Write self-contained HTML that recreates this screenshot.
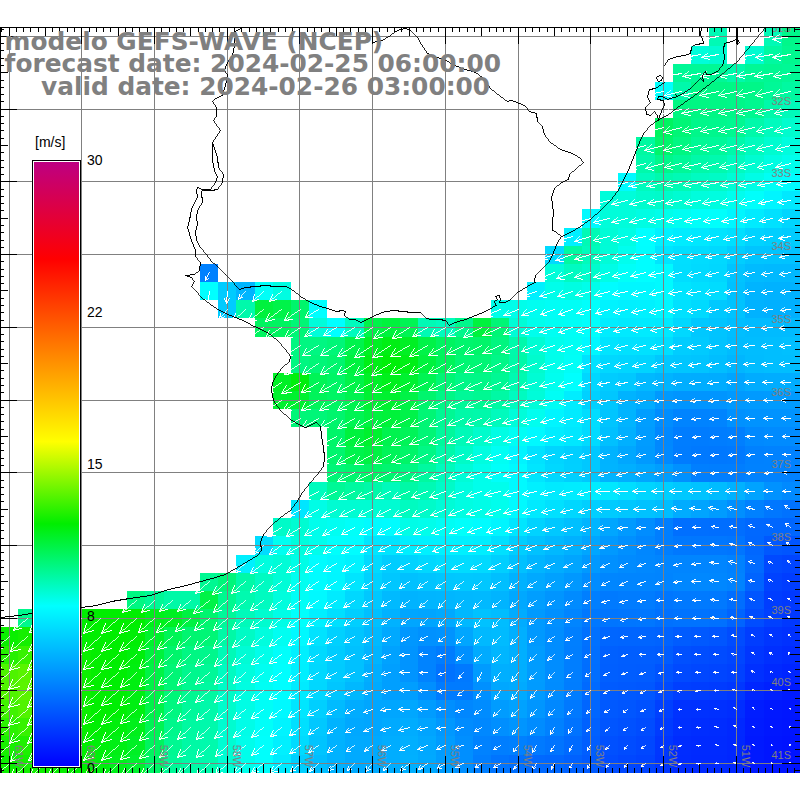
<!DOCTYPE html>
<html><head><meta charset="utf-8"><title>GEFS-WAVE wind</title>
<style>html,body{margin:0;padding:0;background:#fff;}svg{display:block;font-family:"Liberation Sans",sans-serif;}</style></head><body>
<svg width="800" height="800" viewBox="0 0 800 800">
<defs><clipPath id="cp"><rect x="0" y="27" width="800" height="746"/></clipPath>
<linearGradient id="cb" x1="0" y1="1" x2="0" y2="0"><stop offset="0" stop-color="#0000ff"/><stop offset="0.265" stop-color="#00ffff"/><stop offset="0.401" stop-color="#00ee00"/><stop offset="0.537" stop-color="#ffff00"/><stop offset="0.839" stop-color="#ff0000"/><stop offset="1" stop-color="#be0082"/></linearGradient></defs>
<rect width="800" height="800" fill="#fff"/>
<g shape-rendering="crispEdges">
<rect x="709" y="28" width="18" height="18" fill="#00fab5"/><rect x="764" y="28" width="18" height="18" fill="#00fab5"/><rect x="782" y="28" width="18" height="18" fill="#00f78a"/>
<rect x="691" y="46" width="18" height="18" fill="#00fdda"/><rect x="709" y="46" width="18" height="18" fill="#00fcd1"/><rect x="745" y="46" width="19" height="18" fill="#00fcd1"/><rect x="764" y="46" width="18" height="18" fill="#00f9a1"/><rect x="782" y="46" width="18" height="18" fill="#00f88f"/>
<rect x="673" y="64" width="18" height="18" fill="#00f896"/><rect x="691" y="64" width="18" height="18" fill="#00f896"/><rect x="709" y="64" width="18" height="18" fill="#00f896"/><rect x="727" y="64" width="18" height="18" fill="#00f9ab"/><rect x="745" y="64" width="19" height="18" fill="#00f896"/><rect x="764" y="64" width="18" height="18" fill="#00f892"/><rect x="782" y="64" width="18" height="18" fill="#00f896"/>
<rect x="655" y="82" width="18" height="18" fill="#00fffd"/><rect x="673" y="82" width="18" height="18" fill="#00f9ab"/><rect x="691" y="82" width="18" height="18" fill="#00f786"/><rect x="709" y="82" width="18" height="18" fill="#00f785"/><rect x="727" y="82" width="18" height="18" fill="#00f786"/><rect x="745" y="82" width="19" height="18" fill="#00f788"/><rect x="764" y="82" width="18" height="18" fill="#00f897"/><rect x="782" y="82" width="18" height="18" fill="#00f9a1"/>
<rect x="673" y="100" width="18" height="18" fill="#00f781"/><rect x="691" y="100" width="18" height="18" fill="#00f783"/><rect x="709" y="100" width="18" height="18" fill="#00f785"/><rect x="727" y="100" width="18" height="18" fill="#00f789"/><rect x="745" y="100" width="19" height="18" fill="#00f890"/><rect x="764" y="100" width="18" height="18" fill="#00f9aa"/><rect x="782" y="100" width="18" height="18" fill="#00faba"/>
<rect x="655" y="118" width="18" height="19" fill="#00f460"/><rect x="673" y="118" width="18" height="19" fill="#00f676"/><rect x="691" y="118" width="18" height="19" fill="#00f78a"/><rect x="709" y="118" width="18" height="19" fill="#00f78d"/><rect x="727" y="118" width="18" height="19" fill="#00f891"/><rect x="745" y="118" width="19" height="19" fill="#00f9aa"/><rect x="764" y="118" width="18" height="19" fill="#00fbbe"/><rect x="782" y="118" width="18" height="19" fill="#00fcce"/>
<rect x="636" y="137" width="19" height="18" fill="#00f9a1"/><rect x="655" y="137" width="18" height="18" fill="#00f56b"/><rect x="673" y="137" width="18" height="18" fill="#00f782"/><rect x="691" y="137" width="18" height="18" fill="#00f895"/><rect x="709" y="137" width="18" height="18" fill="#00f89a"/><rect x="727" y="137" width="18" height="18" fill="#00f9aa"/><rect x="745" y="137" width="19" height="18" fill="#00fbbe"/><rect x="764" y="137" width="18" height="18" fill="#00fcd0"/><rect x="782" y="137" width="18" height="18" fill="#00fdde"/>
<rect x="636" y="155" width="19" height="18" fill="#00f9ab"/><rect x="655" y="155" width="18" height="18" fill="#00f78b"/><rect x="673" y="155" width="18" height="18" fill="#00f898"/><rect x="691" y="155" width="18" height="18" fill="#00f9a9"/><rect x="709" y="155" width="18" height="18" fill="#00faae"/><rect x="727" y="155" width="18" height="18" fill="#00fbbf"/><rect x="745" y="155" width="19" height="18" fill="#00fcd1"/><rect x="764" y="155" width="18" height="18" fill="#00fde2"/><rect x="782" y="155" width="18" height="18" fill="#00feec"/>
<rect x="618" y="173" width="18" height="18" fill="#00faff"/><rect x="636" y="173" width="19" height="18" fill="#00fbbe"/><rect x="655" y="173" width="18" height="18" fill="#00faad"/><rect x="673" y="173" width="18" height="18" fill="#00fab5"/><rect x="691" y="173" width="18" height="18" fill="#00fbc1"/><rect x="709" y="173" width="18" height="18" fill="#00fbc6"/><rect x="727" y="173" width="18" height="18" fill="#00fcd5"/><rect x="745" y="173" width="19" height="18" fill="#00fde6"/><rect x="764" y="173" width="18" height="18" fill="#00fef5"/><rect x="782" y="173" width="18" height="18" fill="#00fdff"/>
<rect x="600" y="191" width="18" height="18" fill="#00fdda"/><rect x="618" y="191" width="18" height="18" fill="#00fdda"/><rect x="636" y="191" width="19" height="18" fill="#00fccd"/><rect x="655" y="191" width="18" height="18" fill="#00fbca"/><rect x="673" y="191" width="18" height="18" fill="#00fcd2"/><rect x="691" y="191" width="18" height="18" fill="#00fddc"/><rect x="709" y="191" width="18" height="18" fill="#00fde0"/><rect x="727" y="191" width="18" height="18" fill="#00feee"/><rect x="745" y="191" width="19" height="18" fill="#00fffb"/><rect x="764" y="191" width="18" height="18" fill="#00f5ff"/><rect x="782" y="191" width="18" height="18" fill="#00e9ff"/>
<rect x="582" y="209" width="18" height="19" fill="#00faff"/><rect x="600" y="209" width="18" height="19" fill="#00fdda"/><rect x="618" y="209" width="18" height="19" fill="#00fddb"/><rect x="636" y="209" width="19" height="19" fill="#00fde3"/><rect x="655" y="209" width="18" height="19" fill="#00feea"/><rect x="673" y="209" width="18" height="19" fill="#00fef2"/><rect x="691" y="209" width="18" height="19" fill="#00fffa"/><rect x="709" y="209" width="18" height="19" fill="#00fffc"/><rect x="727" y="209" width="18" height="19" fill="#00f6ff"/><rect x="745" y="209" width="19" height="19" fill="#00ebff"/><rect x="764" y="209" width="18" height="19" fill="#00e1ff"/><rect x="782" y="209" width="18" height="19" fill="#00d6ff"/>
<rect x="564" y="228" width="18" height="18" fill="#00f0ff"/><rect x="582" y="228" width="18" height="18" fill="#00fab5"/><rect x="600" y="228" width="18" height="18" fill="#00fcd6"/><rect x="618" y="228" width="18" height="18" fill="#00fde4"/><rect x="636" y="228" width="19" height="18" fill="#00ffff"/><rect x="655" y="228" width="18" height="18" fill="#00f1ff"/><rect x="673" y="228" width="18" height="18" fill="#00ecff"/><rect x="691" y="228" width="18" height="18" fill="#00e8ff"/><rect x="709" y="228" width="18" height="18" fill="#00e4ff"/><rect x="727" y="228" width="18" height="18" fill="#00dfff"/><rect x="745" y="228" width="19" height="18" fill="#00d3ff"/><rect x="764" y="228" width="18" height="18" fill="#00cfff"/><rect x="782" y="228" width="18" height="18" fill="#00ccff"/>
<rect x="545" y="246" width="19" height="18" fill="#00daff"/><rect x="564" y="246" width="18" height="18" fill="#00f9a1"/><rect x="582" y="246" width="18" height="18" fill="#00fbbc"/><rect x="600" y="246" width="18" height="18" fill="#00fcd8"/><rect x="618" y="246" width="18" height="18" fill="#00feee"/><rect x="636" y="246" width="19" height="18" fill="#00feff"/><rect x="655" y="246" width="18" height="18" fill="#00e5ff"/><rect x="673" y="246" width="18" height="18" fill="#00dfff"/><rect x="691" y="246" width="18" height="18" fill="#00dcff"/><rect x="709" y="246" width="18" height="18" fill="#00d9ff"/><rect x="727" y="246" width="18" height="18" fill="#00ceff"/><rect x="745" y="246" width="19" height="18" fill="#00c5ff"/><rect x="764" y="246" width="18" height="18" fill="#00c4ff"/><rect x="782" y="246" width="18" height="18" fill="#00c3ff"/>
<rect x="200" y="264" width="18" height="18" fill="#0081ff"/><rect x="545" y="264" width="19" height="18" fill="#00fdda"/><rect x="564" y="264" width="18" height="18" fill="#00fbc1"/><rect x="582" y="264" width="18" height="18" fill="#00fccc"/><rect x="600" y="264" width="18" height="18" fill="#00fde6"/><rect x="618" y="264" width="18" height="18" fill="#00fff8"/><rect x="636" y="264" width="19" height="18" fill="#00feff"/><rect x="655" y="264" width="18" height="18" fill="#00faff"/><rect x="673" y="264" width="18" height="18" fill="#00deff"/><rect x="691" y="264" width="18" height="18" fill="#00daff"/><rect x="709" y="264" width="18" height="18" fill="#00d7ff"/><rect x="727" y="264" width="18" height="18" fill="#00c4ff"/><rect x="745" y="264" width="19" height="18" fill="#00bbff"/><rect x="764" y="264" width="18" height="18" fill="#00b9ff"/><rect x="782" y="264" width="18" height="18" fill="#00b9ff"/>
<rect x="200" y="282" width="18" height="18" fill="#00ffff"/><rect x="218" y="282" width="18" height="18" fill="#00cbff"/><rect x="236" y="282" width="19" height="18" fill="#00b5ff"/><rect x="255" y="282" width="18" height="18" fill="#00fff8"/><rect x="273" y="282" width="18" height="18" fill="#00fde2"/><rect x="527" y="282" width="18" height="18" fill="#00f0ff"/><rect x="545" y="282" width="19" height="18" fill="#00feea"/><rect x="564" y="282" width="18" height="18" fill="#00fde2"/><rect x="582" y="282" width="18" height="18" fill="#00feea"/><rect x="600" y="282" width="18" height="18" fill="#00fcff"/><rect x="618" y="282" width="18" height="18" fill="#00f7ff"/><rect x="636" y="282" width="19" height="18" fill="#00f7ff"/><rect x="655" y="282" width="18" height="18" fill="#00faff"/><rect x="673" y="282" width="18" height="18" fill="#00e5ff"/><rect x="691" y="282" width="18" height="18" fill="#00e0ff"/><rect x="709" y="282" width="18" height="18" fill="#00dcff"/><rect x="727" y="282" width="18" height="18" fill="#00c1ff"/><rect x="745" y="282" width="19" height="18" fill="#00b4ff"/><rect x="764" y="282" width="18" height="18" fill="#00b2ff"/><rect x="782" y="282" width="18" height="18" fill="#00b2ff"/>
<rect x="218" y="300" width="18" height="18" fill="#00cbff"/><rect x="236" y="300" width="19" height="18" fill="#00f9ab"/><rect x="255" y="300" width="18" height="18" fill="#00f23d"/><rect x="273" y="300" width="18" height="18" fill="#00f349"/><rect x="291" y="300" width="18" height="18" fill="#00f56b"/><rect x="309" y="300" width="18" height="18" fill="#00ffff"/><rect x="491" y="300" width="18" height="18" fill="#00feea"/><rect x="509" y="300" width="18" height="18" fill="#00feea"/><rect x="527" y="300" width="18" height="18" fill="#00fef1"/><rect x="545" y="300" width="19" height="18" fill="#00fef6"/><rect x="564" y="300" width="18" height="18" fill="#00fef6"/><rect x="582" y="300" width="18" height="18" fill="#00fffc"/><rect x="600" y="300" width="18" height="18" fill="#00f3ff"/><rect x="618" y="300" width="18" height="18" fill="#00f0ff"/><rect x="636" y="300" width="19" height="18" fill="#00f1ff"/><rect x="655" y="300" width="18" height="18" fill="#00f6ff"/><rect x="673" y="300" width="18" height="18" fill="#00e1ff"/><rect x="691" y="300" width="18" height="18" fill="#00daff"/><rect x="709" y="300" width="18" height="18" fill="#00c9ff"/><rect x="727" y="300" width="18" height="18" fill="#00c3ff"/><rect x="745" y="300" width="19" height="18" fill="#00b2ff"/><rect x="764" y="300" width="18" height="18" fill="#00b0ff"/><rect x="782" y="300" width="18" height="18" fill="#00b0ff"/>
<rect x="255" y="318" width="18" height="19" fill="#00f460"/><rect x="273" y="318" width="18" height="19" fill="#00f460"/><rect x="291" y="318" width="18" height="19" fill="#00f676"/><rect x="309" y="318" width="18" height="19" fill="#00fdda"/><rect x="327" y="318" width="18" height="19" fill="#00ffff"/><rect x="345" y="318" width="19" height="19" fill="#00fbbe"/><rect x="364" y="318" width="18" height="19" fill="#00f349"/><rect x="382" y="318" width="18" height="19" fill="#00f23d"/><rect x="400" y="318" width="18" height="19" fill="#00f454"/><rect x="418" y="318" width="18" height="19" fill="#00fab5"/><rect x="436" y="318" width="19" height="19" fill="#00fbbe"/><rect x="455" y="318" width="18" height="19" fill="#00f78c"/><rect x="473" y="318" width="18" height="19" fill="#00f23d"/><rect x="491" y="318" width="18" height="19" fill="#00f676"/><rect x="509" y="318" width="18" height="19" fill="#00fcd6"/><rect x="527" y="318" width="18" height="19" fill="#00feec"/><rect x="545" y="318" width="19" height="19" fill="#00fef3"/><rect x="564" y="318" width="18" height="19" fill="#00fef6"/><rect x="582" y="318" width="18" height="19" fill="#00fffc"/><rect x="600" y="318" width="18" height="19" fill="#00edff"/><rect x="618" y="318" width="18" height="19" fill="#00eaff"/><rect x="636" y="318" width="19" height="19" fill="#00ebff"/><rect x="655" y="318" width="18" height="19" fill="#00e9ff"/><rect x="673" y="318" width="18" height="19" fill="#00d8ff"/><rect x="691" y="318" width="18" height="19" fill="#00c8ff"/><rect x="709" y="318" width="18" height="19" fill="#00c4ff"/><rect x="727" y="318" width="18" height="19" fill="#00beff"/><rect x="745" y="318" width="19" height="19" fill="#00bbff"/><rect x="764" y="318" width="18" height="19" fill="#00bbff"/><rect x="782" y="318" width="18" height="19" fill="#00bbff"/>
<rect x="291" y="337" width="18" height="18" fill="#00f781"/><rect x="309" y="337" width="18" height="18" fill="#00f782"/><rect x="327" y="337" width="18" height="18" fill="#00f678"/><rect x="345" y="337" width="19" height="18" fill="#00f34c"/><rect x="364" y="337" width="18" height="18" fill="#00f023"/><rect x="382" y="337" width="18" height="18" fill="#00ef14"/><rect x="400" y="337" width="18" height="18" fill="#00f024"/><rect x="418" y="337" width="18" height="18" fill="#00f348"/><rect x="436" y="337" width="19" height="18" fill="#00f460"/><rect x="455" y="337" width="18" height="18" fill="#00f56d"/><rect x="473" y="337" width="18" height="18" fill="#00f569"/><rect x="491" y="337" width="18" height="18" fill="#00f67f"/><rect x="509" y="337" width="18" height="18" fill="#00f9ab"/><rect x="527" y="337" width="18" height="18" fill="#00fcd3"/><rect x="545" y="337" width="19" height="18" fill="#00feec"/><rect x="564" y="337" width="18" height="18" fill="#00fef4"/><rect x="582" y="337" width="18" height="18" fill="#00f8ff"/><rect x="600" y="337" width="18" height="18" fill="#00e4ff"/><rect x="618" y="337" width="18" height="18" fill="#00e1ff"/><rect x="636" y="337" width="19" height="18" fill="#00e1ff"/><rect x="655" y="337" width="18" height="18" fill="#00deff"/><rect x="673" y="337" width="18" height="18" fill="#00cdff"/><rect x="691" y="337" width="18" height="18" fill="#00caff"/><rect x="709" y="337" width="18" height="18" fill="#00c3ff"/><rect x="727" y="337" width="18" height="18" fill="#00bcff"/><rect x="745" y="337" width="19" height="18" fill="#00bdff"/><rect x="764" y="337" width="18" height="18" fill="#00beff"/><rect x="782" y="337" width="18" height="18" fill="#00c0ff"/>
<rect x="291" y="355" width="18" height="18" fill="#00f781"/><rect x="309" y="355" width="18" height="18" fill="#00f678"/><rect x="327" y="355" width="18" height="18" fill="#00f56e"/><rect x="345" y="355" width="19" height="18" fill="#00f23f"/><rect x="364" y="355" width="18" height="18" fill="#00ef15"/><rect x="382" y="355" width="18" height="18" fill="#00ef08"/><rect x="400" y="355" width="18" height="18" fill="#00ef16"/><rect x="418" y="355" width="18" height="18" fill="#00f23e"/><rect x="436" y="355" width="19" height="18" fill="#00f459"/><rect x="455" y="355" width="18" height="18" fill="#00f673"/><rect x="473" y="355" width="18" height="18" fill="#00f675"/><rect x="491" y="355" width="18" height="18" fill="#00f788"/><rect x="509" y="355" width="18" height="18" fill="#00f9a8"/><rect x="527" y="355" width="18" height="18" fill="#00fccd"/><rect x="545" y="355" width="19" height="18" fill="#00feeb"/><rect x="564" y="355" width="18" height="18" fill="#00fef7"/><rect x="582" y="355" width="18" height="18" fill="#00e2ff"/><rect x="600" y="355" width="18" height="18" fill="#00d8ff"/><rect x="618" y="355" width="18" height="18" fill="#00d6ff"/><rect x="636" y="355" width="19" height="18" fill="#00d4ff"/><rect x="655" y="355" width="18" height="18" fill="#00c8ff"/><rect x="673" y="355" width="18" height="18" fill="#00c6ff"/><rect x="691" y="355" width="18" height="18" fill="#00c4ff"/><rect x="709" y="355" width="18" height="18" fill="#00beff"/><rect x="727" y="355" width="18" height="18" fill="#00b6ff"/><rect x="745" y="355" width="19" height="18" fill="#00bcff"/><rect x="764" y="355" width="18" height="18" fill="#00beff"/><rect x="782" y="355" width="18" height="18" fill="#00beff"/>
<rect x="273" y="373" width="18" height="18" fill="#00f025"/><rect x="291" y="373" width="18" height="18" fill="#00ef0c"/><rect x="309" y="373" width="18" height="18" fill="#00f456"/><rect x="327" y="373" width="18" height="18" fill="#00f566"/><rect x="345" y="373" width="19" height="18" fill="#00f348"/><rect x="364" y="373" width="18" height="18" fill="#00f127"/><rect x="382" y="373" width="18" height="18" fill="#00f01c"/><rect x="400" y="373" width="18" height="18" fill="#00f131"/><rect x="418" y="373" width="18" height="18" fill="#00f453"/><rect x="436" y="373" width="19" height="18" fill="#00f674"/><rect x="455" y="373" width="18" height="18" fill="#00f787"/><rect x="473" y="373" width="18" height="18" fill="#00f787"/><rect x="491" y="373" width="18" height="18" fill="#00f894"/><rect x="509" y="373" width="18" height="18" fill="#00fab1"/><rect x="527" y="373" width="18" height="18" fill="#00fcd4"/><rect x="545" y="373" width="19" height="18" fill="#00feef"/><rect x="564" y="373" width="18" height="18" fill="#00fffe"/><rect x="582" y="373" width="18" height="18" fill="#00d7ff"/><rect x="600" y="373" width="18" height="18" fill="#00ccff"/><rect x="618" y="373" width="18" height="18" fill="#00c8ff"/><rect x="636" y="373" width="19" height="18" fill="#00b9ff"/><rect x="655" y="373" width="18" height="18" fill="#00b4ff"/><rect x="673" y="373" width="18" height="18" fill="#00aeff"/><rect x="691" y="373" width="18" height="18" fill="#00adff"/><rect x="709" y="373" width="18" height="18" fill="#00acff"/><rect x="727" y="373" width="18" height="18" fill="#00a5ff"/><rect x="745" y="373" width="19" height="18" fill="#00acff"/><rect x="764" y="373" width="18" height="18" fill="#00adff"/><rect x="782" y="373" width="18" height="18" fill="#00adff"/>
<rect x="273" y="391" width="18" height="18" fill="#00f12f"/><rect x="291" y="391" width="18" height="18" fill="#00f12f"/><rect x="309" y="391" width="18" height="18" fill="#00f45a"/><rect x="327" y="391" width="18" height="18" fill="#00f564"/><rect x="345" y="391" width="19" height="18" fill="#00f350"/><rect x="364" y="391" width="18" height="18" fill="#00f133"/><rect x="382" y="391" width="18" height="18" fill="#00f130"/><rect x="400" y="391" width="18" height="18" fill="#00f346"/><rect x="418" y="391" width="18" height="18" fill="#00f56d"/><rect x="436" y="391" width="19" height="18" fill="#00f786"/><rect x="455" y="391" width="18" height="18" fill="#00f898"/><rect x="473" y="391" width="18" height="18" fill="#00f892"/><rect x="491" y="391" width="18" height="18" fill="#00f9a4"/><rect x="509" y="391" width="18" height="18" fill="#00fbc0"/><rect x="527" y="391" width="18" height="18" fill="#00fcd9"/><rect x="545" y="391" width="19" height="18" fill="#00fef5"/><rect x="564" y="391" width="18" height="18" fill="#00edff"/><rect x="582" y="391" width="18" height="18" fill="#00d1ff"/><rect x="600" y="391" width="18" height="18" fill="#00c7ff"/><rect x="618" y="391" width="18" height="18" fill="#00b3ff"/><rect x="636" y="391" width="19" height="18" fill="#00acff"/><rect x="655" y="391" width="18" height="18" fill="#0099ff"/><rect x="673" y="391" width="18" height="18" fill="#0095ff"/><rect x="691" y="391" width="18" height="18" fill="#0095ff"/><rect x="709" y="391" width="18" height="18" fill="#0095ff"/><rect x="727" y="391" width="18" height="18" fill="#0099ff"/><rect x="745" y="391" width="19" height="18" fill="#009aff"/><rect x="764" y="391" width="18" height="18" fill="#009bff"/><rect x="782" y="391" width="18" height="18" fill="#009bff"/>
<rect x="291" y="409" width="18" height="18" fill="#00f678"/><rect x="309" y="409" width="18" height="18" fill="#00f678"/><rect x="327" y="409" width="18" height="18" fill="#00f56d"/><rect x="345" y="409" width="19" height="18" fill="#00f453"/><rect x="364" y="409" width="18" height="18" fill="#00f240"/><rect x="382" y="409" width="18" height="18" fill="#00f23a"/><rect x="400" y="409" width="18" height="18" fill="#00f349"/><rect x="418" y="409" width="18" height="18" fill="#00f675"/><rect x="436" y="409" width="19" height="18" fill="#00f894"/><rect x="455" y="409" width="18" height="18" fill="#00f9a8"/><rect x="473" y="409" width="18" height="18" fill="#00f9ab"/><rect x="491" y="409" width="18" height="18" fill="#00fbbd"/><rect x="509" y="409" width="18" height="18" fill="#00fdda"/><rect x="527" y="409" width="18" height="18" fill="#00feef"/><rect x="545" y="409" width="19" height="18" fill="#00f5ff"/><rect x="564" y="409" width="18" height="18" fill="#00ebff"/><rect x="582" y="409" width="18" height="18" fill="#00ddff"/><rect x="600" y="409" width="18" height="18" fill="#00c5ff"/><rect x="618" y="409" width="18" height="18" fill="#00b4ff"/><rect x="636" y="409" width="19" height="18" fill="#009eff"/><rect x="655" y="409" width="18" height="18" fill="#008dff"/><rect x="673" y="409" width="18" height="18" fill="#0084ff"/><rect x="691" y="409" width="18" height="18" fill="#0083ff"/><rect x="709" y="409" width="18" height="18" fill="#0084ff"/><rect x="727" y="409" width="18" height="18" fill="#0091ff"/><rect x="745" y="409" width="19" height="18" fill="#0093ff"/><rect x="764" y="409" width="18" height="18" fill="#0093ff"/><rect x="782" y="409" width="18" height="18" fill="#0093ff"/>
<rect x="327" y="427" width="18" height="19" fill="#00f569"/><rect x="345" y="427" width="19" height="19" fill="#00f23e"/><rect x="364" y="427" width="18" height="19" fill="#00f12e"/><rect x="382" y="427" width="18" height="19" fill="#00f34e"/><rect x="400" y="427" width="18" height="19" fill="#00f458"/><rect x="418" y="427" width="18" height="19" fill="#00f676"/><rect x="436" y="427" width="19" height="19" fill="#00f89c"/><rect x="455" y="427" width="18" height="19" fill="#00fab8"/><rect x="473" y="427" width="18" height="19" fill="#00fccc"/><rect x="491" y="427" width="18" height="19" fill="#00fde4"/><rect x="509" y="427" width="18" height="19" fill="#00fef5"/><rect x="527" y="427" width="18" height="19" fill="#00f9ff"/><rect x="545" y="427" width="19" height="19" fill="#00edff"/><rect x="564" y="427" width="18" height="19" fill="#00e7ff"/><rect x="582" y="427" width="18" height="19" fill="#00dbff"/><rect x="600" y="427" width="18" height="19" fill="#00c0ff"/><rect x="618" y="427" width="18" height="19" fill="#00b0ff"/><rect x="636" y="427" width="19" height="19" fill="#009cff"/><rect x="655" y="427" width="18" height="19" fill="#0088ff"/><rect x="673" y="427" width="18" height="19" fill="#007dff"/><rect x="691" y="427" width="18" height="19" fill="#007cff"/><rect x="709" y="427" width="18" height="19" fill="#007dff"/><rect x="727" y="427" width="18" height="19" fill="#007fff"/><rect x="745" y="427" width="19" height="19" fill="#0089ff"/><rect x="764" y="427" width="18" height="19" fill="#008bff"/><rect x="782" y="427" width="18" height="19" fill="#008bff"/>
<rect x="327" y="446" width="18" height="18" fill="#00f56e"/><rect x="345" y="446" width="19" height="18" fill="#00f34c"/><rect x="364" y="446" width="18" height="18" fill="#00f243"/><rect x="382" y="446" width="18" height="18" fill="#00f459"/><rect x="400" y="446" width="18" height="18" fill="#00f568"/><rect x="418" y="446" width="18" height="18" fill="#00f785"/><rect x="436" y="446" width="19" height="18" fill="#00f9aa"/><rect x="455" y="446" width="18" height="18" fill="#00fbc7"/><rect x="473" y="446" width="18" height="18" fill="#00fde0"/><rect x="491" y="446" width="18" height="18" fill="#00fef4"/><rect x="509" y="446" width="18" height="18" fill="#00f4ff"/><rect x="527" y="446" width="18" height="18" fill="#00e2ff"/><rect x="545" y="446" width="19" height="18" fill="#00d5ff"/><rect x="564" y="446" width="18" height="18" fill="#00cfff"/><rect x="582" y="446" width="18" height="18" fill="#00c8ff"/><rect x="600" y="446" width="18" height="18" fill="#00b3ff"/><rect x="618" y="446" width="18" height="18" fill="#00a7ff"/><rect x="636" y="446" width="19" height="18" fill="#009aff"/><rect x="655" y="446" width="18" height="18" fill="#0089ff"/><rect x="673" y="446" width="18" height="18" fill="#007cff"/><rect x="691" y="446" width="18" height="18" fill="#0079ff"/><rect x="709" y="446" width="18" height="18" fill="#0078ff"/><rect x="727" y="446" width="18" height="18" fill="#0079ff"/><rect x="745" y="446" width="19" height="18" fill="#0081ff"/><rect x="764" y="446" width="18" height="18" fill="#0082ff"/><rect x="782" y="446" width="18" height="18" fill="#0082ff"/>
<rect x="327" y="464" width="18" height="18" fill="#00f678"/><rect x="345" y="464" width="19" height="18" fill="#00f56f"/><rect x="364" y="464" width="18" height="18" fill="#00f566"/><rect x="382" y="464" width="18" height="18" fill="#00f570"/><rect x="400" y="464" width="18" height="18" fill="#00f783"/><rect x="418" y="464" width="18" height="18" fill="#00f9a0"/><rect x="436" y="464" width="19" height="18" fill="#00fbbd"/><rect x="455" y="464" width="18" height="18" fill="#00fcd7"/><rect x="473" y="464" width="18" height="18" fill="#00feea"/><rect x="491" y="464" width="18" height="18" fill="#00fff9"/><rect x="509" y="464" width="18" height="18" fill="#00faff"/><rect x="527" y="464" width="18" height="18" fill="#00e6ff"/><rect x="545" y="464" width="19" height="18" fill="#00d8ff"/><rect x="564" y="464" width="18" height="18" fill="#00d0ff"/><rect x="582" y="464" width="18" height="18" fill="#00c8ff"/><rect x="600" y="464" width="18" height="18" fill="#00b4ff"/><rect x="618" y="464" width="18" height="18" fill="#00afff"/><rect x="636" y="464" width="19" height="18" fill="#00a7ff"/><rect x="655" y="464" width="18" height="18" fill="#009eff"/><rect x="673" y="464" width="18" height="18" fill="#0091ff"/><rect x="691" y="464" width="18" height="18" fill="#007fff"/><rect x="709" y="464" width="18" height="18" fill="#007eff"/><rect x="727" y="464" width="18" height="18" fill="#007eff"/><rect x="745" y="464" width="19" height="18" fill="#0082ff"/><rect x="764" y="464" width="18" height="18" fill="#0082ff"/><rect x="782" y="464" width="18" height="18" fill="#0081ff"/>
<rect x="309" y="482" width="18" height="18" fill="#00fbbe"/><rect x="327" y="482" width="18" height="18" fill="#00f896"/><rect x="345" y="482" width="19" height="18" fill="#00f9a0"/><rect x="364" y="482" width="18" height="18" fill="#00f9a9"/><rect x="382" y="482" width="18" height="18" fill="#00fabb"/><rect x="400" y="482" width="18" height="18" fill="#00f9a6"/><rect x="418" y="482" width="18" height="18" fill="#00fab4"/><rect x="436" y="482" width="19" height="18" fill="#00fbc8"/><rect x="455" y="482" width="18" height="18" fill="#00fde0"/><rect x="473" y="482" width="18" height="18" fill="#00feeb"/><rect x="491" y="482" width="18" height="18" fill="#00feec"/><rect x="509" y="482" width="18" height="18" fill="#00faff"/><rect x="527" y="482" width="18" height="18" fill="#00f0ff"/><rect x="545" y="482" width="19" height="18" fill="#00eaff"/><rect x="564" y="482" width="18" height="18" fill="#00ecff"/><rect x="582" y="482" width="18" height="18" fill="#00edff"/><rect x="600" y="482" width="18" height="18" fill="#00e8ff"/><rect x="618" y="482" width="18" height="18" fill="#00deff"/><rect x="636" y="482" width="19" height="18" fill="#00d5ff"/><rect x="655" y="482" width="18" height="18" fill="#00cfff"/><rect x="673" y="482" width="18" height="18" fill="#00c8ff"/><rect x="691" y="482" width="18" height="18" fill="#00c3ff"/><rect x="709" y="482" width="18" height="18" fill="#00bcff"/><rect x="727" y="482" width="18" height="18" fill="#00b2ff"/><rect x="745" y="482" width="19" height="18" fill="#00a3ff"/><rect x="764" y="482" width="18" height="18" fill="#0092ff"/><rect x="782" y="482" width="18" height="18" fill="#008aff"/>
<rect x="291" y="500" width="18" height="18" fill="#00e6ff"/><rect x="309" y="500" width="18" height="18" fill="#00fde6"/><rect x="327" y="500" width="18" height="18" fill="#00fcd2"/><rect x="345" y="500" width="19" height="18" fill="#00fcd2"/><rect x="364" y="500" width="18" height="18" fill="#00fcd2"/><rect x="382" y="500" width="18" height="18" fill="#00fcd2"/><rect x="400" y="500" width="18" height="18" fill="#00fbc0"/><rect x="418" y="500" width="18" height="18" fill="#00fbc9"/><rect x="436" y="500" width="19" height="18" fill="#00fcd7"/><rect x="455" y="500" width="18" height="18" fill="#00fde2"/><rect x="473" y="500" width="18" height="18" fill="#00fde7"/><rect x="491" y="500" width="18" height="18" fill="#00feed"/><rect x="509" y="500" width="18" height="18" fill="#00faff"/><rect x="527" y="500" width="18" height="18" fill="#00eaff"/><rect x="545" y="500" width="19" height="18" fill="#00e1ff"/><rect x="564" y="500" width="18" height="18" fill="#00d7ff"/><rect x="582" y="500" width="18" height="18" fill="#00cfff"/><rect x="600" y="500" width="18" height="18" fill="#00cbff"/><rect x="618" y="500" width="18" height="18" fill="#00c7ff"/><rect x="636" y="500" width="19" height="18" fill="#00c2ff"/><rect x="655" y="500" width="18" height="18" fill="#00beff"/><rect x="673" y="500" width="18" height="18" fill="#00acff"/><rect x="691" y="500" width="18" height="18" fill="#00a4ff"/><rect x="709" y="500" width="18" height="18" fill="#009cff"/><rect x="727" y="500" width="18" height="18" fill="#008fff"/><rect x="745" y="500" width="19" height="18" fill="#0081ff"/><rect x="764" y="500" width="18" height="18" fill="#0077ff"/><rect x="782" y="500" width="18" height="18" fill="#0072ff"/>
<rect x="273" y="518" width="18" height="18" fill="#00fbc8"/><rect x="291" y="518" width="18" height="18" fill="#00fcd2"/><rect x="309" y="518" width="18" height="18" fill="#00feec"/><rect x="327" y="518" width="18" height="18" fill="#00fef2"/><rect x="345" y="518" width="19" height="18" fill="#00fff9"/><rect x="364" y="518" width="18" height="18" fill="#00fbff"/><rect x="382" y="518" width="18" height="18" fill="#00fcff"/><rect x="400" y="518" width="18" height="18" fill="#00fde7"/><rect x="418" y="518" width="18" height="18" fill="#00feeb"/><rect x="436" y="518" width="19" height="18" fill="#00fef5"/><rect x="455" y="518" width="18" height="18" fill="#00fffb"/><rect x="473" y="518" width="18" height="18" fill="#00fcff"/><rect x="491" y="518" width="18" height="18" fill="#00f5ff"/><rect x="509" y="518" width="18" height="18" fill="#00e6ff"/><rect x="527" y="518" width="18" height="18" fill="#00d3ff"/><rect x="545" y="518" width="19" height="18" fill="#00c8ff"/><rect x="564" y="518" width="18" height="18" fill="#00c0ff"/><rect x="582" y="518" width="18" height="18" fill="#00b5ff"/><rect x="600" y="518" width="18" height="18" fill="#00a6ff"/><rect x="618" y="518" width="18" height="18" fill="#009aff"/><rect x="636" y="518" width="19" height="18" fill="#008dff"/><rect x="655" y="518" width="18" height="18" fill="#007eff"/><rect x="673" y="518" width="18" height="18" fill="#006fff"/><rect x="691" y="518" width="18" height="18" fill="#006fff"/><rect x="709" y="518" width="18" height="18" fill="#006eff"/><rect x="727" y="518" width="18" height="18" fill="#006eff"/><rect x="745" y="518" width="19" height="18" fill="#0068ff"/><rect x="764" y="518" width="18" height="18" fill="#0067ff"/><rect x="782" y="518" width="18" height="18" fill="#0066ff"/>
<rect x="255" y="536" width="18" height="19" fill="#00dcff"/><rect x="273" y="536" width="18" height="19" fill="#00fef1"/><rect x="291" y="536" width="18" height="19" fill="#00fddd"/><rect x="309" y="536" width="18" height="19" fill="#00feec"/><rect x="327" y="536" width="18" height="19" fill="#00fffc"/><rect x="345" y="536" width="19" height="19" fill="#00fdff"/><rect x="364" y="536" width="18" height="19" fill="#00e6ff"/><rect x="382" y="536" width="18" height="19" fill="#00e4ff"/><rect x="400" y="536" width="18" height="19" fill="#00efff"/><rect x="418" y="536" width="18" height="19" fill="#00f1ff"/><rect x="436" y="536" width="19" height="19" fill="#00f1ff"/><rect x="455" y="536" width="18" height="19" fill="#00f0ff"/><rect x="473" y="536" width="18" height="19" fill="#00eeff"/><rect x="491" y="536" width="18" height="19" fill="#00e0ff"/><rect x="509" y="536" width="18" height="19" fill="#00ceff"/><rect x="527" y="536" width="18" height="19" fill="#00c2ff"/><rect x="545" y="536" width="19" height="19" fill="#00b9ff"/><rect x="564" y="536" width="18" height="19" fill="#00b1ff"/><rect x="582" y="536" width="18" height="19" fill="#00a6ff"/><rect x="600" y="536" width="18" height="19" fill="#0099ff"/><rect x="618" y="536" width="18" height="19" fill="#0090ff"/><rect x="636" y="536" width="19" height="19" fill="#0087ff"/><rect x="655" y="536" width="18" height="19" fill="#007eff"/><rect x="673" y="536" width="18" height="19" fill="#0078ff"/><rect x="691" y="536" width="18" height="19" fill="#0077ff"/><rect x="709" y="536" width="18" height="19" fill="#0077ff"/><rect x="727" y="536" width="18" height="19" fill="#0075ff"/><rect x="745" y="536" width="19" height="19" fill="#0067ff"/><rect x="764" y="536" width="18" height="19" fill="#0058ff"/><rect x="782" y="536" width="18" height="19" fill="#0055ff"/>
<rect x="236" y="555" width="19" height="18" fill="#00f0ff"/><rect x="255" y="555" width="18" height="18" fill="#00fdde"/><rect x="273" y="555" width="18" height="18" fill="#00fcd7"/><rect x="291" y="555" width="18" height="18" fill="#00fde7"/><rect x="309" y="555" width="18" height="18" fill="#00fcff"/><rect x="327" y="555" width="18" height="18" fill="#00f7ff"/><rect x="345" y="555" width="19" height="18" fill="#00f2ff"/><rect x="364" y="555" width="18" height="18" fill="#00daff"/><rect x="382" y="555" width="18" height="18" fill="#00cdff"/><rect x="400" y="555" width="18" height="18" fill="#00d3ff"/><rect x="418" y="555" width="18" height="18" fill="#00d8ff"/><rect x="436" y="555" width="19" height="18" fill="#00dcff"/><rect x="455" y="555" width="18" height="18" fill="#00dcff"/><rect x="473" y="555" width="18" height="18" fill="#00daff"/><rect x="491" y="555" width="18" height="18" fill="#00cfff"/><rect x="509" y="555" width="18" height="18" fill="#00c1ff"/><rect x="527" y="555" width="18" height="18" fill="#00b5ff"/><rect x="545" y="555" width="19" height="18" fill="#00adff"/><rect x="564" y="555" width="18" height="18" fill="#00a5ff"/><rect x="582" y="555" width="18" height="18" fill="#0099ff"/><rect x="600" y="555" width="18" height="18" fill="#0090ff"/><rect x="618" y="555" width="18" height="18" fill="#008bff"/><rect x="636" y="555" width="19" height="18" fill="#0088ff"/><rect x="655" y="555" width="18" height="18" fill="#0085ff"/><rect x="673" y="555" width="18" height="18" fill="#0085ff"/><rect x="691" y="555" width="18" height="18" fill="#0085ff"/><rect x="709" y="555" width="18" height="18" fill="#0085ff"/><rect x="727" y="555" width="18" height="18" fill="#0081ff"/><rect x="745" y="555" width="19" height="18" fill="#006aff"/><rect x="764" y="555" width="18" height="18" fill="#0049ff"/><rect x="782" y="555" width="18" height="18" fill="#0045ff"/>
<rect x="200" y="573" width="18" height="18" fill="#00f892"/><rect x="218" y="573" width="18" height="18" fill="#00f67a"/><rect x="236" y="573" width="19" height="18" fill="#00f9a7"/><rect x="255" y="573" width="18" height="18" fill="#00fbc2"/><rect x="273" y="573" width="18" height="18" fill="#00fcd7"/><rect x="291" y="573" width="18" height="18" fill="#00fef0"/><rect x="309" y="573" width="18" height="18" fill="#00fcff"/><rect x="327" y="573" width="18" height="18" fill="#00f6ff"/><rect x="345" y="573" width="19" height="18" fill="#00e5ff"/><rect x="364" y="573" width="18" height="18" fill="#00d2ff"/><rect x="382" y="573" width="18" height="18" fill="#00c7ff"/><rect x="400" y="573" width="18" height="18" fill="#00c1ff"/><rect x="418" y="573" width="18" height="18" fill="#00c4ff"/><rect x="436" y="573" width="19" height="18" fill="#00c7ff"/><rect x="455" y="573" width="18" height="18" fill="#00c8ff"/><rect x="473" y="573" width="18" height="18" fill="#00c7ff"/><rect x="491" y="573" width="18" height="18" fill="#00bfff"/><rect x="509" y="573" width="18" height="18" fill="#00b2ff"/><rect x="527" y="573" width="18" height="18" fill="#00a9ff"/><rect x="545" y="573" width="19" height="18" fill="#00a1ff"/><rect x="564" y="573" width="18" height="18" fill="#0098ff"/><rect x="582" y="573" width="18" height="18" fill="#008cff"/><rect x="600" y="573" width="18" height="18" fill="#0086ff"/><rect x="618" y="573" width="18" height="18" fill="#0085ff"/><rect x="636" y="573" width="19" height="18" fill="#0085ff"/><rect x="655" y="573" width="18" height="18" fill="#0084ff"/><rect x="673" y="573" width="18" height="18" fill="#0087ff"/><rect x="691" y="573" width="18" height="18" fill="#0088ff"/><rect x="709" y="573" width="18" height="18" fill="#0087ff"/><rect x="727" y="573" width="18" height="18" fill="#0083ff"/><rect x="745" y="573" width="19" height="18" fill="#0064ff"/><rect x="764" y="573" width="18" height="18" fill="#0042ff"/><rect x="782" y="573" width="18" height="18" fill="#003dff"/>
<rect x="127" y="591" width="18" height="18" fill="#00f782"/><rect x="145" y="591" width="19" height="18" fill="#00f896"/><rect x="164" y="591" width="18" height="18" fill="#00f9a7"/><rect x="182" y="591" width="18" height="18" fill="#00f9a7"/><rect x="200" y="591" width="18" height="18" fill="#00f347"/><rect x="218" y="591" width="18" height="18" fill="#00f88f"/><rect x="236" y="591" width="19" height="18" fill="#00faaf"/><rect x="255" y="591" width="18" height="18" fill="#00fbc0"/><rect x="273" y="591" width="18" height="18" fill="#00fddd"/><rect x="291" y="591" width="18" height="18" fill="#00fef6"/><rect x="309" y="591" width="18" height="18" fill="#00f9ff"/><rect x="327" y="591" width="18" height="18" fill="#00ebff"/><rect x="345" y="591" width="19" height="18" fill="#00d8ff"/><rect x="364" y="591" width="18" height="18" fill="#00c8ff"/><rect x="382" y="591" width="18" height="18" fill="#00baff"/><rect x="400" y="591" width="18" height="18" fill="#00b3ff"/><rect x="418" y="591" width="18" height="18" fill="#00b5ff"/><rect x="436" y="591" width="19" height="18" fill="#00b6ff"/><rect x="455" y="591" width="18" height="18" fill="#00b8ff"/><rect x="473" y="591" width="18" height="18" fill="#00b9ff"/><rect x="491" y="591" width="18" height="18" fill="#00b4ff"/><rect x="509" y="591" width="18" height="18" fill="#00a8ff"/><rect x="527" y="591" width="18" height="18" fill="#009eff"/><rect x="545" y="591" width="19" height="18" fill="#0095ff"/><rect x="564" y="591" width="18" height="18" fill="#008bff"/><rect x="582" y="591" width="18" height="18" fill="#007fff"/><rect x="600" y="591" width="18" height="18" fill="#007aff"/><rect x="618" y="591" width="18" height="18" fill="#007cff"/><rect x="636" y="591" width="19" height="18" fill="#007cff"/><rect x="655" y="591" width="18" height="18" fill="#0076ff"/><rect x="673" y="591" width="18" height="18" fill="#0079ff"/><rect x="691" y="591" width="18" height="18" fill="#007aff"/><rect x="709" y="591" width="18" height="18" fill="#0079ff"/><rect x="727" y="591" width="18" height="18" fill="#006eff"/><rect x="745" y="591" width="19" height="18" fill="#0055ff"/><rect x="764" y="591" width="18" height="18" fill="#003dff"/><rect x="782" y="591" width="18" height="18" fill="#0039ff"/>
<rect x="18" y="609" width="18" height="18" fill="#00f78c"/><rect x="36" y="609" width="19" height="18" fill="#00f01e"/><rect x="55" y="609" width="18" height="18" fill="#00ef0a"/><rect x="73" y="609" width="18" height="18" fill="#00ee00"/><rect x="91" y="609" width="18" height="18" fill="#00ee00"/><rect x="109" y="609" width="18" height="18" fill="#00ee00"/><rect x="127" y="609" width="18" height="18" fill="#00ee00"/><rect x="145" y="609" width="19" height="18" fill="#00f019"/><rect x="164" y="609" width="18" height="18" fill="#00f023"/><rect x="182" y="609" width="18" height="18" fill="#00f242"/><rect x="200" y="609" width="18" height="18" fill="#00f56f"/><rect x="218" y="609" width="18" height="18" fill="#00f89a"/><rect x="236" y="609" width="19" height="18" fill="#00faba"/><rect x="255" y="609" width="18" height="18" fill="#00fccf"/><rect x="273" y="609" width="18" height="18" fill="#00fde6"/><rect x="291" y="609" width="18" height="18" fill="#00fffc"/><rect x="309" y="609" width="18" height="18" fill="#00f0ff"/><rect x="327" y="609" width="18" height="18" fill="#00e0ff"/><rect x="345" y="609" width="19" height="18" fill="#00cfff"/><rect x="364" y="609" width="18" height="18" fill="#00c0ff"/><rect x="382" y="609" width="18" height="18" fill="#00b2ff"/><rect x="400" y="609" width="18" height="18" fill="#00a6ff"/><rect x="418" y="609" width="18" height="18" fill="#00a5ff"/><rect x="436" y="609" width="19" height="18" fill="#00a9ff"/><rect x="455" y="609" width="18" height="18" fill="#00b8ff"/><rect x="473" y="609" width="18" height="18" fill="#00c2ff"/><rect x="491" y="609" width="18" height="18" fill="#00bdff"/><rect x="509" y="609" width="18" height="18" fill="#00acff"/><rect x="527" y="609" width="18" height="18" fill="#009aff"/><rect x="545" y="609" width="19" height="18" fill="#0090ff"/><rect x="564" y="609" width="18" height="18" fill="#0085ff"/><rect x="582" y="609" width="18" height="18" fill="#0078ff"/><rect x="600" y="609" width="18" height="18" fill="#0075ff"/><rect x="618" y="609" width="18" height="18" fill="#0076ff"/><rect x="636" y="609" width="19" height="18" fill="#0077ff"/><rect x="655" y="609" width="18" height="18" fill="#0071ff"/><rect x="673" y="609" width="18" height="18" fill="#0073ff"/><rect x="691" y="609" width="18" height="18" fill="#0073ff"/><rect x="709" y="609" width="18" height="18" fill="#0071ff"/><rect x="727" y="609" width="18" height="18" fill="#0064ff"/><rect x="745" y="609" width="19" height="18" fill="#004dff"/><rect x="764" y="609" width="18" height="18" fill="#0040ff"/><rect x="782" y="609" width="18" height="18" fill="#0038ff"/>
<rect x="0" y="627" width="18" height="19" fill="#0aef00"/><rect x="18" y="627" width="18" height="19" fill="#14ef00"/><rect x="36" y="627" width="19" height="19" fill="#09ef00"/><rect x="55" y="627" width="18" height="19" fill="#07ee00"/><rect x="73" y="627" width="18" height="19" fill="#02ee00"/><rect x="91" y="627" width="18" height="19" fill="#01ee00"/><rect x="109" y="627" width="18" height="19" fill="#00ee00"/><rect x="127" y="627" width="18" height="19" fill="#00ee05"/><rect x="145" y="627" width="19" height="19" fill="#00f12c"/><rect x="164" y="627" width="18" height="19" fill="#00f456"/><rect x="182" y="627" width="18" height="19" fill="#00f570"/><rect x="200" y="627" width="18" height="19" fill="#00f676"/><rect x="218" y="627" width="18" height="19" fill="#00f9a6"/><rect x="236" y="627" width="19" height="19" fill="#00fbc5"/><rect x="255" y="627" width="18" height="19" fill="#00fdde"/><rect x="273" y="627" width="18" height="19" fill="#00fef2"/><rect x="291" y="627" width="18" height="19" fill="#00f9ff"/><rect x="309" y="627" width="18" height="19" fill="#00e3ff"/><rect x="327" y="627" width="18" height="19" fill="#00d1ff"/><rect x="345" y="627" width="19" height="19" fill="#00c5ff"/><rect x="364" y="627" width="18" height="19" fill="#00b9ff"/><rect x="382" y="627" width="18" height="19" fill="#00a9ff"/><rect x="400" y="627" width="18" height="19" fill="#0097ff"/><rect x="418" y="627" width="18" height="19" fill="#0091ff"/><rect x="436" y="627" width="19" height="19" fill="#0093ff"/><rect x="455" y="627" width="18" height="19" fill="#00a6ff"/><rect x="473" y="627" width="18" height="19" fill="#00b9ff"/><rect x="491" y="627" width="18" height="19" fill="#00bbff"/><rect x="509" y="627" width="18" height="19" fill="#00afff"/><rect x="527" y="627" width="18" height="19" fill="#0099ff"/><rect x="545" y="627" width="19" height="19" fill="#008dff"/><rect x="564" y="627" width="18" height="19" fill="#007fff"/><rect x="582" y="627" width="18" height="19" fill="#0071ff"/><rect x="600" y="627" width="18" height="19" fill="#0066ff"/><rect x="618" y="627" width="18" height="19" fill="#0065ff"/><rect x="636" y="627" width="19" height="19" fill="#0065ff"/><rect x="655" y="627" width="18" height="19" fill="#0063ff"/><rect x="673" y="627" width="18" height="19" fill="#005cff"/><rect x="691" y="627" width="18" height="19" fill="#0059ff"/><rect x="709" y="627" width="18" height="19" fill="#0056ff"/><rect x="727" y="627" width="18" height="19" fill="#004cff"/><rect x="745" y="627" width="19" height="19" fill="#003dff"/><rect x="764" y="627" width="18" height="19" fill="#0035ff"/><rect x="782" y="627" width="18" height="19" fill="#0031ff"/>
<rect x="0" y="646" width="18" height="18" fill="#26f000"/><rect x="18" y="646" width="18" height="18" fill="#37f200"/><rect x="36" y="646" width="19" height="18" fill="#2bf100"/><rect x="55" y="646" width="18" height="18" fill="#1af000"/><rect x="73" y="646" width="18" height="18" fill="#0aef00"/><rect x="91" y="646" width="18" height="18" fill="#04ee00"/><rect x="109" y="646" width="18" height="18" fill="#00ee00"/><rect x="127" y="646" width="18" height="18" fill="#00ef0b"/><rect x="145" y="646" width="19" height="18" fill="#00f23c"/><rect x="164" y="646" width="18" height="18" fill="#00f56b"/><rect x="182" y="646" width="18" height="18" fill="#00f783"/><rect x="200" y="646" width="18" height="18" fill="#00f78c"/><rect x="218" y="646" width="18" height="18" fill="#00fab7"/><rect x="236" y="646" width="19" height="18" fill="#00fcd5"/><rect x="255" y="646" width="18" height="18" fill="#00feea"/><rect x="273" y="646" width="18" height="18" fill="#00fffb"/><rect x="291" y="646" width="18" height="18" fill="#00f0ff"/><rect x="309" y="646" width="18" height="18" fill="#00daff"/><rect x="327" y="646" width="18" height="18" fill="#00ccff"/><rect x="345" y="646" width="19" height="18" fill="#00c1ff"/><rect x="364" y="646" width="18" height="18" fill="#00b4ff"/><rect x="382" y="646" width="18" height="18" fill="#00a2ff"/><rect x="400" y="646" width="18" height="18" fill="#0094ff"/><rect x="418" y="646" width="18" height="18" fill="#0083ff"/><rect x="436" y="646" width="19" height="18" fill="#007cff"/><rect x="455" y="646" width="18" height="18" fill="#0090ff"/><rect x="473" y="646" width="18" height="18" fill="#00abff"/><rect x="491" y="646" width="18" height="18" fill="#00b6ff"/><rect x="509" y="646" width="18" height="18" fill="#00afff"/><rect x="527" y="646" width="18" height="18" fill="#009cff"/><rect x="545" y="646" width="19" height="18" fill="#008dff"/><rect x="564" y="646" width="18" height="18" fill="#007eff"/><rect x="582" y="646" width="18" height="18" fill="#006fff"/><rect x="600" y="646" width="18" height="18" fill="#0060ff"/><rect x="618" y="646" width="18" height="18" fill="#005eff"/><rect x="636" y="646" width="19" height="18" fill="#005eff"/><rect x="655" y="646" width="18" height="18" fill="#005cff"/><rect x="673" y="646" width="18" height="18" fill="#0050ff"/><rect x="691" y="646" width="18" height="18" fill="#004dff"/><rect x="709" y="646" width="18" height="18" fill="#004bff"/><rect x="727" y="646" width="18" height="18" fill="#0046ff"/><rect x="745" y="646" width="19" height="18" fill="#0036ff"/><rect x="764" y="646" width="18" height="18" fill="#002fff"/><rect x="782" y="646" width="18" height="18" fill="#002bff"/>
<rect x="0" y="664" width="18" height="18" fill="#4ef300"/><rect x="18" y="664" width="18" height="18" fill="#59f400"/><rect x="36" y="664" width="19" height="18" fill="#43f200"/><rect x="55" y="664" width="18" height="18" fill="#26f100"/><rect x="73" y="664" width="18" height="18" fill="#0def00"/><rect x="91" y="664" width="18" height="18" fill="#04ee00"/><rect x="109" y="664" width="18" height="18" fill="#00ee03"/><rect x="127" y="664" width="18" height="18" fill="#00ef10"/><rect x="145" y="664" width="19" height="18" fill="#00f346"/><rect x="164" y="664" width="18" height="18" fill="#00f676"/><rect x="182" y="664" width="18" height="18" fill="#00f78e"/><rect x="200" y="664" width="18" height="18" fill="#00f898"/><rect x="218" y="664" width="18" height="18" fill="#00fbc1"/><rect x="236" y="664" width="19" height="18" fill="#00fddd"/><rect x="255" y="664" width="18" height="18" fill="#00fef1"/><rect x="273" y="664" width="18" height="18" fill="#00fffe"/><rect x="291" y="664" width="18" height="18" fill="#00efff"/><rect x="309" y="664" width="18" height="18" fill="#00d8ff"/><rect x="327" y="664" width="18" height="18" fill="#00cbff"/><rect x="345" y="664" width="19" height="18" fill="#00c1ff"/><rect x="364" y="664" width="18" height="18" fill="#00aeff"/><rect x="382" y="664" width="18" height="18" fill="#009fff"/><rect x="400" y="664" width="18" height="18" fill="#0094ff"/><rect x="418" y="664" width="18" height="18" fill="#0083ff"/><rect x="436" y="664" width="19" height="18" fill="#0072ff"/><rect x="455" y="664" width="18" height="18" fill="#0079ff"/><rect x="473" y="664" width="18" height="18" fill="#009bff"/><rect x="491" y="664" width="18" height="18" fill="#00afff"/><rect x="509" y="664" width="18" height="18" fill="#00aeff"/><rect x="527" y="664" width="18" height="18" fill="#009cff"/><rect x="545" y="664" width="19" height="18" fill="#008dff"/><rect x="564" y="664" width="18" height="18" fill="#007eff"/><rect x="582" y="664" width="18" height="18" fill="#006eff"/><rect x="600" y="664" width="18" height="18" fill="#005fff"/><rect x="618" y="664" width="18" height="18" fill="#005dff"/><rect x="636" y="664" width="19" height="18" fill="#005cff"/><rect x="655" y="664" width="18" height="18" fill="#0053ff"/><rect x="673" y="664" width="18" height="18" fill="#004aff"/><rect x="691" y="664" width="18" height="18" fill="#0047ff"/><rect x="709" y="664" width="18" height="18" fill="#0045ff"/><rect x="727" y="664" width="18" height="18" fill="#0041ff"/><rect x="745" y="664" width="19" height="18" fill="#0030ff"/><rect x="764" y="664" width="18" height="18" fill="#0029ff"/><rect x="782" y="664" width="18" height="18" fill="#0025ff"/>
<rect x="0" y="682" width="18" height="18" fill="#51f300"/><rect x="18" y="682" width="18" height="18" fill="#5cf400"/><rect x="36" y="682" width="19" height="18" fill="#45f300"/><rect x="55" y="682" width="18" height="18" fill="#28f100"/><rect x="73" y="682" width="18" height="18" fill="#0def00"/><rect x="91" y="682" width="18" height="18" fill="#03ee00"/><rect x="109" y="682" width="18" height="18" fill="#00ee03"/><rect x="127" y="682" width="18" height="18" fill="#00ef11"/><rect x="145" y="682" width="19" height="18" fill="#00f347"/><rect x="164" y="682" width="18" height="18" fill="#00f678"/><rect x="182" y="682" width="18" height="18" fill="#00f891"/><rect x="200" y="682" width="18" height="18" fill="#00f9a1"/><rect x="218" y="682" width="18" height="18" fill="#00fbc7"/><rect x="236" y="682" width="19" height="18" fill="#00fde1"/><rect x="255" y="682" width="18" height="18" fill="#00fef4"/><rect x="273" y="682" width="18" height="18" fill="#00feff"/><rect x="291" y="682" width="18" height="18" fill="#00ebff"/><rect x="309" y="682" width="18" height="18" fill="#00d7ff"/><rect x="327" y="682" width="18" height="18" fill="#00c6ff"/><rect x="345" y="682" width="19" height="18" fill="#00b8ff"/><rect x="364" y="682" width="18" height="18" fill="#00aaff"/><rect x="382" y="682" width="18" height="18" fill="#009fff"/><rect x="400" y="682" width="18" height="18" fill="#009eff"/><rect x="418" y="682" width="18" height="18" fill="#008fff"/><rect x="436" y="682" width="19" height="18" fill="#007bff"/><rect x="455" y="682" width="18" height="18" fill="#007bff"/><rect x="473" y="682" width="18" height="18" fill="#0090ff"/><rect x="491" y="682" width="18" height="18" fill="#00a7ff"/><rect x="509" y="682" width="18" height="18" fill="#00aaff"/><rect x="527" y="682" width="18" height="18" fill="#009bff"/><rect x="545" y="682" width="19" height="18" fill="#008cff"/><rect x="564" y="682" width="18" height="18" fill="#007dff"/><rect x="582" y="682" width="18" height="18" fill="#006aff"/><rect x="600" y="682" width="18" height="18" fill="#005bff"/><rect x="618" y="682" width="18" height="18" fill="#0059ff"/><rect x="636" y="682" width="19" height="18" fill="#0057ff"/><rect x="655" y="682" width="18" height="18" fill="#004aff"/><rect x="673" y="682" width="18" height="18" fill="#003fff"/><rect x="691" y="682" width="18" height="18" fill="#003dff"/><rect x="709" y="682" width="18" height="18" fill="#003bff"/><rect x="727" y="682" width="18" height="18" fill="#0037ff"/><rect x="745" y="682" width="19" height="18" fill="#0026ff"/><rect x="764" y="682" width="18" height="18" fill="#0020ff"/><rect x="782" y="682" width="18" height="18" fill="#001bff"/>
<rect x="0" y="700" width="18" height="18" fill="#40f200"/><rect x="18" y="700" width="18" height="18" fill="#51f300"/><rect x="36" y="700" width="19" height="18" fill="#3df200"/><rect x="55" y="700" width="18" height="18" fill="#23f000"/><rect x="73" y="700" width="18" height="18" fill="#0cef00"/><rect x="91" y="700" width="18" height="18" fill="#02ee00"/><rect x="109" y="700" width="18" height="18" fill="#00ee04"/><rect x="127" y="700" width="18" height="18" fill="#00ef12"/><rect x="145" y="700" width="19" height="18" fill="#00f34a"/><rect x="164" y="700" width="18" height="18" fill="#00f781"/><rect x="182" y="700" width="18" height="18" fill="#00f89b"/><rect x="200" y="700" width="18" height="18" fill="#00f9aa"/><rect x="218" y="700" width="18" height="18" fill="#00fccc"/><rect x="236" y="700" width="19" height="18" fill="#00fde5"/><rect x="255" y="700" width="18" height="18" fill="#00fef7"/><rect x="273" y="700" width="18" height="18" fill="#00f9ff"/><rect x="291" y="700" width="18" height="18" fill="#00e6ff"/><rect x="309" y="700" width="18" height="18" fill="#00cfff"/><rect x="327" y="700" width="18" height="18" fill="#00bbff"/><rect x="345" y="700" width="19" height="18" fill="#00acff"/><rect x="364" y="700" width="18" height="18" fill="#00a6ff"/><rect x="382" y="700" width="18" height="18" fill="#00a6ff"/><rect x="400" y="700" width="18" height="18" fill="#00a7ff"/><rect x="418" y="700" width="18" height="18" fill="#009cff"/><rect x="436" y="700" width="19" height="18" fill="#008fff"/><rect x="455" y="700" width="18" height="18" fill="#0087ff"/><rect x="473" y="700" width="18" height="18" fill="#008cff"/><rect x="491" y="700" width="18" height="18" fill="#009cff"/><rect x="509" y="700" width="18" height="18" fill="#00a2ff"/><rect x="527" y="700" width="18" height="18" fill="#0096ff"/><rect x="545" y="700" width="19" height="18" fill="#0088ff"/><rect x="564" y="700" width="18" height="18" fill="#0079ff"/><rect x="582" y="700" width="18" height="18" fill="#0066ff"/><rect x="600" y="700" width="18" height="18" fill="#0059ff"/><rect x="618" y="700" width="18" height="18" fill="#0056ff"/><rect x="636" y="700" width="19" height="18" fill="#0051ff"/><rect x="655" y="700" width="18" height="18" fill="#0040ff"/><rect x="673" y="700" width="18" height="18" fill="#0032ff"/><rect x="691" y="700" width="18" height="18" fill="#0031ff"/><rect x="709" y="700" width="18" height="18" fill="#0030ff"/><rect x="727" y="700" width="18" height="18" fill="#002dff"/><rect x="745" y="700" width="19" height="18" fill="#001dff"/><rect x="764" y="700" width="18" height="18" fill="#0018ff"/><rect x="782" y="700" width="18" height="18" fill="#0016ff"/>
<rect x="0" y="718" width="18" height="18" fill="#2bf100"/><rect x="18" y="718" width="18" height="18" fill="#37f200"/><rect x="36" y="718" width="19" height="18" fill="#2af100"/><rect x="55" y="718" width="18" height="18" fill="#17f000"/><rect x="73" y="718" width="18" height="18" fill="#06ee00"/><rect x="91" y="718" width="18" height="18" fill="#00ee03"/><rect x="109" y="718" width="18" height="18" fill="#00ef0c"/><rect x="127" y="718" width="18" height="18" fill="#00f01b"/><rect x="145" y="718" width="19" height="18" fill="#00f454"/><rect x="164" y="718" width="18" height="18" fill="#00f78c"/><rect x="182" y="718" width="18" height="18" fill="#00f9a1"/><rect x="200" y="718" width="18" height="18" fill="#00f9ac"/><rect x="218" y="718" width="18" height="18" fill="#00fcd0"/><rect x="236" y="718" width="19" height="18" fill="#00fde8"/><rect x="255" y="718" width="18" height="18" fill="#00fff9"/><rect x="273" y="718" width="18" height="18" fill="#00f4ff"/><rect x="291" y="718" width="18" height="18" fill="#00e0ff"/><rect x="309" y="718" width="18" height="18" fill="#00c8ff"/><rect x="327" y="718" width="18" height="18" fill="#00b3ff"/><rect x="345" y="718" width="19" height="18" fill="#00a8ff"/><rect x="364" y="718" width="18" height="18" fill="#00a6ff"/><rect x="382" y="718" width="18" height="18" fill="#00aaff"/><rect x="400" y="718" width="18" height="18" fill="#00acff"/><rect x="418" y="718" width="18" height="18" fill="#00a4ff"/><rect x="436" y="718" width="19" height="18" fill="#0098ff"/><rect x="455" y="718" width="18" height="18" fill="#008cff"/><rect x="473" y="718" width="18" height="18" fill="#0088ff"/><rect x="491" y="718" width="18" height="18" fill="#008fff"/><rect x="509" y="718" width="18" height="18" fill="#0095ff"/><rect x="527" y="718" width="18" height="18" fill="#008cff"/><rect x="545" y="718" width="19" height="18" fill="#0081ff"/><rect x="564" y="718" width="18" height="18" fill="#0073ff"/><rect x="582" y="718" width="18" height="18" fill="#0061ff"/><rect x="600" y="718" width="18" height="18" fill="#0055ff"/><rect x="618" y="718" width="18" height="18" fill="#0051ff"/><rect x="636" y="718" width="19" height="18" fill="#004cff"/><rect x="655" y="718" width="18" height="18" fill="#003bff"/><rect x="673" y="718" width="18" height="18" fill="#0030ff"/><rect x="691" y="718" width="18" height="18" fill="#002dff"/><rect x="709" y="718" width="18" height="18" fill="#002cff"/><rect x="727" y="718" width="18" height="18" fill="#0028ff"/><rect x="745" y="718" width="19" height="18" fill="#001bff"/><rect x="764" y="718" width="18" height="18" fill="#0017ff"/><rect x="782" y="718" width="18" height="18" fill="#0015ff"/>
<rect x="0" y="736" width="18" height="19" fill="#17f000"/><rect x="18" y="736" width="18" height="19" fill="#1ef000"/><rect x="36" y="736" width="19" height="19" fill="#16ef00"/><rect x="55" y="736" width="18" height="19" fill="#0bef00"/><rect x="73" y="736" width="18" height="19" fill="#01ee00"/><rect x="91" y="736" width="18" height="19" fill="#00ef0a"/><rect x="109" y="736" width="18" height="19" fill="#00ef14"/><rect x="127" y="736" width="18" height="19" fill="#00f025"/><rect x="145" y="736" width="19" height="19" fill="#00f45e"/><rect x="164" y="736" width="18" height="19" fill="#00f892"/><rect x="182" y="736" width="18" height="19" fill="#00f9a5"/><rect x="200" y="736" width="18" height="19" fill="#00faad"/><rect x="218" y="736" width="18" height="19" fill="#00fcd3"/><rect x="236" y="736" width="19" height="19" fill="#00feeb"/><rect x="255" y="736" width="18" height="19" fill="#00fffc"/><rect x="273" y="736" width="18" height="19" fill="#00f0ff"/><rect x="291" y="736" width="18" height="19" fill="#00dbff"/><rect x="309" y="736" width="18" height="19" fill="#00c4ff"/><rect x="327" y="736" width="18" height="19" fill="#00b2ff"/><rect x="345" y="736" width="19" height="19" fill="#00aaff"/><rect x="364" y="736" width="18" height="19" fill="#00a9ff"/><rect x="382" y="736" width="18" height="19" fill="#00adff"/><rect x="400" y="736" width="18" height="19" fill="#00afff"/><rect x="418" y="736" width="18" height="19" fill="#00a8ff"/><rect x="436" y="736" width="19" height="19" fill="#009cff"/><rect x="455" y="736" width="18" height="19" fill="#008fff"/><rect x="473" y="736" width="18" height="19" fill="#0082ff"/><rect x="491" y="736" width="18" height="19" fill="#007eff"/><rect x="509" y="736" width="18" height="19" fill="#0080ff"/><rect x="527" y="736" width="18" height="19" fill="#007aff"/><rect x="545" y="736" width="19" height="19" fill="#0074ff"/><rect x="564" y="736" width="18" height="19" fill="#006aff"/><rect x="582" y="736" width="18" height="19" fill="#005eff"/><rect x="600" y="736" width="18" height="19" fill="#0050ff"/><rect x="618" y="736" width="18" height="19" fill="#004cff"/><rect x="636" y="736" width="19" height="19" fill="#0047ff"/><rect x="655" y="736" width="18" height="19" fill="#0036ff"/><rect x="673" y="736" width="18" height="19" fill="#002cff"/><rect x="691" y="736" width="18" height="19" fill="#002aff"/><rect x="709" y="736" width="18" height="19" fill="#002aff"/><rect x="727" y="736" width="18" height="19" fill="#0027ff"/><rect x="745" y="736" width="19" height="19" fill="#0019ff"/><rect x="764" y="736" width="18" height="19" fill="#0015ff"/><rect x="782" y="736" width="18" height="19" fill="#0013ff"/>
<rect x="0" y="755" width="18" height="18" fill="#0def00"/><rect x="18" y="755" width="18" height="18" fill="#13ef00"/><rect x="36" y="755" width="19" height="18" fill="#0eef00"/><rect x="55" y="755" width="18" height="18" fill="#07ee00"/><rect x="73" y="755" width="18" height="18" fill="#00ee01"/><rect x="91" y="755" width="18" height="18" fill="#00ef0d"/><rect x="109" y="755" width="18" height="18" fill="#00f01a"/><rect x="127" y="755" width="18" height="18" fill="#00f12d"/><rect x="145" y="755" width="19" height="18" fill="#00f567"/><rect x="164" y="755" width="18" height="18" fill="#00f897"/><rect x="182" y="755" width="18" height="18" fill="#00f9a6"/><rect x="200" y="755" width="18" height="18" fill="#00faad"/><rect x="218" y="755" width="18" height="18" fill="#00fcd3"/><rect x="236" y="755" width="19" height="18" fill="#00feeb"/><rect x="255" y="755" width="18" height="18" fill="#00fffc"/><rect x="273" y="755" width="18" height="18" fill="#00ebff"/><rect x="291" y="755" width="18" height="18" fill="#00cfff"/><rect x="309" y="755" width="18" height="18" fill="#00beff"/><rect x="327" y="755" width="18" height="18" fill="#00b2ff"/><rect x="345" y="755" width="19" height="18" fill="#00aaff"/><rect x="364" y="755" width="18" height="18" fill="#00aaff"/><rect x="382" y="755" width="18" height="18" fill="#00adff"/><rect x="400" y="755" width="18" height="18" fill="#00b0ff"/><rect x="418" y="755" width="18" height="18" fill="#00a9ff"/><rect x="436" y="755" width="19" height="18" fill="#009dff"/><rect x="455" y="755" width="18" height="18" fill="#008fff"/><rect x="473" y="755" width="18" height="18" fill="#007eff"/><rect x="491" y="755" width="18" height="18" fill="#0074ff"/><rect x="509" y="755" width="18" height="18" fill="#006fff"/><rect x="527" y="755" width="18" height="18" fill="#0069ff"/><rect x="545" y="755" width="19" height="18" fill="#0067ff"/><rect x="564" y="755" width="18" height="18" fill="#0061ff"/><rect x="582" y="755" width="18" height="18" fill="#005aff"/><rect x="600" y="755" width="18" height="18" fill="#004cff"/><rect x="618" y="755" width="18" height="18" fill="#0047ff"/><rect x="636" y="755" width="19" height="18" fill="#0043ff"/><rect x="655" y="755" width="18" height="18" fill="#0035ff"/><rect x="673" y="755" width="18" height="18" fill="#002bff"/><rect x="691" y="755" width="18" height="18" fill="#0029ff"/><rect x="709" y="755" width="18" height="18" fill="#0029ff"/><rect x="727" y="755" width="18" height="18" fill="#0026ff"/><rect x="745" y="755" width="19" height="18" fill="#0019ff"/><rect x="764" y="755" width="18" height="18" fill="#0015ff"/><rect x="782" y="755" width="18" height="18" fill="#0013ff"/>
</g>
<g fill="#808080" shape-rendering="crispEdges"><rect x="9" y="27" width="1" height="746"/><rect x="81" y="27" width="1" height="746"/><rect x="154" y="27" width="1" height="746"/><rect x="227" y="27" width="1" height="746"/><rect x="299" y="27" width="1" height="746"/><rect x="372" y="27" width="1" height="746"/><rect x="445" y="27" width="1" height="746"/><rect x="518" y="27" width="1" height="746"/><rect x="590" y="27" width="1" height="746"/><rect x="663" y="27" width="1" height="746"/><rect x="736" y="27" width="1" height="746"/><rect x="0" y="36" width="800" height="1"/><rect x="0" y="109" width="800" height="1"/><rect x="0" y="181" width="800" height="1"/><rect x="0" y="254" width="800" height="1"/><rect x="0" y="327" width="800" height="1"/><rect x="0" y="400" width="800" height="1"/><rect x="0" y="472" width="800" height="1"/><rect x="0" y="545" width="800" height="1"/><rect x="0" y="618" width="800" height="1"/><rect x="0" y="690" width="800" height="1"/><rect x="0" y="763" width="800" height="1"/></g>
<g fill="none" stroke="#fff" clip-path="url(#cp)" shape-rendering="crispEdges">
<path stroke-width="0.727" d="M718.18 95.82L724.82 89.18M736.18 95.82L742.82 89.18M755.18 95.82L761.82 89.18M773.18 95.82L779.82 89.18M663.18 132.82L669.82 126.18M756.18 131.82L761.82 126.18M628.18 150.82L634.82 144.18M775.18 149.82L780.82 144.18M628.18 168.82L634.82 162.18M645.18 168.82L651.82 162.18M757.18 167.82L762.82 162.18M646.18 186.82L652.82 180.18M593.18 204.82L598.82 199.18M629.18 204.82L634.82 199.18M739.18 203.82L744.82 198.18M576.18 222.82L581.82 217.18M593.18 222.82L598.82 217.18M574.18 241.82L579.82 236.18M593.18 240.82L598.82 235.18M723.18 239.82L727.82 235.18M742.18 239.82L746.82 235.18M542.18 258.82L546.82 254.18M555.18 260.82L561.82 254.18M612.18 258.82L617.82 253.18M630.18 258.82L635.82 253.18M687.18 257.82L691.82 253.18M724.18 257.82L728.82 253.18M761.18 257.82L765.82 253.18M779.18 257.82L783.82 253.18M630.18 276.82L635.82 271.18M687.18 275.82L691.82 271.18M724.18 275.82L728.82 271.18M522.18 296.82L527.82 291.18M539.18 296.82L544.82 291.18M575.18 295.82L580.82 290.18M594.18 295.82L599.82 290.18M649.18 294.82L654.82 289.18M705.18 293.82L709.82 289.18M485.18 315.82L490.82 310.18M503.18 315.82L508.82 310.18M576.18 313.82L581.82 308.18M706.18 311.82L710.82 307.18M521.18 333.82L526.82 328.18M539.18 332.82L544.82 327.18M613.18 331.82L618.82 326.18M650.18 330.82L654.82 326.18M501.18 352.82L507.82 346.18M539.18 350.82L544.82 345.18M557.18 350.82L562.82 345.18M614.18 348.82L618.82 344.18M632.18 348.82L636.82 344.18M501.18 370.82L507.82 364.18M520.18 369.82L525.82 364.18M539.18 368.82L544.82 363.18M557.18 368.82L562.82 363.18M464.18 389.82L470.82 383.18M501.18 388.82L507.82 382.18M520.18 387.82L525.82 382.18M539.18 386.82L544.82 381.18M558.18 386.82L563.82 381.18M578.18 385.82L582.82 381.18M502.18 405.82L507.82 400.18M539.18 404.82L544.82 399.18M559.18 403.82L563.82 399.18M578.18 403.82L582.82 399.18M635.18 402.82L638.82 399.18M483.18 424.82L489.82 418.18M502.18 423.82L507.82 418.18M540.18 422.82L545.82 417.18M559.18 421.82L563.82 417.18M727.18 419.82L730.82 416.18M484.18 441.82L489.82 436.18M503.18 441.82L508.82 436.18M522.18 440.82L526.82 436.18M540.18 440.82L545.82 435.18M578.18 439.82L582.82 435.18M655.18 438.82L658.82 435.18M674.18 437.82L676.82 435.18M466.18 459.82L471.82 454.18M485.18 459.82L490.82 454.18M504.18 458.82L508.82 454.18M523.18 458.82L527.82 454.18M560.18 457.82L564.82 453.18M579.18 457.82L583.82 453.18M617.18 456.82L620.82 453.18M636.18 456.82L639.82 453.18M655.18 456.82L658.82 453.18M674.18 455.82L676.82 453.18M429.18 478.82L434.82 473.18M466.18 477.82L471.82 472.18M485.18 477.82L490.82 472.18M579.18 475.82L583.82 471.18M448.18 496.82L453.82 491.18M466.18 496.82L471.82 491.18M503.18 495.82L508.82 490.18M559.18 494.82L563.82 490.18M577.18 494.82L581.82 490.18M430.18 515.82L435.82 510.18M466.18 514.82L471.82 509.18M485.18 514.82L490.82 509.18M503.18 513.82L508.82 508.18M522.18 513.82L527.82 508.18M560.18 512.82L564.82 508.18M727.18 507.18L730.82 510.82M467.18 532.82L472.82 527.18M505.18 531.82L509.82 527.18M524.18 531.82L528.82 527.18M711.18 526.18L713.82 528.82M729.18 526.18L731.82 528.82M748.18 525.18L750.82 527.82M766.18 524.18L768.82 526.82M506.18 549.82L510.82 545.18M543.18 549.82L547.82 545.18M562.18 548.82L565.82 545.18M581.18 548.82L584.82 545.18M655.18 547.82L658.82 544.18M729.18 543.18L731.82 545.82M767.18 542.18L769.82 544.82M397.18 569.82L401.82 565.18M415.18 569.82L419.82 565.18M451.18 569.82L455.82 565.18M488.18 569.82L492.82 565.18M544.18 567.82L547.82 564.18M563.18 567.82L566.82 564.18M600.18 567.82L603.82 564.18M637.18 566.82L640.82 563.18M728.18 561.18L731.82 564.82M748.18 561.18L750.82 563.82M790.82 563.82L787.18 560.18M619.18 585.82L622.82 582.18M655.18 584.82L658.82 581.18M728.18 579.18L731.82 582.82M748.18 580.18L750.82 582.82M787.18 580.18L788.82 581.82M463.82 600.18L455.18 608.82M481.82 600.18L473.18 608.82M749.18 598.18L751.82 600.82M787.18 598.18L788.82 599.82M63.83 618.19L47.17 633.81M81.83 618.19L65.17 633.81M427.82 618.18L420.18 625.82M584.18 621.82L586.82 619.18M602.18 620.82L604.82 618.18M620.18 620.82L622.82 618.18M638.18 619.82L640.82 617.18M730.18 617.18L732.82 619.82M749.18 616.18L751.82 618.82M768.18 616.18L769.82 617.82M787.18 616.18L788.82 617.82M81.83 636.19L65.17 651.81M463.82 636.18L456.18 643.82M500.82 636.18L492.18 644.82M518.82 636.18L510.18 644.82M584.18 639.82L586.82 637.18M602.18 638.82L604.82 636.18M769.18 634.18L770.82 635.82M790.82 636.82L788.18 634.18M63.83 654.19L46.17 670.81M154.83 654.19L139.17 668.81M381.18 657.82L384.82 654.18M481.82 654.18L474.18 661.82M500.82 654.18L492.18 662.82M536.82 654.18L529.18 661.82M603.18 656.82L605.82 654.18M621.18 656.82L623.82 654.18M639.18 654.18L641.82 656.82M731.18 653.18L733.82 655.82M751.18 652.18L752.82 653.82M790.82 654.82L788.18 652.18M45.83 672.19L27.17 689.81M63.83 672.19L46.17 688.81M81.83 672.19L64.17 688.81M136.83 672.19L120.17 687.81M154.83 672.19L139.17 686.81M190.82 672.18L177.18 685.82M343.18 677.82L347.82 673.18M381.18 674.82L384.82 671.18M438.18 674.82L440.82 672.18M477.18 681.82L480.82 678.18M536.82 672.18L529.18 679.82M554.82 672.18L548.18 678.82M603.18 675.82L605.82 673.18M621.18 674.82L623.82 672.18M639.18 674.82L641.82 672.18M788.18 671.18L789.82 672.82M45.83 690.19L27.17 707.81M63.83 690.19L46.17 706.81M81.83 690.19L64.17 706.81M100.83 690.19L83.17 706.81M136.83 690.19L120.17 705.81M154.83 690.19L139.17 704.81M190.82 690.18L177.18 703.82M344.18 694.82L347.82 691.18M381.18 692.82L384.82 689.18M572.82 690.18L566.18 696.82M603.18 693.82L605.82 691.18M658.18 692.82L660.82 690.18M714.18 690.82L715.82 689.18M714.18 690.18L715.82 691.82M732.18 689.18L733.82 690.82M770.18 689.18L771.82 690.82M788.18 689.18L789.82 690.82M363.18 712.82L366.82 709.18M500.82 709.18L493.18 716.82M518.82 709.18L511.18 716.82M554.82 709.18L548.18 715.82M572.82 709.18L567.18 714.82M590.82 709.18L586.18 713.82M640.18 711.82L642.82 709.18M678.18 709.82L679.82 708.18M678.18 709.18L679.82 710.82M696.18 709.82L697.82 708.18M696.18 709.18L697.82 710.82M714.18 708.18L715.82 709.82M733.18 707.18L734.82 708.82M754.82 709.82L752.18 707.18M752.18 707.18L753.82 708.82M790.82 709.82L789.18 708.18M81.83 727.19L65.17 742.81M363.18 731.82L366.82 728.18M398.18 730.82L402.82 726.18M417.18 729.82L420.82 726.18M455.18 729.82L458.82 726.18M590.82 727.18L586.18 731.82M609.82 727.18L605.18 731.82M678.18 727.82L679.82 726.18M678.18 727.18L679.82 728.82M696.18 727.82L697.82 726.18M733.18 725.18L734.82 726.82M752.18 726.18L753.82 727.82M770.18 726.18L771.82 727.82M790.82 727.82L789.18 726.18M27.83 745.19L10.17 761.81M81.83 745.19L65.17 760.81M417.18 749.82L420.82 746.18M569.18 751.82L571.82 749.18M609.82 745.18L605.18 749.82M660.18 747.82L661.82 746.18M678.18 746.82L679.82 745.18M715.18 744.18L716.82 745.82M733.18 744.18L734.82 745.82M752.18 744.18L753.82 745.82M772.82 745.82L771.18 744.18M790.82 745.82L789.18 744.18M27.83 763.19L10.17 779.81M81.83 763.19L65.17 778.81M118.83 763.19L102.17 778.81M354.82 763.18L347.18 770.82M390.82 763.18L383.18 770.82M455.18 767.82L458.82 764.18M551.18 769.82L553.82 767.18M660.18 765.82L661.82 764.18M678.18 764.82L679.82 763.18M715.18 763.82L716.82 762.18M733.18 762.18L734.82 763.82M752.18 762.18L753.82 763.82M772.82 763.82L771.18 762.18M790.82 763.82L789.18 762.18"/>
<path stroke-width="0.776" d="M701.15 39.79L707.85 34.21M755.15 39.79L761.85 34.21M664.15 76.79L670.85 71.21M682.15 76.79L688.85 71.21M700.15 76.79L706.85 71.21M719.15 76.79L725.85 71.21M773.15 76.79L779.85 71.21M664.15 95.79L670.85 90.21M681.16 95.79L688.84 89.21M699.16 95.79L706.84 89.21M663.15 113.79L669.85 108.21M700.15 113.79L706.85 108.21M718.15 113.79L724.85 108.21M736.15 113.79L742.85 108.21M755.15 113.79L761.85 108.21M774.15 113.79L780.85 108.21M644.16 132.79L651.84 126.21M682.15 131.79L688.85 126.21M700.15 131.79L706.85 126.21M718.15 131.79L724.85 126.21M737.15 131.79L743.85 126.21M774.15 131.79L780.85 126.21M644.16 150.79L651.84 144.21M663.16 150.79L670.84 144.21M682.15 149.79L688.85 144.21M700.15 149.79L706.85 144.21M719.15 149.79L725.85 144.21M737.15 149.79L743.85 144.21M756.15 149.79L762.85 144.21M664.15 167.79L670.85 162.21M682.15 167.79L688.85 162.21M701.15 167.79L707.85 162.21M719.15 167.79L725.85 162.21M738.15 167.79L744.85 162.21M775.15 167.79L781.85 162.21M628.15 186.79L634.85 181.21M664.15 185.79L670.85 180.21M683.15 185.79L689.85 180.21M701.15 185.79L707.85 180.21M720.15 185.79L726.85 180.21M738.15 185.79L744.85 180.21M757.15 185.79L763.85 180.21M611.15 204.79L617.85 199.21M702.15 203.79L708.85 198.21M720.15 203.79L726.85 198.21M611.15 222.79L617.85 217.21M629.15 222.79L635.85 217.21M611.15 240.79L617.85 235.21M574.15 259.79L580.85 254.21M539.21 278.85L544.79 272.15M556.21 278.85L561.79 272.15M574.15 277.79L580.85 272.21M593.15 277.79L599.85 272.21M245.80 291.16L238.20 299.84M263.83 291.20L252.17 301.80M281.85 291.21L269.15 301.79M557.21 296.85L562.79 290.15M245.83 309.19L232.17 321.81M263.85 309.22L247.15 322.78M521.21 315.85L526.79 309.15M482.21 335.84L488.79 328.16M482.21 353.84L488.79 346.16M447.21 407.85L452.79 401.15M465.21 407.85L470.79 401.15M483.21 406.85L488.79 400.15M520.15 405.79L526.85 400.21M447.21 425.85L452.79 419.15M465.21 424.85L470.79 418.15M372.21 445.84L378.79 438.16M409.21 444.84L415.79 437.16M429.21 443.85L434.79 437.15M447.21 443.85L452.79 437.15M466.21 442.85L471.79 436.15M429.21 461.85L434.79 455.15M447.15 460.79L453.85 455.21M373.21 480.85L378.79 474.15M391.21 480.84L397.79 473.16M410.21 479.85L415.79 473.15M448.21 478.85L453.79 472.15M356.21 498.85L361.79 492.15M375.21 498.85L380.79 492.15M392.21 498.85L397.79 492.15M411.21 497.85L416.79 491.15M429.21 497.85L434.79 491.15M484.15 495.79L490.85 490.21M321.21 517.85L326.79 511.15M339.21 516.85L344.79 510.15M393.21 516.85L398.79 510.15M448.21 515.85L453.79 509.15M394.21 534.85L399.79 528.15M245.85 563.22L234.15 572.78M209.84 581.21L195.16 593.79M227.84 581.21L212.16 594.79M245.84 581.21L231.16 593.79M263.84 581.21L250.16 592.79M481.84 581.20L472.16 589.80M572.84 581.21L565.16 587.79M136.84 600.21L122.16 612.79M154.83 600.19L141.17 612.81M172.84 600.21L159.16 611.79M190.84 600.21L177.16 611.79M209.85 600.22L193.15 613.78M227.84 600.21L213.16 612.79M245.84 600.21L232.16 611.79M281.85 600.21L269.15 610.79M427.84 600.20L419.16 607.80M445.80 600.16L438.20 608.84M500.84 600.20L492.16 607.80M518.84 600.20L510.16 607.80M27.84 618.21L13.16 630.79M45.84 618.20L29.16 632.80M100.84 618.20L83.16 633.80M118.84 618.20L101.16 633.80M136.84 618.20L119.16 633.80M154.84 618.20L138.16 632.80M172.84 618.20L156.16 632.80M190.84 618.21L175.16 631.79M227.84 618.21L213.16 630.79M245.84 618.21L232.16 629.79M281.85 618.21L269.15 628.79M445.80 618.16L438.20 626.84M463.80 618.16L456.20 626.84M500.80 618.16L492.20 627.84M518.84 618.20L510.16 625.80M536.84 618.21L529.16 624.79M9.84 636.20L-7.84 651.80M27.84 636.20L10.16 651.80M45.84 636.20L28.16 651.80M63.84 636.20L46.16 651.80M100.84 636.20L83.16 651.80M118.84 636.20L101.16 651.80M136.84 636.20L119.16 651.80M154.84 636.20L138.16 650.80M172.84 636.21L157.16 649.79M190.83 636.19L176.17 649.81M209.84 636.21L194.16 649.79M227.84 636.21L213.16 648.79M245.84 636.21L232.16 647.79M263.85 636.21L251.15 646.79M281.85 636.21L269.15 646.79M481.80 636.16L474.20 644.84M536.84 636.21L529.16 642.79M9.84 654.20L-8.84 670.80M27.84 654.20L9.16 670.80M45.84 654.20L27.16 670.80M81.84 654.20L64.16 669.80M100.84 654.20L83.16 669.80M118.84 654.20L101.16 669.80M136.84 654.20L119.16 669.80M172.83 654.19L158.17 667.81M190.83 654.19L176.17 667.81M209.84 654.21L195.16 666.79M227.83 654.19L214.17 666.81M245.84 654.21L232.16 665.79M263.85 654.21L251.15 664.79M463.84 654.21L456.16 660.79M518.80 654.16L511.20 662.84M554.84 654.21L547.16 660.79M9.84 672.20L-9.84 689.80M27.84 672.20L8.16 689.80M100.84 672.20L83.16 687.80M118.84 672.20L101.16 687.80M172.83 672.19L158.17 685.81M209.84 672.21L195.16 684.79M227.83 672.19L214.17 684.81M245.83 672.20L233.17 683.80M263.85 672.21L251.15 682.79M463.79 672.15L458.21 678.85M572.85 672.21L566.15 677.79M9.84 690.20L-9.84 707.80M27.84 690.20L8.16 707.80M118.84 690.20L101.16 705.80M172.83 690.19L158.17 703.81M209.84 690.21L195.16 702.79M227.83 690.19L214.17 702.81M245.83 690.20L233.17 701.80M263.85 690.21L251.15 700.79M463.85 690.21L457.15 695.79M554.79 690.16L548.21 697.84M9.84 709.20L-8.84 725.80M27.84 709.21L8.16 725.79M45.84 709.20L27.16 725.80M63.84 709.20L46.16 724.80M81.84 709.20L64.16 724.80M100.84 709.20L83.16 724.80M118.84 709.20L101.16 724.80M136.84 709.20L120.16 723.80M154.84 709.21L139.16 722.79M172.84 709.21L158.16 721.79M190.83 709.19L177.17 721.81M209.84 709.21L196.16 720.79M227.84 709.21L214.16 720.79M245.85 709.21L233.15 719.79M536.79 709.16L530.21 716.84M9.84 727.20L-8.84 743.80M27.84 727.20L9.16 743.80M45.84 727.20L27.16 743.80M63.84 727.20L46.16 742.80M100.84 727.20L83.16 742.80M118.84 727.20L101.16 742.80M136.84 727.20L120.16 741.80M154.84 727.21L139.16 740.79M172.83 727.19L159.17 739.81M190.83 727.19L177.17 739.81M209.83 727.19L196.17 739.81M227.84 727.21L214.16 738.79M245.85 727.21L233.15 737.79M263.85 727.21L251.15 737.79M281.85 727.22L270.15 736.78M500.84 727.21L493.16 733.79M518.79 727.16L512.21 734.84M536.79 727.16L530.21 734.84M9.85 745.21L-8.85 760.79M45.84 745.20L28.16 760.80M63.84 745.20L46.16 760.80M100.84 745.20L83.16 760.80M118.84 745.20L101.16 760.80M136.84 745.20L120.16 759.80M154.84 745.21L139.16 758.79M172.83 745.19L159.17 757.81M190.83 745.19L177.17 757.81M209.83 745.19L196.17 757.81M227.83 745.20L215.17 756.80M245.85 745.21L233.15 755.79M263.85 745.21L251.15 755.79M281.85 745.22L270.15 754.78M518.79 745.15L513.21 751.85M9.84 763.20L-7.84 778.80M45.84 763.20L28.16 778.80M63.84 763.20L46.16 778.80M100.84 763.20L83.16 778.80M136.84 763.20L120.16 777.80M154.83 763.19L140.17 776.81M172.83 763.19L159.17 775.81M190.83 763.19L177.17 775.81M209.83 763.19L196.17 775.81M227.83 763.20L215.17 774.80M245.83 763.20L233.17 774.80M263.85 763.21L251.15 773.79M281.85 763.22L270.15 772.78M318.84 763.20L309.16 771.80M336.84 763.20L328.16 770.80M372.80 763.16L365.20 771.84M518.79 763.15L513.21 769.85"/>
<path stroke-width="0.825" d="M772.13 39.76L779.87 34.24M684.15 57.78L689.85 53.22M736.13 76.76L743.87 71.24M754.13 76.76L761.87 71.24M681.13 113.76L688.87 108.24M612.15 185.78L617.85 181.22M776.15 184.78L781.85 180.22M684.15 203.78L689.85 199.22M758.15 203.78L763.85 199.22M648.15 221.78L653.85 217.22M703.15 221.78L708.85 217.22M740.15 221.78L745.85 217.22M759.15 221.78L764.85 217.22M778.14 220.77L782.86 217.23M558.15 240.78L563.85 236.22M630.15 239.78L635.85 235.22M649.15 239.78L654.85 235.22M667.15 239.78L672.85 235.22M686.15 239.78L691.85 235.22M704.15 239.78L709.85 235.22M760.14 238.77L764.86 235.23M593.15 258.78L598.85 254.22M650.15 257.78L655.85 253.22M668.15 257.78L673.85 253.22M705.15 257.78L710.85 253.22M742.15 257.78L747.85 253.22M612.15 276.78L617.85 272.22M668.15 275.78L673.85 271.22M705.15 275.78L710.85 271.22M743.14 274.77L747.86 271.23M761.14 274.77L765.86 271.23M779.14 274.77L783.86 271.23M612.15 294.78L617.85 290.22M631.15 294.78L636.85 290.22M668.15 293.78L673.85 289.22M686.15 293.78L691.85 289.22M743.14 292.77L747.86 289.23M761.14 292.77L765.86 289.23M780.14 292.77L784.86 289.23M227.78 309.15L219.22 319.85M281.86 309.23L265.14 321.77M300.87 309.25L284.13 320.75M540.22 314.85L544.78 309.15M558.22 314.85L562.78 309.15M595.22 313.85L599.78 308.15M613.15 312.78L618.85 308.22M631.15 312.78L636.85 308.22M649.15 312.78L654.85 308.22M687.14 311.77L691.86 308.23M743.14 310.77L747.86 307.23M762.14 310.77L766.86 307.23M780.14 310.77L784.86 307.23M263.86 327.23L247.14 339.77M281.87 327.25L265.13 338.75M300.87 327.25L284.13 338.75M447.24 336.87L452.76 329.13M558.22 332.85L562.78 327.15M576.15 331.78L581.85 327.22M595.15 331.78L600.85 327.22M631.15 330.78L636.85 326.22M669.14 329.77L673.86 326.23M688.14 329.77L692.86 326.23M706.14 329.77L710.86 326.23M743.14 328.77L747.86 325.23M761.14 328.77L765.86 325.23M779.14 328.77L783.86 325.23M300.87 345.25L284.13 356.75M428.24 355.87L433.76 348.13M446.24 354.87L451.76 347.13M464.24 354.87L469.76 347.13M521.22 351.85L525.78 346.15M576.15 349.78L581.85 345.22M595.15 349.78L600.85 345.22M650.15 348.78L655.85 344.22M706.14 347.77L710.86 344.23M743.14 346.77L747.86 343.23M761.14 346.77L765.86 343.23M779.14 346.77L783.86 343.23M300.87 363.25L284.13 374.75M318.87 363.25L302.13 374.75M336.87 363.25L320.13 374.75M428.24 373.87L433.76 366.13M446.24 372.87L451.76 365.13M464.24 372.87L469.76 365.13M483.24 371.87L488.76 364.13M577.15 367.78L582.85 363.22M596.14 366.77L600.86 363.23M614.15 366.78L619.85 362.22M632.15 366.78L637.85 362.22M651.15 366.78L656.85 362.22M670.14 365.77L674.86 362.23M688.14 365.77L692.86 362.23M779.14 364.77L783.86 361.23M390.23 392.86L396.77 384.14M409.24 391.87L414.76 384.13M428.24 390.87L433.76 383.13M446.24 390.87L451.76 383.13M483.24 389.87L488.76 382.13M597.14 384.77L601.86 381.23M615.14 384.77L619.86 381.23M634.14 384.77L638.86 381.23M652.14 383.77L656.86 380.23M671.14 383.77L675.86 380.23M689.14 383.77L693.86 380.23M707.14 383.77L711.86 380.23M391.24 409.87L396.76 402.13M410.24 409.87L415.76 402.13M428.24 408.87L433.76 401.13M597.14 402.77L601.86 399.23M616.14 402.77L620.86 399.23M690.14 401.77L694.86 398.23M708.14 401.77L712.86 398.23M726.14 401.77L730.86 398.23M391.24 427.87L396.76 420.13M410.24 426.87L415.76 419.13M429.24 426.87L434.76 419.13M521.15 422.78L526.85 418.22M577.15 421.78L582.85 417.22M597.14 420.77L601.86 417.23M616.14 420.77L620.86 417.23M635.14 420.77L639.86 417.23M319.24 445.87L324.76 438.13M391.24 445.87L396.76 438.13M559.15 439.78L564.85 435.22M597.14 438.77L601.86 435.23M616.14 438.77L620.86 435.23M635.14 438.77L639.86 435.23M319.24 463.87L324.76 456.13M373.24 463.87L378.76 456.13M391.24 462.87L396.76 455.13M410.24 462.87L415.76 455.13M542.14 457.77L546.86 454.23M598.14 456.77L602.86 453.23M319.24 481.87L324.76 474.13M337.24 481.87L342.76 474.13M355.24 481.87L360.76 474.13M503.15 476.78L508.85 472.22M522.15 476.78L527.85 472.22M560.14 475.77L564.86 472.23M598.14 475.77L602.86 472.23M616.14 475.77L620.86 472.23M672.14 474.77L676.86 471.23M320.24 499.87L325.76 492.13M338.24 499.87L343.76 492.13M522.15 494.78L527.85 490.22M540.15 494.78L545.85 490.22M688.14 491.77L692.86 488.23M725.14 491.77L729.86 488.23M541.15 512.78L546.85 508.22M578.15 512.78L583.85 508.22M652.14 509.77L656.86 506.23M671.14 508.23L675.86 511.77M708.14 507.23L712.86 510.77M431.22 533.85L435.78 528.15M449.22 533.85L453.78 528.15M486.22 532.85L490.78 527.15M542.14 530.77L546.86 527.23M561.14 530.77L565.86 527.23M580.23 530.86L583.77 526.14M598.14 528.77L602.86 525.23M790.85 527.78L785.15 523.22M263.85 545.22L253.15 553.78M281.86 545.23L269.14 554.77M378.22 551.85L382.78 546.15M432.22 551.85L436.78 546.15M450.22 551.85L454.78 546.15M468.22 551.85L472.78 546.15M487.22 550.85L491.78 545.15M525.23 549.86L528.77 545.14M599.14 548.77L603.86 545.23M790.86 545.77L786.14 542.23M263.86 563.23L250.14 573.77M281.86 563.23L268.14 573.77M318.87 563.24L305.13 572.76M380.23 569.86L383.77 565.14M433.22 570.85L437.78 565.15M470.23 569.86L473.77 565.14M507.23 568.86L510.77 564.14M526.23 568.86L529.77 564.14M281.86 581.23L268.14 591.77M300.86 581.23L287.14 591.77M318.87 581.24L305.13 590.76M390.87 581.24L380.13 588.76M409.87 581.24L399.13 588.76M427.87 581.24L417.13 588.76M445.87 581.24L435.13 588.76M435.23 588.86L438.77 584.14M463.85 581.22L453.15 589.78M500.87 581.24L490.13 588.76M518.86 581.22L509.14 588.78M527.23 587.86L530.77 583.14M554.86 581.23L546.14 587.77M590.87 581.24L583.13 586.76M263.86 600.23L250.14 610.77M300.87 600.24L287.13 609.76M409.86 600.22L400.14 607.78M536.86 600.23L528.14 606.77M554.87 600.24L547.13 605.76M572.87 600.24L565.13 605.76M209.85 618.22L194.15 630.78M263.86 618.23L250.14 628.77M300.87 618.24L287.13 627.76M336.86 618.24L325.14 626.76M354.87 618.24L344.13 625.76M362.23 624.86L365.77 620.14M381.23 624.86L384.77 620.14M409.86 618.23L401.14 624.77M481.78 618.14L474.22 627.86M554.87 618.24L547.13 623.76M300.86 636.23L288.14 645.77M318.86 636.24L307.14 644.76M344.23 642.86L347.77 638.14M445.87 636.24L438.13 641.76M554.87 636.24L547.13 641.76M281.86 654.23L269.14 663.77M300.86 654.23L288.14 663.77M325.23 660.86L328.77 656.14M344.23 659.86L347.77 655.14M362.23 658.86L365.77 654.14M281.86 672.23L269.14 681.77M300.86 672.23L288.14 681.77M362.14 675.77L366.86 672.23M500.78 672.14L493.22 681.86M518.78 672.14L511.22 681.86M590.85 672.22L585.15 676.78M281.86 690.23L269.14 699.77M306.22 697.85L310.78 692.15M325.23 695.86L328.77 691.14M362.14 693.77L366.86 690.23M518.78 690.14L511.22 699.86M536.77 690.14L530.23 698.86M590.85 690.22L585.15 694.78M263.86 709.23L251.14 718.77M281.86 709.23L269.14 718.77M326.23 714.86L329.77 710.14M380.14 710.77L384.86 707.23M481.87 709.24L474.13 714.76M627.86 709.23L623.14 712.77M300.86 727.24L289.14 735.76M318.87 727.24L308.13 734.76M345.23 732.86L348.77 728.14M380.14 730.77L384.86 727.23M627.86 727.23L623.14 730.77M645.86 727.23L641.14 730.77M300.86 745.24L289.14 753.76M318.87 745.24L308.13 752.76M336.86 745.22L327.14 752.78M354.86 745.23L346.14 751.77M372.86 745.23L364.14 751.77M381.23 750.86L384.77 746.14M399.23 750.86L402.77 746.14M436.23 749.86L439.77 745.14M627.77 745.14L624.23 749.86M645.86 745.23L641.14 748.77M300.85 763.22L290.15 771.78M409.86 763.22L400.14 770.78M609.77 763.14L606.23 767.86M627.77 763.14L624.23 767.86M645.86 763.23L641.14 766.77"/>
<path stroke-width="0.873" d="M701.13 57.75L707.87 53.25M738.13 57.75L744.87 53.25M755.13 57.75L761.87 53.25M772.11 57.72L779.89 53.28M648.13 94.75L654.87 90.25M647.13 203.75L653.87 199.25M665.13 203.75L671.87 199.25M777.11 202.73L782.89 199.27M666.13 221.75L672.87 217.25M684.13 221.75L690.87 217.25M721.13 221.75L727.87 217.25M778.11 238.73L783.89 235.27M205.13 280.75L208.87 278.25M648.13 275.75L654.87 271.25M207.25 306.87L211.75 300.13M226.27 303.89L229.73 298.11M724.11 292.73L729.89 289.27M219.11 319.73L224.89 316.27M318.88 309.26L305.12 317.74M668.11 311.73L673.89 308.27M724.11 310.73L729.89 307.27M318.88 327.26L304.12 336.74M304.25 336.87L308.75 330.13M336.88 327.26L323.12 335.74M323.25 335.87L327.75 329.13M354.88 327.26L340.12 336.74M340.25 336.87L344.75 330.13M372.88 327.26L355.12 338.74M355.26 338.88L360.74 330.12M390.88 327.26L373.12 338.74M373.26 338.88L378.74 330.12M409.88 327.26L392.12 338.74M427.89 327.27L412.11 336.73M412.28 336.89L416.72 329.11M445.89 327.27L430.11 336.73M430.28 336.89L434.72 329.11M463.89 327.28L447.11 336.72M481.89 327.28L463.11 337.72M463.26 337.88L468.74 329.12M503.25 334.87L507.75 328.13M724.11 328.73L729.89 325.27M318.88 345.26L302.12 355.74M302.28 355.89L306.72 348.11M336.88 345.26L320.12 355.74M320.28 355.89L324.72 348.11M354.88 345.26L337.12 356.74M337.26 356.88L342.74 348.12M372.87 345.25L354.13 357.75M354.28 357.89L359.72 348.11M390.87 345.25L372.13 357.75M372.28 357.89L377.72 348.11M409.89 345.27L390.11 356.73M390.26 356.88L395.74 348.12M427.88 345.27L409.12 356.73M409.26 356.88L414.74 348.12M445.89 345.27L428.11 355.73M669.11 347.73L674.89 344.27M687.11 347.73L692.89 344.27M354.88 363.26L337.12 374.74M372.87 363.25L354.13 375.75M354.28 375.89L359.72 366.11M390.88 363.26L371.12 375.74M371.25 375.87L377.75 366.13M409.89 363.27L390.11 374.73M390.26 374.88L395.74 366.12M427.88 363.27L409.12 374.73M409.26 374.88L414.74 366.12M445.89 363.27L428.11 373.73M706.11 365.73L711.89 362.27M281.88 382.26L264.12 393.74M300.89 382.27L281.11 393.73M281.26 393.88L286.74 385.12M318.89 382.27L301.11 392.73M336.89 382.27L319.11 392.73M319.26 392.88L324.74 384.12M354.89 382.27L337.11 392.73M372.89 382.28L354.11 392.72M354.26 392.88L359.74 384.12M390.89 382.28L372.11 392.72M372.26 392.88L377.74 384.12M281.88 400.26L264.12 411.74M300.88 400.27L282.12 411.73M282.26 411.88L287.74 403.12M318.89 400.27L301.11 410.73M336.89 400.27L319.11 410.73M319.26 410.88L324.74 402.12M354.89 400.27L337.11 410.73M337.26 410.88L342.74 402.12M372.89 400.28L354.11 410.72M354.26 410.88L359.74 402.12M390.89 400.28L372.11 410.72M372.26 410.88L377.74 402.12M654.13 401.75L657.87 399.25M745.13 400.75L748.87 398.25M763.13 400.75L766.87 398.25M300.89 418.27L283.11 428.73M283.26 428.88L288.74 420.12M318.89 418.27L301.11 428.73M301.26 428.88L306.74 420.12M336.89 418.27L319.11 428.73M319.26 428.88L324.74 420.12M354.89 418.27L337.11 428.73M337.26 428.88L342.74 420.12M372.89 418.28L354.11 428.72M354.26 428.88L359.74 420.12M390.89 418.28L372.11 428.72M372.26 428.88L377.74 420.12M673.13 419.75L676.87 417.25M691.13 419.75L694.87 417.25M745.13 418.75L748.87 416.25M354.89 436.28L336.11 446.72M336.26 446.88L341.74 438.12M372.89 436.28L354.11 446.72M354.26 446.88L359.74 438.12M692.13 437.75L695.87 435.25M710.13 437.75L713.87 435.25M728.13 437.75L731.87 435.25M764.13 436.75L767.87 434.25M764.13 436.25L767.87 438.75M782.13 436.75L785.87 434.25M782.13 436.25L785.87 438.75M354.89 454.28L336.11 464.72M336.26 464.88L341.74 456.12M372.89 454.28L354.11 464.72M354.26 464.88L359.74 456.12M692.13 455.75L695.87 453.25M710.13 455.75L713.87 453.25M728.13 455.75L731.87 453.25M746.13 455.75L749.87 453.25M764.13 454.25L767.87 456.75M541.11 475.73L546.89 472.27M654.13 474.75L657.87 472.25M692.13 473.75L695.87 471.25M692.13 473.25L695.87 475.75M710.13 473.75L713.87 471.25M728.13 473.75L731.87 471.25M746.13 473.75L749.87 471.25M764.13 473.75L767.87 471.25M303.28 499.89L307.72 492.11M595.11 491.73L600.89 488.27M595.11 491.27L600.89 494.73M632.11 491.73L637.89 488.27M651.11 491.73L656.89 488.27M669.11 491.73L674.89 488.27M706.11 491.73L711.89 488.27M782.13 491.75L785.87 489.25M300.89 509.27L288.11 516.73M288.27 516.89L291.73 511.11M318.89 509.28L304.11 517.72M304.25 517.87L308.75 511.13M358.25 516.87L362.75 510.13M376.25 516.87L380.75 510.13M412.25 516.87L416.75 510.13M596.11 509.27L601.89 512.73M633.11 509.73L638.89 506.27M746.13 507.25L749.87 509.75M765.25 506.13L767.75 509.87M790.87 509.75L784.13 505.25M784.25 505.13L786.75 508.87M281.88 527.26L267.12 536.74M267.25 536.87L271.75 530.13M300.88 527.26L286.12 536.74M318.89 527.28L304.11 535.72M304.25 535.87L308.75 529.13M336.89 527.28L322.11 535.72M322.25 535.87L326.75 529.13M341.27 534.89L344.73 529.11M359.25 534.87L363.75 528.13M377.25 534.87L381.75 528.13M413.25 534.87L417.75 528.13M655.13 528.75L658.87 526.25M674.13 528.75L677.87 526.25M692.13 527.75L695.87 525.25M300.88 545.26L286.12 554.74M286.25 554.87L290.75 548.13M318.88 545.26L304.12 554.74M304.28 554.89L308.72 547.11M336.88 545.26L323.12 553.74M354.88 545.26L341.12 553.74M341.25 553.87L345.75 547.13M372.89 545.27L360.11 552.73M360.25 552.87L364.75 546.13M396.25 552.87L400.75 546.13M414.25 552.87L418.75 546.13M618.13 547.75L621.87 545.25M637.13 547.75L640.87 545.25M674.13 546.75L677.87 544.25M692.13 545.25L695.87 547.75M710.13 544.25L713.87 546.75M748.25 542.13L750.75 545.87M772.89 545.73L767.11 542.27M300.88 563.26L286.12 572.74M286.25 572.87L290.75 566.13M336.88 563.26L323.12 571.74M323.25 571.87L327.75 565.13M354.87 563.25L342.13 571.75M372.88 563.26L361.12 570.74M361.27 570.89L364.73 565.11M390.89 563.27L380.11 569.73M445.89 563.27L433.11 570.73M481.90 563.28L470.10 569.72M582.25 567.87L584.75 564.13M619.25 567.87L621.75 564.13M655.13 565.75L658.87 563.25M673.13 565.75L676.87 563.25M691.13 564.75L694.87 562.25M268.25 591.87L272.75 585.13M305.25 590.87L309.75 584.13M336.87 581.25L324.13 589.75M324.27 589.89L327.73 584.11M354.87 581.25L342.13 589.75M342.25 589.87L346.75 583.13M372.88 581.26L361.12 588.74M361.27 588.89L364.73 583.11M380.27 588.89L383.73 583.11M417.27 588.89L420.73 583.11M453.27 589.89L456.73 584.11M536.87 581.25L527.13 587.75M583.25 586.87L585.75 583.13M601.25 585.87L603.75 582.13M637.13 584.75L640.87 582.25M673.13 582.75L676.87 580.25M691.13 581.25L694.87 583.75M709.13 580.25L712.87 582.75M318.87 600.25L306.13 608.75M336.87 600.25L324.13 608.75M354.88 600.26L343.12 607.74M343.27 607.89L346.73 602.11M372.89 600.27L362.11 606.73M362.27 606.89L365.73 601.11M390.87 600.25L381.13 606.75M583.25 603.87L585.75 600.13M601.13 602.75L604.87 600.25M619.13 602.75L622.87 600.25M637.13 601.75L640.87 599.25M656.13 600.75L659.87 598.25M674.13 600.75L677.87 598.25M692.13 600.75L695.87 598.25M710.13 599.25L713.87 601.75M790.87 600.75L787.13 598.25M318.87 618.25L306.13 626.75M306.27 626.89L309.73 621.11M372.89 618.27L362.11 624.73M390.87 618.25L381.13 624.75M547.25 623.87L549.75 620.13M572.89 618.28L565.11 622.72M565.25 622.87L567.75 619.13M656.13 618.75L659.87 616.25M674.13 618.75L677.87 616.25M692.13 618.75L695.87 616.25M710.13 617.25L713.87 619.75M790.87 618.75L787.13 616.25M336.88 636.26L325.12 643.74M325.27 643.89L328.73 638.11M354.89 636.27L344.11 642.73M372.89 636.27L362.11 642.73M362.27 642.89L365.73 637.11M390.88 636.26L382.12 641.74M409.88 636.26L401.12 641.74M419.25 640.87L421.75 637.13M547.25 641.87L549.75 638.13M572.89 636.28L565.11 640.72M565.25 640.87L567.75 637.13M620.13 637.75L623.87 635.25M638.13 637.75L641.87 635.25M754.87 636.75L751.13 634.25M772.87 636.75L769.13 634.25M318.88 654.26L307.12 661.74M307.27 661.89L310.73 656.11M336.90 654.28L325.10 660.72M419.13 654.75L422.87 652.25M419.13 654.25L422.87 656.75M437.13 656.75L440.87 654.25M572.89 654.28L565.11 658.72M565.25 658.87L567.75 655.13M584.25 657.87L586.75 654.13M657.13 654.25L660.87 656.75M754.87 654.75L751.13 652.25M772.87 654.75L769.13 652.25M318.88 672.26L307.12 679.74M307.27 679.89L310.73 674.11M336.90 672.28L325.10 678.72M325.27 678.89L328.73 673.11M419.13 672.25L422.87 674.75M566.25 677.87L568.75 674.13M754.87 672.75L751.13 670.25M300.87 690.25L288.13 698.75M288.27 698.89L291.73 693.11M318.89 690.27L306.11 697.73M418.13 690.25L421.87 692.75M437.13 691.75L440.87 689.25M457.25 695.87L459.75 692.13M481.74 690.12L476.26 698.88M500.75 690.13L494.25 699.87M627.89 690.27L622.11 693.73M645.89 690.27L640.11 693.73M300.87 709.25L288.13 717.75M318.90 709.28L307.10 715.72M307.27 715.89L310.73 710.11M455.13 711.75L458.87 709.25M609.89 709.27L604.11 712.73M736.87 709.75L733.13 707.25M336.87 727.25L327.13 733.75M354.89 727.28L345.11 732.72M436.13 728.75L439.87 726.25M481.89 727.28L474.11 731.72M474.25 731.87L476.75 728.13M512.13 734.75L515.87 732.25M554.72 727.11L550.28 734.89M550.13 734.75L553.87 732.25M572.75 727.13L568.25 733.87M568.13 733.75L571.87 731.25M663.87 727.25L660.13 729.75M736.87 727.75L733.13 725.25M289.27 753.89L292.73 748.11M308.27 752.89L311.73 747.11M390.89 745.28L381.11 750.72M455.13 747.75L458.87 745.25M474.25 748.87L476.75 745.13M500.89 745.28L493.11 749.72M493.25 749.87L495.75 746.13M536.72 745.11L532.28 752.89M532.13 752.75L535.87 750.25M554.75 745.13L550.25 751.87M590.73 745.11L587.27 750.89M663.87 745.25L660.13 747.75M427.87 763.25L418.13 769.75M445.88 763.26L437.12 768.74M481.87 763.25L475.13 767.75M500.89 763.28L493.11 767.72M493.25 767.87L495.75 764.13M513.13 769.75L516.87 767.25M536.75 763.13L532.25 769.87M532.13 769.75L535.87 767.25M572.73 763.11L569.27 768.89M590.73 763.11L587.27 768.89M663.87 763.25L660.13 765.75"/>
<path stroke-width="0.922" d="M755.09 57.32L762.91 60.68M209.70 272.10L205.30 280.90M238.10 299.70L242.90 297.30M269.32 301.91L272.68 294.09M780.10 292.30L784.90 294.70M247.32 322.91L251.68 313.09M265.30 321.90L269.70 313.10M284.30 320.90L288.70 312.10M305.30 317.90L308.70 311.10M762.10 310.30L766.90 312.70M780.10 310.30L784.90 312.70M247.30 339.90L251.70 331.10M265.30 338.90L269.70 330.10M284.30 338.90L288.70 330.10M392.30 338.90L396.70 330.10M500.91 327.32L482.09 335.68M518.91 327.31L503.09 334.69M284.30 356.90L288.70 348.10M463.90 345.29L446.10 354.71M481.90 345.29L464.10 354.71M500.91 345.32L482.09 353.68M518.92 345.33L501.08 352.67M725.10 346.70L729.90 344.30M725.10 346.30L729.90 348.70M743.10 346.30L747.90 348.70M284.30 374.90L288.70 366.10M302.30 374.90L306.70 366.10M320.30 374.90L324.70 366.10M337.30 374.90L341.70 366.10M463.90 363.29L446.10 372.71M481.90 363.29L464.10 372.71M500.91 363.31L483.09 371.69M518.92 363.33L501.08 370.67M725.10 364.70L729.90 362.30M743.10 364.70L747.90 362.30M743.10 364.30L747.90 366.70M761.10 364.70L765.90 362.30M264.30 393.90L268.70 385.10M301.30 392.90L305.70 384.10M337.30 392.90L341.70 384.10M409.90 382.29L390.10 392.71M427.90 382.30L409.10 391.70M445.91 382.31L428.09 390.69M463.91 382.31L446.09 390.69M481.92 382.33L464.08 389.67M500.92 382.33L483.08 389.67M671.10 383.30L675.90 385.70M726.10 382.70L730.90 380.30M726.10 382.30L730.90 384.70M744.10 382.70L748.90 380.30M744.10 382.30L748.90 384.70M762.10 382.70L766.90 380.30M762.10 382.30L766.90 384.70M780.10 382.70L784.90 380.30M780.10 382.30L784.90 384.70M264.30 411.90L268.70 403.10M301.30 410.90L305.70 402.10M409.90 400.30L391.10 409.70M427.90 400.29L410.10 409.71M445.91 400.31L428.09 408.69M463.91 400.32L447.09 407.68M481.91 400.32L465.09 407.68M672.10 401.70L676.90 399.30M745.10 400.30L749.90 402.70M763.10 400.30L767.90 402.70M781.10 400.70L785.90 398.30M781.10 400.30L785.90 402.70M409.90 418.30L391.10 427.70M427.91 418.31L410.09 426.69M445.90 418.30L429.10 426.70M463.91 418.32L447.09 425.68M654.10 419.70L658.90 417.30M709.10 419.70L713.90 417.30M745.10 418.30L749.90 420.70M763.10 418.70L767.90 416.30M763.10 418.30L767.90 420.70M781.10 418.70L785.90 416.30M781.10 418.30L785.90 420.70M336.90 436.29L319.10 445.71M390.90 436.30L372.10 445.70M409.90 436.30L391.10 445.70M427.91 436.32L409.09 444.68M445.91 436.32L429.09 443.68M463.91 436.32L447.09 443.68M745.10 436.30L749.90 438.70M336.90 454.29L319.10 463.71M390.90 454.29L373.10 463.71M409.91 454.32L391.09 462.68M427.91 454.31L410.09 462.69M445.91 454.32L429.09 461.68M782.10 454.30L786.90 456.70M336.90 472.29L319.10 481.71M354.90 472.29L337.10 481.71M372.90 472.29L355.10 481.71M390.91 472.31L373.09 480.69M409.91 472.32L391.09 480.68M427.92 472.33L410.08 479.67M635.10 474.70L639.90 472.30M635.10 474.30L639.90 476.70M782.10 472.30L786.90 474.70M318.90 491.29L303.10 499.71M336.90 491.30L320.10 499.70M354.90 491.30L338.10 499.70M372.91 491.32L356.09 498.68M390.91 491.31L375.09 498.69M409.92 491.33L392.08 498.67M613.10 491.70L619.90 488.30M613.10 491.30L619.90 494.70M688.10 491.30L692.90 493.70M725.10 491.30L729.90 493.70M744.10 491.70L748.90 489.30M744.10 491.30L748.90 493.70M763.10 491.70L767.90 489.30M336.90 509.29L321.10 517.71M354.91 509.31L339.09 516.69M372.90 509.30L358.10 516.70M390.90 509.30L376.10 516.70M409.91 509.32L393.09 516.68M427.91 509.31L412.09 516.69M615.10 509.70L619.90 507.30M652.10 509.30L656.90 511.70M671.10 508.70L675.90 506.30M689.10 508.30L693.90 510.70M772.91 509.68L765.09 506.32M286.32 536.91L289.68 529.09M354.90 527.29L341.10 534.71M372.90 527.29L359.10 534.71M390.90 527.29L377.10 534.71M409.91 527.31L394.09 534.69M427.90 527.30L413.10 534.70M445.91 527.32L431.09 533.68M463.91 527.32L449.09 533.68M617.10 528.70L621.90 526.30M617.10 528.30L621.90 530.70M636.10 528.70L640.90 526.30M772.90 527.70L766.10 524.30M269.30 554.90L272.70 548.10M323.30 553.90L326.70 547.10M390.90 545.30L378.10 551.70M409.90 545.29L396.10 552.71M427.90 545.29L414.10 552.71M445.91 545.31L432.09 551.69M463.91 545.31L450.09 551.69M481.91 545.31L468.09 551.69M754.90 545.70L748.10 542.30M786.30 542.10L787.70 544.90M250.30 573.90L253.70 567.10M268.32 573.91L271.68 566.09M305.30 572.90L308.70 566.10M342.30 571.90L345.70 565.10M409.90 563.30L397.10 569.70M427.90 563.30L415.10 569.70M463.90 563.30L451.10 569.70M500.90 563.30L488.10 569.70M518.91 563.31L507.09 568.69M536.90 563.30L526.10 568.70M572.91 563.32L563.09 567.68M590.90 563.30L582.10 567.70M609.91 563.32L600.09 567.68M627.90 563.30L619.10 567.70M709.10 562.30L713.90 564.70M772.90 563.70L768.10 561.30M768.30 561.10L769.70 563.90M787.10 560.30L789.90 561.70M787.30 560.10L788.70 562.90M195.32 593.91L198.68 586.09M212.30 594.90L216.70 586.10M250.32 592.91L253.68 585.09M287.32 591.91L290.68 584.09M546.30 587.90L548.70 583.10M565.30 587.90L567.70 583.10M609.90 581.30L601.10 585.70M627.90 581.30L619.10 585.70M691.10 581.70L695.90 579.30M772.90 581.70L768.10 579.30M768.30 579.10L769.70 581.90M159.32 611.91L162.68 604.09M177.32 611.91L180.68 604.09M193.30 613.90L197.70 605.10M232.32 611.91L235.68 604.09M250.32 610.91L253.68 603.09M269.32 610.91L272.68 603.09M287.30 609.90L290.70 603.10M306.30 608.90L309.70 602.10M324.30 608.90L327.70 602.10M419.30 607.90L421.70 603.10M438.10 608.70L442.90 606.30M528.30 606.90L530.70 602.10M547.30 605.90L549.70 601.10M565.30 605.90L567.70 601.10M590.91 600.32L583.09 603.68M729.10 599.30L731.90 600.70M772.90 600.70L768.10 598.30M768.10 598.30L770.90 599.70M156.32 632.91L160.68 623.09M232.32 629.91L235.68 622.09M250.32 628.91L253.68 621.09M269.32 628.91L272.68 621.09M287.30 627.90L290.70 621.10M325.30 626.90L328.70 620.10M401.30 624.90L403.70 620.10M510.30 625.90L512.70 621.10M590.90 618.30L584.10 621.70M730.10 617.70L732.90 616.30M772.90 618.70L768.10 616.30M28.32 651.91L32.68 642.09M46.32 651.91L50.68 642.09M101.32 651.91L105.68 642.09M119.32 651.91L123.68 642.09M138.32 650.91L142.68 641.09M157.30 649.90L161.70 641.10M232.32 647.91L235.68 640.09M251.30 646.90L254.70 640.10M269.32 646.91L272.68 639.09M288.30 645.90L291.70 639.10M382.30 641.90L384.70 637.10M401.30 641.90L403.70 637.10M427.90 636.30L419.10 640.70M474.10 644.70L478.90 642.30M492.10 644.70L496.90 642.30M590.90 636.30L584.10 639.70M657.10 636.70L659.90 635.30M657.10 636.30L659.90 637.70M694.10 636.70L696.90 635.30M694.10 636.30L696.90 637.70M712.10 636.70L714.90 635.30M712.10 636.30L714.90 637.70M731.10 635.70L733.90 634.30M731.10 635.30L733.90 636.70M64.32 669.91L68.68 660.09M101.32 669.91L105.68 660.09M119.32 669.91L123.68 660.09M176.30 667.90L180.70 659.10M195.32 666.91L198.68 659.09M232.32 665.91L235.68 658.09M251.30 664.90L254.70 658.10M269.30 663.90L272.70 657.10M288.30 663.90L291.70 657.10M354.90 654.30L344.10 659.70M399.10 655.70L403.90 653.30M456.30 660.90L458.70 656.10M511.10 662.70L515.90 660.30M529.10 661.70L533.90 659.30M547.30 660.90L549.70 656.10M590.90 654.30L584.10 657.70M639.10 654.70L641.90 653.30M657.10 654.70L659.90 653.30M676.10 654.70L678.90 653.30M676.10 654.30L678.90 655.70M694.10 654.70L696.90 653.30M694.10 654.30L696.90 655.70M713.10 654.70L715.90 653.30M713.10 654.30L715.90 655.70M769.30 652.10L770.70 654.90M101.32 687.91L105.68 678.09M195.32 684.91L198.68 677.09M251.30 682.90L254.70 676.10M269.30 681.90L272.70 675.10M288.30 681.90L291.70 675.10M354.91 672.31L343.09 677.69M399.10 672.70L403.90 670.30M399.10 672.30L403.90 674.70M481.68 672.09L477.32 681.91M529.30 679.90L531.70 675.10M609.90 672.30L603.10 675.70M658.10 673.70L660.90 672.30M658.10 673.30L660.90 674.70M676.10 672.70L678.90 671.30M676.10 672.30L678.90 673.70M695.10 672.70L697.90 671.30M695.10 672.30L697.90 673.70M713.10 672.70L715.90 671.30M713.10 672.30L715.90 673.70M731.10 672.70L733.90 671.30M731.10 672.30L733.90 673.70M751.10 670.30L753.90 671.70M751.30 670.10L752.70 672.90M772.90 672.70L770.10 671.30M790.90 672.70L788.10 671.30M101.32 705.91L105.68 696.09M195.32 702.91L198.68 695.09M214.32 702.91L217.68 695.09M251.30 700.90L254.70 694.10M269.30 699.90L272.70 693.10M336.91 690.31L325.09 695.69M399.10 690.70L403.90 688.30M399.10 690.30L403.90 692.70M437.10 691.30L441.90 693.70M476.10 698.70L480.90 696.30M494.10 699.70L498.90 697.30M530.10 698.70L534.90 696.30M548.10 697.70L552.90 695.30M566.30 696.90L568.70 692.10M585.30 694.90L586.70 692.10M609.90 690.30L603.10 693.70M622.30 693.90L623.70 691.10M640.30 693.90L641.70 691.10M677.10 691.70L679.90 690.30M677.10 691.30L679.90 692.70M695.10 691.70L697.90 690.30M754.90 690.70L752.10 689.30M772.90 690.70L770.10 689.30M790.90 690.70L788.10 689.30M214.32 720.91L217.68 713.09M233.32 719.91L236.68 712.09M251.30 718.90L254.70 712.10M269.30 718.90L272.70 712.10M288.30 717.90L291.70 711.10M336.90 709.30L326.10 714.70M354.91 709.32L345.09 713.68M345.30 713.90L347.70 709.10M398.10 709.70L402.90 707.30M417.10 709.70L421.90 707.30M417.10 709.30L421.90 711.70M436.10 709.70L440.90 707.30M474.30 714.90L476.70 710.10M493.10 716.70L497.90 714.30M530.10 716.70L534.90 714.30M604.30 712.90L605.70 710.10M663.90 709.30L659.10 711.70M659.30 711.90L660.70 709.10M772.90 709.70L770.10 708.30M46.32 742.91L50.68 733.09M214.32 738.91L217.68 731.09M233.30 737.90L236.70 731.10M251.32 737.91L254.68 730.09M270.30 736.90L273.70 730.10M327.30 733.90L329.70 729.10M372.91 727.32L363.09 731.68M436.10 728.30L440.90 730.70M530.10 734.70L534.90 732.30M586.30 731.90L587.70 729.10M605.30 731.90L606.70 729.10M605.10 731.70L607.90 730.30M623.30 730.90L624.70 728.10M641.30 730.90L642.70 728.10M660.30 729.90L661.70 727.10M696.10 727.30L698.90 728.70M714.10 726.30L716.90 727.70M754.90 727.70L752.10 726.30M772.90 727.70L770.10 726.30M-8.68 760.91L-4.32 751.09M28.32 760.91L32.68 751.09M46.32 760.91L50.68 751.09M83.32 760.91L87.68 751.09M139.30 758.90L143.70 750.10M159.32 757.91L162.68 750.09M233.30 755.90L236.70 749.10M251.32 755.91L254.68 748.09M270.30 754.90L273.70 748.10M346.30 751.90L348.70 747.10M364.30 751.90L366.70 747.10M409.90 745.30L399.10 750.70M445.91 745.32L436.09 749.68M481.91 745.32L474.09 748.68M572.70 745.10L569.30 751.90M587.10 750.70L589.90 749.30M605.30 749.90L606.70 747.10M624.10 749.70L626.90 748.30M641.30 748.90L642.70 746.10M696.10 745.30L698.90 746.70M754.90 745.70L752.10 744.30M28.32 778.91L32.68 769.09M46.32 778.91L50.68 769.09M83.32 778.91L87.68 769.09M120.32 777.91L124.68 768.09M159.32 775.91L162.68 768.09M177.32 775.91L180.68 768.09M233.32 774.91L236.68 767.09M251.30 773.90L254.70 767.10M270.30 772.90L273.70 766.10M328.30 770.90L330.70 766.10M400.30 770.90L402.70 766.10M418.30 769.90L420.70 765.10M437.30 768.90L439.70 764.10M463.90 763.30L455.10 767.70M554.70 763.10L551.30 769.90M569.10 768.70L571.90 767.30M587.10 768.70L589.90 767.30M606.10 767.70L608.90 766.30M624.10 767.70L626.90 766.30M641.30 766.90L642.70 764.10M696.10 763.30L698.90 764.70M754.90 763.70L752.10 762.30"/>
<path stroke-width="0.971" d="M701.07 39.38L708.93 41.62M755.06 39.39L763.94 41.61M772.08 39.34L780.92 42.66M684.07 57.38L691.93 59.62M701.06 57.39L709.94 59.61M738.07 57.38L745.93 59.62M772.08 57.34L780.92 60.66M664.07 76.38L671.93 78.62M682.06 76.39L690.94 78.61M700.06 76.39L708.94 78.61M719.07 76.38L726.93 78.62M736.06 76.39L744.94 78.61M754.06 76.39L762.94 78.61M773.07 76.38L780.93 78.62M648.07 94.38L655.93 96.62M681.94 91.40L664.06 95.60M664.06 95.39L672.94 97.61M681.06 95.39L689.94 97.61M718.06 95.39L726.94 97.61M736.06 95.39L744.94 97.61M772.94 91.40L755.06 95.60M755.07 95.38L762.93 97.62M790.94 91.40L773.06 95.60M773.06 95.39L781.94 97.61M663.06 113.39L671.94 115.61M700.06 113.39L708.94 115.61M718.06 113.39L726.94 115.61M736.06 113.39L744.94 115.61M772.94 109.40L755.06 113.60M755.06 113.39L763.94 115.61M790.94 109.39L774.06 113.61M774.07 113.38L781.93 115.62M663.94 127.39L644.06 132.61M681.93 127.38L663.07 132.62M663.06 132.39L671.94 134.61M682.06 131.39L690.94 133.61M700.06 131.39L708.94 133.61M718.06 131.39L726.94 133.61M754.94 127.40L737.06 131.60M737.06 131.39L745.94 133.61M772.94 127.39L756.06 131.61M756.07 131.38L763.93 133.62M790.94 127.39L774.06 131.61M774.06 131.39L782.94 133.61M645.93 145.37L628.07 150.63M663.94 145.39L644.06 150.61M681.93 145.38L663.07 150.62M663.06 150.39L671.94 152.61M682.06 149.39L690.94 151.61M700.06 149.39L708.94 151.61M736.94 145.40L719.06 149.60M719.07 149.38L726.93 151.62M754.94 145.40L737.06 149.60M737.06 149.39L745.94 151.61M772.94 145.39L756.06 149.61M756.07 149.38L763.93 151.62M790.93 145.38L775.07 149.62M775.07 149.38L782.93 151.62M645.93 163.37L628.07 168.63M663.93 163.38L645.07 168.62M645.06 168.39L653.94 170.61M681.94 163.40L664.06 167.60M664.06 167.39L672.94 169.61M682.06 167.39L690.94 169.61M718.94 163.40L701.06 167.60M701.07 167.38L708.93 169.62M736.94 163.40L719.06 167.60M719.06 167.39L727.94 169.61M754.94 163.39L738.06 167.61M738.07 167.38L745.93 169.62M772.93 163.38L757.07 167.62M757.07 167.36L763.93 169.64M790.93 163.38L775.07 167.62M612.07 185.38L619.93 187.62M645.94 182.40L628.06 186.60M663.94 182.40L646.06 186.60M664.06 185.39L672.94 187.61M683.07 185.38L690.93 187.62M701.07 185.38L708.93 187.62M720.07 185.38L727.93 187.62M738.07 185.38L745.93 187.62M776.07 184.36L782.93 186.64M609.94 200.39L593.06 204.61M627.94 200.39L611.06 204.61M645.94 200.39L629.06 204.61M647.07 203.38L654.93 205.62M665.07 203.38L672.93 205.62M684.07 203.38L691.93 205.62M702.07 203.38L709.93 205.62M720.07 203.38L727.93 205.62M739.07 203.38L746.93 205.62M777.07 202.36L783.93 204.64M590.93 218.38L576.07 222.62M609.94 218.39L593.06 222.61M593.07 222.38L600.93 224.62M627.94 218.39L611.06 222.61M645.94 218.39L629.06 222.61M648.07 221.38L655.93 223.62M666.07 221.38L673.93 223.62M684.07 221.38L691.93 223.62M703.07 221.36L709.93 223.64M721.07 221.38L728.93 223.62M772.94 218.40L759.06 221.60M778.08 220.33L783.92 222.67M572.93 236.38L558.07 240.62M590.93 236.37L574.07 241.63M609.94 236.39L593.06 240.61M593.07 240.38L600.93 242.62M627.94 236.39L611.06 240.61M611.07 240.38L618.93 242.62M630.07 239.38L637.93 241.62M649.07 239.36L655.93 241.64M667.07 239.38L674.93 241.62M686.07 239.36L692.93 241.64M736.94 236.40L723.06 239.60M754.94 236.39L742.06 239.61M760.08 238.33L765.92 240.67M778.07 238.36L784.93 240.64M554.93 254.36L542.07 258.64M572.92 254.35L555.08 260.65M590.93 254.37L574.07 259.63M609.94 254.39L593.06 258.61M593.07 258.38L600.93 260.62M627.93 254.38L612.07 258.62M612.07 258.36L618.93 260.64M645.93 254.38L630.07 258.62M663.94 254.40L650.06 257.60M650.07 257.36L656.93 259.64M681.94 254.40L668.06 257.60M668.07 257.36L674.93 259.64M700.94 254.40L687.06 257.60M718.94 254.40L705.06 257.60M736.94 254.39L724.06 257.61M754.94 254.39L742.06 257.61M772.93 254.38L761.07 257.62M790.93 254.38L779.07 257.62M554.92 272.33L539.08 278.67M572.92 272.34L556.08 278.66M590.93 272.37L574.07 277.63M574.06 277.39L582.94 279.61M609.93 272.37L593.07 277.63M627.93 272.38L612.07 276.62M612.07 276.38L619.93 278.62M645.93 272.38L630.07 276.62M648.07 275.38L655.93 277.62M681.94 272.40L668.06 275.60M668.07 275.36L674.93 277.64M700.94 272.40L687.06 275.60M687.08 275.33L692.92 277.67M718.94 272.40L705.06 275.60M736.94 272.39L724.06 275.61M743.08 274.33L748.92 276.67M761.08 274.33L766.92 276.67M779.08 274.33L784.92 276.67M207.62 306.93L205.38 299.07M226.67 303.92L224.33 298.08M252.38 301.93L254.62 294.07M252.07 301.64L258.93 299.36M269.07 301.62L276.93 299.38M536.92 291.35L522.08 296.65M554.93 291.36L539.07 296.64M572.93 291.36L557.07 296.64M590.93 291.38L575.07 295.62M609.93 291.38L594.07 295.62M612.07 294.38L619.93 296.62M631.07 294.36L637.93 296.64M668.07 293.36L674.93 295.64M686.07 293.36L692.93 295.64M705.08 293.33L710.92 295.67M724.08 292.33L729.92 294.67M743.08 292.33L748.92 294.67M761.08 292.33L766.92 294.67M232.34 321.92L235.66 313.08M232.07 321.62L239.93 319.38M500.92 309.33L485.08 315.67M518.92 309.33L503.08 315.67M536.92 309.33L521.08 315.67M554.92 309.35L540.08 314.65M572.92 309.35L558.08 314.65M590.93 309.38L576.07 313.62M609.93 309.38L595.07 313.62M613.07 312.36L619.93 314.64M631.07 312.36L637.93 314.64M649.07 312.36L655.93 314.64M668.07 311.36L674.93 313.64M687.08 311.33L692.92 313.67M724.08 310.33L729.92 312.67M743.08 310.33L748.92 312.67M536.92 327.33L521.08 333.67M554.93 327.36L539.07 332.64M572.92 327.35L558.08 332.65M590.93 327.38L576.07 331.62M576.07 331.38L583.93 333.62M609.93 327.38L595.07 331.62M627.93 327.38L613.07 331.62M631.07 330.36L637.93 332.64M663.94 327.40L650.06 330.60M650.07 330.36L656.93 332.64M669.08 329.33L674.92 331.67M688.08 329.33L693.92 331.67M724.08 328.33L729.92 330.67M743.08 328.33L748.92 330.67M761.08 328.33L766.92 330.67M779.08 328.33L784.92 330.67M536.92 345.33L521.08 351.67M554.93 345.36L539.07 350.64M572.93 345.36L557.07 350.64M590.93 345.38L576.07 349.62M576.07 349.38L583.93 351.62M609.93 345.38L595.07 349.62M627.94 345.40L614.06 348.60M614.07 348.36L620.93 350.64M645.94 345.40L632.06 348.60M632.07 348.36L638.93 350.64M663.94 345.40L650.06 348.60M669.08 347.33L674.92 349.67M687.07 347.36L693.93 349.64M761.08 346.33L766.92 348.67M779.08 346.33L784.92 348.67M536.92 363.34L520.08 369.66M554.93 363.36L539.07 368.64M572.93 363.36L557.07 368.64M590.93 363.37L577.07 367.63M609.94 363.40L596.06 366.60M596.07 366.36L602.93 368.64M627.94 363.40L614.06 366.60M614.07 366.36L620.93 368.64M645.94 363.40L632.06 366.60M663.94 363.39L651.06 366.61M670.08 365.33L675.92 367.67M688.08 365.33L693.92 367.67M706.08 365.33L711.92 367.67M725.08 364.33L730.92 366.67M761.08 364.33L766.92 366.67M779.08 364.33L784.92 366.67M518.92 382.35L501.08 388.65M536.93 382.37L520.07 387.63M554.93 382.38L539.07 386.62M572.93 382.38L558.07 386.62M590.94 382.39L578.06 385.61M597.08 384.33L602.92 386.67M652.08 383.33L657.92 385.67M500.92 400.35L483.08 406.65M518.93 400.37L502.07 405.63M536.93 400.37L520.07 405.63M554.93 400.38L539.07 404.62M572.94 400.40L559.06 403.60M559.07 403.36L565.93 405.64M590.94 400.39L578.06 403.61M597.08 402.33L602.92 404.67M635.06 402.39L639.94 403.61M654.06 401.39L658.94 402.61M672.06 401.39L676.94 402.61M690.06 401.39L694.94 402.61M708.06 401.39L712.94 402.61M726.06 401.39L730.94 402.61M481.92 418.34L465.08 424.66M500.92 418.35L483.08 424.65M518.93 418.37L502.07 423.63M536.93 418.38L521.07 422.62M521.07 422.38L528.93 424.62M554.93 418.38L540.07 422.62M572.94 418.40L559.06 421.60M559.07 421.36L565.93 423.64M590.94 418.40L577.06 421.60M597.08 420.33L602.92 422.67M654.06 419.39L658.94 420.61M673.06 419.39L677.94 420.61M691.06 419.39L695.94 420.61M709.06 419.39L713.94 420.61M727.06 419.39L731.94 420.61M481.92 436.33L466.08 442.67M500.93 436.37L484.07 441.63M518.93 436.36L503.07 441.64M536.93 436.38L522.07 440.62M554.93 436.38L540.07 440.62M572.94 436.40L559.06 439.60M559.07 439.36L565.93 441.64M590.94 436.39L578.06 439.61M597.08 438.33L602.92 440.67M663.94 436.39L655.06 438.61M655.07 438.36L658.93 439.64M674.07 437.36L677.93 438.64M692.07 437.36L695.93 438.64M710.07 437.36L713.93 438.64M728.07 437.36L731.93 438.64M745.06 436.61L749.94 435.39M463.92 454.34L447.08 460.66M481.93 454.36L466.07 459.64M500.93 454.36L485.07 459.64M518.93 454.38L504.07 458.62M536.93 454.37L523.07 458.63M554.94 454.39L542.06 457.61M542.08 457.33L547.92 459.67M572.94 454.39L560.06 457.61M590.93 454.38L579.07 457.62M598.08 456.33L603.92 458.67M617.06 456.39L621.94 457.61M636.06 456.39L640.94 457.61M663.94 454.39L655.06 456.61M655.07 456.36L658.93 457.64M674.07 455.36L677.93 456.64M692.07 455.36L695.93 456.64M710.07 455.36L713.93 456.64M728.07 455.36L731.93 456.64M746.07 455.36L749.93 456.64M764.07 454.64L767.93 453.36M782.07 454.64L785.93 453.36M445.92 472.34L429.08 478.66M463.92 472.33L448.08 478.67M481.93 472.36L466.07 477.64M500.93 472.36L485.07 477.64M518.93 472.38L503.07 476.62M536.93 472.38L522.07 476.62M554.94 472.40L541.06 475.60M541.07 475.36L547.93 477.64M572.94 472.39L560.06 475.61M560.08 475.33L565.92 477.67M590.93 472.38L579.07 475.62M609.93 472.38L598.07 475.62M627.93 472.38L616.07 475.62M654.06 474.39L658.94 475.61M672.06 474.39L676.94 475.61M710.07 473.36L713.93 474.64M728.07 473.36L731.93 474.64M746.07 473.36L749.93 474.64M764.07 473.36L767.93 474.64M782.06 472.61L786.94 471.39M427.92 491.34L411.08 497.66M445.92 491.34L429.08 497.66M463.93 491.36L448.07 496.64M481.93 491.36L466.07 496.64M500.94 491.39L484.06 495.61M518.93 491.38L503.07 495.62M522.07 494.36L528.93 496.64M572.94 491.40L559.06 494.60M590.94 491.40L577.06 494.60M632.08 491.33L637.92 493.67M651.08 491.33L656.92 493.67M669.08 491.33L674.92 493.67M706.08 491.33L711.92 493.67M763.06 491.39L767.94 492.61M782.07 491.36L785.93 492.64M445.92 509.33L430.08 515.67M463.92 509.33L448.08 515.67M481.93 509.36L466.07 514.64M500.93 509.36L485.07 514.64M518.93 509.38L503.07 513.62M536.93 509.38L522.07 513.62M554.94 509.40L541.06 512.60M541.07 512.36L547.93 514.64M572.94 509.39L560.06 512.61M590.94 509.39L578.06 512.61M596.08 509.67L601.92 507.33M615.08 509.33L620.92 511.67M633.08 509.33L638.92 511.67M689.08 508.67L694.92 506.33M708.06 507.61L712.94 506.39M727.06 507.61L731.94 506.39M754.94 509.61L746.06 507.39M746.06 507.61L750.94 506.39M481.92 527.35L467.08 532.65M500.92 527.35L486.08 532.65M518.93 527.37L505.07 531.63M536.93 527.36L524.07 531.64M554.94 527.39L542.06 530.61M572.93 527.38L561.07 530.62M590.93 527.37L580.07 530.63M598.08 528.33L603.92 530.67M636.06 528.39L640.94 529.61M655.06 528.39L659.94 529.61M674.07 528.36L677.93 529.64M692.07 527.36L695.93 528.64M711.07 526.64L714.93 525.36M729.07 526.64L732.93 525.36M754.93 527.64L748.07 525.36M748.07 525.64L751.93 524.36M785.36 523.07L786.64 526.93M253.33 553.92L255.67 548.08M500.92 545.34L487.08 550.66M518.93 545.36L506.07 549.64M536.92 545.35L525.08 549.65M554.92 545.35L543.08 549.65M572.93 545.37L562.07 548.63M590.93 545.36L581.07 548.64M581.06 548.39L585.94 549.61M609.93 545.37L599.07 548.63M618.06 547.39L622.94 548.61M645.94 545.39L637.06 547.61M637.07 547.36L640.93 548.64M663.94 545.39L655.06 547.61M655.06 547.39L659.94 548.61M674.07 546.36L677.93 547.64M692.07 545.64L695.93 544.36M710.07 544.64L713.93 543.36M736.93 545.62L729.07 543.38M234.36 572.93L236.64 566.07M554.92 563.33L544.08 567.67M645.92 563.34L637.08 566.66M663.94 563.39L655.06 565.61M655.06 565.39L659.94 566.61M681.94 563.39L673.06 565.61M673.06 565.39L677.94 566.61M691.06 564.39L695.94 565.61M709.06 562.61L713.94 561.39M736.94 563.61L728.06 561.39M728.06 561.61L732.94 560.39M754.93 563.64L748.07 561.36M748.07 561.64L751.93 560.36M195.06 593.61L203.94 591.39M231.34 593.92L234.66 585.08M231.06 593.61L239.94 591.39M250.07 592.62L257.93 590.38M399.33 588.92L401.67 583.08M472.33 589.92L474.67 584.08M490.33 588.92L492.67 583.08M509.33 588.92L511.67 583.08M546.06 587.61L550.94 586.39M565.06 587.61L569.94 586.39M645.92 581.34L637.08 584.66M637.06 584.39L641.94 585.61M663.92 581.34L655.08 584.66M673.07 582.36L676.93 583.64M709.06 580.61L713.94 579.39M736.94 581.61L728.06 579.39M728.06 579.61L732.94 578.39M748.07 580.64L751.93 579.36M790.93 581.64L787.07 580.36M122.34 612.92L125.66 604.08M122.06 612.61L130.94 610.39M141.34 612.92L144.66 604.08M141.06 612.61L149.94 610.39M159.06 611.61L167.94 609.39M177.06 611.61L185.94 609.39M213.34 612.92L216.66 604.08M213.06 612.61L221.94 610.39M232.07 611.62L239.93 609.38M269.07 610.62L276.93 608.38M381.33 606.92L383.67 601.08M400.33 607.92L402.67 602.08M455.33 608.92L457.67 603.08M455.08 608.67L460.92 606.33M473.33 608.92L475.67 603.08M473.08 608.67L478.92 606.33M492.39 607.94L493.61 603.06M492.06 607.61L496.94 606.39M510.33 607.92L512.67 602.08M510.08 607.67L515.92 605.33M547.06 605.61L551.94 604.39M565.06 605.61L569.94 604.39M609.94 600.39L601.06 602.61M601.06 602.39L605.94 603.61M627.94 600.39L619.06 602.61M619.06 602.39L623.94 603.61M637.06 601.39L641.94 602.61M656.07 600.36L659.93 601.64M674.07 600.36L677.93 601.64M692.07 600.36L695.93 601.64M710.07 599.64L713.93 598.36M729.07 599.64L732.93 598.36M754.92 600.67L749.08 598.33M13.34 630.92L16.66 622.08M13.06 630.61L21.94 628.39M29.36 632.93L32.64 623.07M47.37 633.93L50.63 623.07M47.07 633.64L56.93 630.36M65.37 633.93L68.63 623.07M65.07 633.64L74.93 630.36M83.37 633.93L86.63 623.07M83.07 633.63L93.93 630.37M101.33 633.92L105.67 623.08M101.07 633.63L111.93 630.37M119.33 633.92L123.67 623.08M119.07 633.63L129.93 630.37M138.36 632.93L141.64 623.07M175.34 631.92L178.66 623.08M194.34 630.92L197.66 622.08M213.34 630.92L216.66 622.08M213.06 630.61L221.94 628.39M232.07 629.62L239.93 627.38M269.07 628.62L276.93 626.38M344.33 625.92L346.67 620.08M401.06 624.61L405.94 623.39M420.39 625.94L421.61 621.06M420.06 625.61L424.94 624.39M438.08 626.67L443.92 624.33M456.08 626.67L461.92 624.33M474.08 627.67L479.92 625.33M492.08 627.67L497.92 625.33M529.39 624.94L530.61 620.06M529.06 624.61L533.94 623.39M609.93 618.38L602.07 620.62M602.07 620.36L605.93 621.64M627.93 618.38L620.07 620.62M620.07 620.36L623.93 621.64M638.07 619.36L641.93 620.64M656.07 618.36L659.93 619.64M674.07 618.36L677.93 619.64M692.07 618.36L695.93 619.64M710.07 617.64L713.93 616.36M754.92 618.67L749.08 616.33M-7.64 651.93L-4.36 642.07M-7.93 651.63L2.93 648.37M10.36 651.93L13.64 642.07M28.07 651.63L38.93 648.37M46.07 651.63L56.93 648.37M65.36 651.93L68.64 642.07M65.07 651.64L74.93 648.36M83.36 651.93L86.64 642.07M83.07 651.63L93.93 648.37M101.07 651.63L111.93 648.37M119.07 651.63L129.93 648.37M176.34 649.92L179.66 641.08M176.06 649.61L184.94 647.39M194.34 649.92L197.66 641.08M194.07 649.64L203.93 646.36M213.34 648.92L216.66 640.08M213.06 648.61L221.94 646.39M232.07 647.62L239.93 645.38M269.07 646.62L276.93 644.38M307.36 644.93L309.64 638.07M401.06 641.61L405.94 640.39M438.36 641.93L439.64 638.07M456.39 643.94L457.61 639.06M456.06 643.61L460.94 642.39M510.33 644.92L512.67 639.08M510.08 644.67L515.92 642.33M529.39 642.94L530.61 638.06M529.06 642.61L533.94 641.39M609.93 636.38L602.07 638.62M620.07 637.36L623.93 638.64M638.07 637.36L641.93 638.64M675.07 636.64L678.93 635.36M675.07 636.36L678.93 637.64M-8.67 670.92L-4.33 660.08M-8.93 670.63L1.93 667.37M9.33 670.92L13.67 660.08M9.07 670.63L19.93 667.37M27.33 670.92L31.67 660.08M27.07 670.62L38.93 667.38M46.33 670.92L50.67 660.08M46.07 670.63L56.93 667.37M83.36 669.93L86.64 660.07M119.07 669.63L129.93 666.37M139.36 668.93L142.64 659.07M158.34 667.92L161.66 659.08M158.06 667.61L166.94 665.39M176.07 667.64L185.93 664.36M195.06 666.61L203.94 664.39M214.34 666.92L217.66 658.08M214.07 666.62L221.93 664.38M232.06 665.61L240.94 663.39M372.92 654.33L362.08 658.67M390.93 654.36L381.07 657.64M381.06 657.39L385.94 658.61M399.06 655.39L403.94 656.61M445.94 654.39L437.06 656.61M437.06 656.39L441.94 657.61M456.06 660.61L460.94 659.39M474.39 661.94L475.61 657.06M474.06 661.61L478.94 660.39M492.08 662.67L497.92 660.33M529.39 661.94L530.61 657.06M547.06 660.61L551.94 659.39M609.93 654.36L603.07 656.64M627.93 654.36L621.07 656.64M-9.65 689.92L-5.35 678.08M-9.93 689.62L1.93 686.38M8.33 689.92L12.67 679.08M8.07 689.62L19.93 686.38M27.35 689.92L31.65 678.08M27.07 689.63L37.93 686.37M46.37 688.93L49.63 678.07M46.07 688.63L56.93 685.37M64.33 688.92L68.67 678.08M64.07 688.63L74.93 685.37M83.36 687.93L86.64 678.07M120.36 687.93L123.64 678.07M120.07 687.64L129.93 684.36M139.36 686.93L142.64 677.07M158.34 685.92L161.66 677.08M158.06 685.61L166.94 683.39M177.34 685.92L180.66 677.08M177.08 685.66L185.92 682.34M195.06 684.61L203.94 682.39M214.34 684.92L217.66 676.08M214.06 684.61L222.94 682.39M233.38 683.93L235.62 676.07M233.07 683.62L240.93 681.38M372.93 672.37L362.07 675.63M381.06 674.39L385.94 675.61M419.07 672.64L422.93 671.36M445.93 672.38L438.07 674.62M438.07 674.36L441.93 675.64M458.36 678.93L459.64 675.07M458.07 678.64L461.93 677.36M493.08 681.67L498.92 679.33M511.08 681.67L516.92 679.33M529.06 679.61L533.94 678.39M548.39 678.94L549.61 674.06M548.07 678.64L551.93 677.36M585.36 676.93L586.64 673.07M627.93 672.36L621.07 674.64M645.93 672.36L639.07 674.64M-9.67 707.92L-5.33 697.08M-9.93 707.62L1.93 704.38M8.33 707.92L12.67 697.08M8.07 707.62L19.93 704.38M27.33 707.92L31.67 697.08M27.07 707.63L37.93 704.37M46.37 706.93L49.63 696.07M46.07 706.63L56.93 703.37M64.33 706.92L68.67 696.08M64.07 706.63L74.93 703.37M83.37 706.93L86.63 696.07M83.07 706.63L93.93 703.37M120.36 705.93L123.64 696.07M139.34 704.92L142.66 696.08M158.34 703.92L161.66 695.08M158.06 703.61L166.94 701.39M177.34 703.92L180.66 695.08M177.06 703.61L185.94 701.39M195.06 702.61L203.94 700.39M214.06 702.61L222.94 700.39M233.38 701.93L235.62 694.07M233.07 701.62L240.93 699.38M354.92 690.33L344.08 694.67M372.93 690.37L362.07 693.63M381.06 692.39L385.94 693.61M418.07 690.64L421.93 689.36M476.39 698.94L477.61 694.06M494.39 699.94L495.61 695.06M511.08 699.67L516.92 697.33M530.39 698.94L531.61 694.06M548.39 697.94L549.61 693.06M566.06 696.61L570.94 695.39M663.92 690.33L658.08 692.67M681.94 690.39L677.06 691.61M736.94 690.61L732.06 689.39M-8.67 725.92L-4.33 715.08M-8.93 725.63L1.93 722.37M8.33 725.92L12.67 715.08M8.07 725.62L19.93 722.38M27.33 725.92L31.67 715.08M27.07 725.62L38.93 722.38M46.33 724.92L50.67 714.08M64.33 724.92L68.67 714.08M64.07 724.63L74.93 721.37M83.37 724.93L86.63 714.07M83.07 724.63L93.93 721.37M101.33 724.92L105.67 714.08M101.07 724.63L111.93 721.37M120.36 723.93L123.64 714.07M139.34 722.92L142.66 714.08M158.34 721.92L161.66 713.08M158.06 721.61L166.94 719.39M177.34 721.92L180.66 713.08M177.06 721.61L185.94 719.39M196.38 720.93L198.62 713.07M196.07 720.62L203.93 718.38M214.06 720.61L222.94 718.39M233.07 719.62L240.93 717.38M269.07 718.62L276.93 716.38M372.93 709.36L363.07 712.64M363.06 712.39L367.94 713.61M398.08 709.33L403.92 711.67M436.06 709.39L440.94 710.61M463.94 709.39L455.06 711.61M455.06 711.39L459.94 712.61M474.06 714.61L478.94 713.39M493.39 716.94L494.61 712.06M511.39 716.94L512.61 712.06M511.06 716.61L515.94 715.39M530.39 716.94L531.61 712.06M548.39 715.94L549.61 711.06M548.06 715.61L552.94 714.39M567.36 714.93L568.64 711.07M567.07 714.64L570.93 713.36M586.36 713.93L587.64 710.07M586.07 713.64L589.93 712.36M645.92 709.33L640.08 711.67M718.94 709.61L714.06 708.39M-8.67 743.92L-4.33 733.08M-8.93 743.63L1.93 740.37M9.33 743.92L13.67 733.08M9.07 743.63L19.93 740.37M27.33 743.92L31.67 733.08M27.07 743.62L38.93 740.38M65.37 742.93L68.63 732.07M65.07 742.64L74.93 739.36M83.33 742.92L87.67 732.08M83.07 742.63L93.93 739.37M101.33 742.92L105.67 732.08M101.07 742.63L111.93 739.37M120.36 741.93L123.64 732.07M139.34 740.92L142.66 732.08M159.39 739.94L161.61 731.06M159.06 739.61L167.94 737.39M177.34 739.92L180.66 731.08M177.06 739.61L185.94 737.39M196.39 739.94L198.61 731.06M196.07 739.62L203.93 737.38M214.06 738.61L222.94 736.39M233.07 737.62L240.93 735.38M251.07 737.62L258.93 735.38M289.36 735.93L291.64 729.07M308.33 734.92L310.67 729.08M390.93 727.37L380.07 730.63M409.93 727.38L398.07 730.62M417.06 729.39L421.94 730.61M463.94 727.39L455.06 729.61M455.07 729.36L458.93 730.64M493.39 733.94L494.61 729.06M493.06 733.61L497.94 732.39M512.39 734.94L513.61 730.06M530.39 734.94L531.61 730.06M586.07 731.64L589.93 730.36M718.94 727.61L714.06 726.39M10.37 761.93L13.63 751.07M10.07 761.63L20.93 758.37M65.36 760.93L68.64 751.07M65.07 760.64L74.93 757.36M83.07 760.63L93.93 757.37M101.33 760.92L105.67 750.08M101.07 760.63L111.93 757.37M120.36 759.93L123.64 750.07M159.06 757.61L167.94 755.39M177.34 757.92L180.66 749.08M177.06 757.61L185.94 755.39M196.39 757.94L198.61 749.06M196.07 757.62L203.93 755.38M215.38 756.93L217.62 749.07M215.07 756.62L222.93 754.38M251.07 755.62L258.93 753.38M327.33 752.92L329.67 747.08M364.06 751.61L368.94 750.39M427.92 745.33L417.08 749.67M463.94 745.39L455.06 747.61M455.07 747.36L458.93 748.64M513.07 751.64L516.93 750.36M550.36 751.93L551.64 748.07M550.07 751.64L553.93 750.36M605.07 749.64L608.93 748.36M681.93 745.36L678.07 746.64M718.93 745.64L715.07 744.36M736.93 745.64L733.07 744.36M-7.64 778.93L-4.36 769.07M10.37 779.93L13.63 769.07M10.07 779.63L20.93 776.37M65.36 778.93L68.64 769.07M83.07 778.63L93.93 775.37M102.36 778.93L105.64 769.07M102.07 778.64L111.93 775.36M140.34 776.92L143.66 768.08M140.06 776.61L148.94 774.39M159.06 775.61L167.94 773.39M177.06 775.61L185.94 773.39M196.38 775.93L198.62 768.07M196.07 775.62L203.93 773.38M215.38 774.93L217.62 767.07M215.07 774.62L222.93 772.38M233.07 774.62L240.93 772.38M251.07 773.62L258.93 771.38M290.33 771.92L292.67 766.08M309.33 771.92L311.67 766.08M309.08 771.67L314.92 769.33M347.39 770.94L348.61 766.06M347.06 770.61L351.94 769.39M365.08 771.67L370.92 769.33M383.39 770.94L384.61 766.06M383.06 770.61L387.94 769.39M475.36 767.93L476.64 764.07M513.36 769.93L514.64 766.07M681.93 763.36L678.07 764.64M736.93 763.64L733.07 762.36"/>
<path stroke-width="1.020" d="M718.94 36.42L701.06 39.58M772.94 36.42L755.06 39.58M790.94 36.43L772.06 39.57M700.94 54.42L684.06 57.58M718.94 54.42L701.06 57.58M754.94 54.42L738.06 57.58M772.94 54.42L755.06 57.58M790.94 54.43L772.06 57.57M681.94 73.42L664.06 76.58M700.94 73.43L682.06 76.57M718.94 73.43L700.06 76.57M736.94 73.42L719.06 76.58M754.94 73.43L736.06 76.57M772.94 73.43L754.06 76.57M790.94 73.42L773.06 76.58M663.94 91.41L648.06 94.59M700.94 91.41L681.06 95.59M718.94 91.41L699.06 95.59M699.06 95.40L708.94 97.60M736.94 91.40L718.06 95.60M754.94 91.40L736.06 95.60M681.94 109.40L663.06 113.60M700.94 109.41L681.06 113.59M681.06 113.40L690.94 115.60M718.94 109.40L700.06 113.60M736.94 109.40L718.06 113.60M754.94 109.40L736.06 113.60M644.06 132.40L653.94 134.60M700.94 127.40L682.06 131.60M718.94 127.40L700.06 131.60M736.94 127.40L718.06 131.60M628.05 150.44L635.95 151.56M644.06 150.40L653.94 152.60M700.94 145.40L682.06 149.60M718.94 145.40L700.06 149.60M628.05 168.44L636.95 169.56M700.94 163.40L682.06 167.60M775.05 167.44L782.95 168.56M627.94 182.41L612.06 185.59M628.05 186.44L636.95 187.56M646.05 186.44L654.95 187.56M681.94 182.42L664.06 185.58M700.94 182.42L683.06 185.58M718.94 182.42L701.06 185.58M736.94 182.42L720.06 185.58M754.94 182.42L738.06 185.58M772.94 182.41L757.06 185.59M757.05 185.44L764.95 186.56M790.95 182.44L776.05 184.56M593.05 204.44L600.95 205.56M611.05 204.44L618.95 205.56M629.05 204.44L636.95 205.56M663.94 200.42L647.06 203.58M681.94 200.42L665.06 203.58M700.94 200.42L684.06 203.58M718.94 200.42L702.06 203.58M736.94 200.42L720.06 203.58M754.94 200.41L739.06 203.59M772.94 200.41L758.06 203.59M758.06 203.43L764.94 204.57M790.94 200.43L777.06 202.57M576.05 222.44L583.95 223.56M611.05 222.44L618.95 223.56M629.05 222.44L636.95 223.56M663.94 218.41L648.06 221.59M681.94 218.41L666.06 221.59M700.94 218.42L684.06 221.58M718.94 218.41L703.06 221.59M736.94 218.41L721.06 221.59M754.94 218.41L740.06 221.59M740.06 221.43L746.94 222.57M759.06 221.43L765.94 222.57M790.94 218.43L778.06 220.57M558.05 240.44L565.95 241.56M574.05 241.44L581.95 242.56M645.94 236.41L630.06 239.59M663.94 236.41L649.06 239.59M681.94 236.41L667.06 239.59M700.94 236.41L686.06 239.59M718.94 236.41L704.06 239.59M704.06 239.43L710.94 240.57M723.06 239.43L729.94 240.57M742.06 239.41L747.94 240.59M772.94 236.43L760.06 238.57M790.94 236.43L778.06 238.57M542.06 258.41L547.94 259.59M555.05 260.44L563.95 261.56M574.05 259.44L582.95 260.56M630.05 258.44L637.95 259.56M687.06 257.41L692.94 258.59M705.06 257.43L711.94 258.57M724.06 257.41L729.94 258.59M742.06 257.41L747.94 258.59M761.06 257.41L766.94 258.59M779.06 257.41L784.94 258.59M205.50 280.95L205.50 276.05M539.05 278.44L546.95 279.56M556.05 278.44L564.95 279.56M593.05 277.44L600.95 278.56M630.05 276.44L637.95 277.56M663.94 272.41L648.06 275.59M705.06 275.43L711.94 276.57M724.06 275.41L729.94 276.59M754.94 272.42L743.06 274.58M772.94 272.42L761.06 274.58M790.94 272.42L779.06 274.58M209.56 291.05L207.44 306.95M227.54 291.05L226.46 303.95M238.41 299.94L239.59 294.06M522.05 296.50L529.95 296.50M539.05 296.44L546.95 297.56M557.05 296.44L564.95 297.56M575.05 295.44L582.95 296.56M594.05 295.44L601.95 296.56M627.94 291.41L612.06 294.59M645.94 291.41L631.06 294.59M663.94 291.41L649.06 294.59M649.06 294.43L655.94 295.57M681.94 291.43L668.06 293.57M700.95 291.44L686.05 293.56M718.94 291.43L705.06 293.57M736.95 291.46L724.05 292.54M754.95 291.46L743.05 292.54M772.95 291.46L761.05 292.54M790.95 291.46L780.05 292.54M219.43 319.94L220.57 313.06M247.06 322.60L256.94 320.40M265.06 321.60L274.94 319.40M284.05 320.56L292.95 319.44M305.05 317.50L312.95 317.50M485.05 315.44L492.95 316.56M503.05 315.50L510.95 315.50M521.05 315.50L528.95 315.50M540.06 314.43L546.94 315.57M558.06 314.43L564.94 315.57M576.05 313.44L583.95 314.56M595.06 313.43L601.94 314.57M627.94 309.41L613.06 312.59M645.94 309.41L631.06 312.59M663.94 309.41L649.06 312.59M681.94 309.43L668.06 311.57M700.94 309.43L687.06 311.57M718.94 309.43L706.06 311.57M706.06 311.41L711.94 312.59M736.95 309.46L724.05 310.54M754.95 309.46L743.05 310.54M772.95 309.46L762.05 310.54M790.95 309.46L780.05 310.54M247.06 339.60L256.94 337.40M265.05 338.55L274.95 337.45M284.05 338.56L292.95 337.44M304.05 336.56L311.95 335.44M323.05 335.50L330.95 335.50M340.05 336.56L347.95 335.44M355.05 338.55L364.95 337.45M373.05 338.55L382.95 337.45M392.05 338.55L401.95 337.45M412.05 336.56L420.95 335.44M430.05 336.56L438.95 335.44M447.05 336.50L455.95 336.50M463.05 337.55L472.95 336.45M482.05 335.50L491.95 335.50M503.05 334.50L510.95 334.50M521.05 333.44L528.95 334.56M539.05 332.44L546.95 333.56M558.06 332.43L564.94 333.57M595.06 331.43L601.94 332.57M613.06 331.43L619.94 332.57M645.94 327.41L631.06 330.59M681.94 327.43L669.06 329.57M700.94 327.43L688.06 329.57M718.94 327.43L706.06 329.57M706.06 329.41L711.94 330.59M736.95 327.46L724.05 328.54M754.95 327.46L743.05 328.54M772.95 327.46L761.05 328.54M790.95 327.46L779.05 328.54M284.05 356.56L292.95 355.44M302.05 355.50L310.95 355.50M320.05 355.50L328.95 355.50M337.05 356.55L346.95 355.45M354.05 357.54L364.95 356.46M372.05 357.54L382.95 356.46M390.05 356.50L400.95 356.50M409.05 356.55L418.95 355.45M428.05 355.50L437.95 355.50M446.05 354.50L455.95 354.50M464.05 354.50L473.95 354.50M482.05 353.50L491.95 353.50M501.05 352.44L509.95 353.56M521.05 351.44L528.95 352.56M539.05 350.44L546.95 351.56M557.05 350.44L564.95 351.56M595.06 349.43L601.94 350.57M650.06 348.43L656.94 349.57M681.94 345.43L669.06 347.57M700.94 345.43L687.06 347.57M718.94 345.43L706.06 347.57M706.06 347.41L711.94 348.59M736.95 345.46L725.05 346.54M754.95 345.46L743.05 346.54M772.95 345.46L761.05 346.54M790.95 345.46L779.05 346.54M284.05 374.56L292.95 373.44M302.05 374.56L310.95 373.44M320.05 374.56L328.95 373.44M337.05 374.55L346.95 373.45M354.05 375.55L363.95 374.45M371.05 375.54L381.95 374.46M390.05 374.50L400.95 374.50M409.05 374.55L418.95 373.45M428.05 373.50L437.95 373.50M446.05 372.50L455.95 372.50M464.05 372.50L473.95 372.50M483.05 371.50L491.95 371.50M501.05 370.44L509.95 371.56M520.05 369.44L528.95 370.56M539.05 368.44L546.95 369.56M557.05 368.44L564.95 369.56M577.06 367.43L583.94 368.57M632.06 366.43L638.94 367.57M651.06 366.41L656.94 367.59M681.94 363.42L670.06 365.58M700.94 363.43L688.06 365.57M718.94 363.43L706.06 365.57M736.95 363.46L725.05 364.54M754.95 363.46L743.05 364.54M772.95 363.46L761.05 364.54M790.95 363.46L779.05 364.54M264.05 393.55L273.95 392.45M281.05 393.54L291.95 392.46M301.05 392.55L310.95 391.45M319.05 392.55L328.95 391.45M337.05 392.55L346.95 391.45M354.05 392.50L363.95 392.50M372.05 392.50L381.95 392.50M390.05 392.54L400.95 391.46M409.05 391.50L418.95 391.50M428.05 390.50L437.95 390.50M446.05 390.50L455.95 390.50M464.05 389.45L473.95 390.55M483.05 389.50L491.95 389.50M501.05 388.44L509.95 389.56M520.05 387.44L528.95 388.56M539.05 386.44L546.95 387.56M558.06 386.43L564.94 387.57M578.06 385.43L584.94 386.57M609.94 382.43L597.06 384.57M627.94 382.43L615.06 384.57M615.06 384.41L620.94 385.59M645.94 382.42L634.06 384.58M634.06 384.41L639.94 385.59M663.95 382.46L652.05 383.54M681.95 382.46L671.05 383.54M700.95 382.46L689.05 383.54M689.06 383.41L694.94 384.59M718.95 382.46L707.05 383.54M707.06 383.41L712.94 384.59M736.95 382.50L726.05 382.50M754.95 382.50L744.05 382.50M772.95 382.50L762.05 382.50M790.95 382.50L780.05 382.50M264.05 411.55L273.95 410.45M282.05 411.55L291.95 410.45M301.05 410.55L310.95 409.45M319.05 410.55L328.95 409.45M337.05 410.55L346.95 409.45M354.05 410.50L363.95 410.50M372.05 410.50L382.95 410.50M391.05 409.50L400.95 409.50M410.05 409.50L418.95 409.50M428.05 408.50L437.95 408.50M447.05 407.44L455.95 408.56M465.05 407.50L473.95 407.50M483.05 406.44L491.95 407.56M502.05 405.44L509.95 406.56M520.05 405.44L528.95 406.56M539.05 404.44L546.95 405.56M578.06 403.43L584.94 404.57M609.94 400.43L597.06 402.57M627.94 400.42L616.06 402.58M616.06 402.41L621.94 403.59M645.94 400.41L635.06 402.59M663.95 400.45L654.05 401.55M681.95 400.45L672.05 401.55M700.95 400.46L690.05 401.54M718.95 400.46L708.05 401.54M736.95 400.46L726.05 401.54M754.95 400.50L745.05 400.50M772.95 400.50L763.05 400.50M790.95 400.50L781.05 400.50M283.05 428.55L292.95 427.45M301.05 428.55L310.95 427.45M319.05 428.55L328.95 427.45M337.05 428.55L346.95 427.45M354.05 428.50L363.95 428.50M372.05 428.55L381.95 427.45M391.05 427.50L400.95 427.50M410.05 426.50L418.95 426.50M429.05 426.50L437.95 426.50M447.05 425.50L455.95 425.50M465.05 424.44L473.95 425.56M483.05 424.44L491.95 425.56M502.05 423.44L510.95 424.56M540.06 422.43L546.94 423.57M577.06 421.43L583.94 422.57M609.94 418.43L597.06 420.57M627.94 418.42L616.06 420.58M616.06 420.41L621.94 421.59M645.94 418.41L635.06 420.59M635.06 420.41L640.94 421.59M663.95 418.45L654.05 419.55M681.95 418.44L673.05 419.56M700.95 418.45L691.05 419.55M718.95 418.45L709.05 419.55M736.95 418.45L727.05 419.55M754.95 418.50L745.05 418.50M772.95 418.50L763.05 418.50M790.95 418.50L781.05 418.50M319.05 445.50L328.95 445.50M336.05 446.50L345.95 446.50M354.05 446.50L363.95 446.50M372.05 445.50L382.95 445.50M391.05 445.50L400.95 445.50M409.05 444.50L418.95 444.50M429.05 443.44L437.95 444.56M447.05 443.50L455.95 443.50M466.05 442.44L473.95 443.56M484.05 441.44L491.95 442.56M503.05 441.44L510.95 442.56M522.06 440.43L528.94 441.57M540.05 440.44L547.95 441.56M578.06 439.41L583.94 440.59M609.94 436.43L597.06 438.57M627.94 436.42L616.06 438.58M616.06 438.41L621.94 439.59M645.94 436.41L635.06 438.59M635.06 438.41L640.94 439.59M681.95 436.44L674.05 437.56M700.95 436.44L692.05 437.56M718.95 436.44L710.05 437.56M736.95 436.44L728.05 437.56M754.95 436.50L745.05 436.50M772.95 436.50L764.05 436.50M790.95 436.50L782.05 436.50M319.05 463.50L328.95 463.50M336.05 464.55L345.95 463.45M354.05 464.50L363.95 464.50M373.05 463.50L381.95 463.50M391.05 462.45L400.95 463.55M410.05 462.50L418.95 462.50M429.05 461.44L437.95 462.56M447.05 460.44L455.95 461.56M466.05 459.44L473.95 460.56M485.05 459.44L492.95 460.56M504.06 458.43L510.94 459.57M523.06 458.43L529.94 459.57M560.06 457.43L566.94 458.57M579.06 457.41L584.94 458.59M609.94 454.42L598.06 456.58M627.94 454.41L617.06 456.59M645.94 454.40L636.06 456.60M681.95 454.44L674.05 455.56M700.95 454.44L692.05 455.56M718.95 454.44L710.05 455.56M736.95 454.44L728.05 455.56M754.95 454.44L746.05 455.56M772.95 454.50L764.05 454.50M790.95 454.50L782.05 454.50M319.05 481.50L327.95 481.50M337.05 481.50L345.95 481.50M355.05 481.50L363.95 481.50M373.05 480.45L382.95 481.55M391.05 480.50L400.95 480.50M410.05 479.44L418.95 480.56M429.05 478.44L437.95 479.56M448.05 478.44L455.95 479.56M466.05 477.44L473.95 478.56M485.06 477.43L491.94 478.57M503.05 476.44L510.95 477.56M522.06 476.43L528.94 477.57M579.06 475.41L584.94 476.59M598.06 475.41L603.94 476.59M616.06 475.41L621.94 476.59M645.94 472.41L635.06 474.59M663.94 472.40L654.06 474.60M681.94 472.40L672.06 474.60M700.95 472.44L692.05 473.56M718.95 472.44L710.05 473.56M736.95 472.44L728.05 473.56M754.95 472.44L746.05 473.56M772.95 472.44L764.05 473.56M790.95 472.50L782.05 472.50M303.05 499.50L310.95 499.50M320.05 499.50L328.95 499.50M338.05 499.50L346.95 499.50M356.05 498.50L364.95 498.50M375.05 498.50L383.95 498.50M392.05 498.50L400.95 498.50M411.05 497.44L419.95 498.56M429.05 497.44L437.95 498.56M448.05 496.44L455.95 497.56M466.05 496.44L473.95 497.56M484.05 495.44L491.95 496.56M503.05 495.44L510.95 496.56M536.94 491.41L522.06 494.59M554.94 491.41L540.06 494.59M540.05 494.44L547.95 495.56M559.06 494.43L565.94 495.57M577.06 494.43L583.94 495.57M609.95 491.50L595.05 491.50M627.95 491.50L613.05 491.50M645.95 491.50L632.05 491.50M663.95 491.50L651.05 491.50M681.95 491.50L669.05 491.50M700.95 491.50L688.05 491.50M718.95 491.50L706.05 491.50M736.95 491.50L725.05 491.50M754.95 491.50L744.05 491.50M772.95 491.50L763.05 491.50M790.95 491.50L782.05 491.50M288.06 516.57L294.94 515.43M304.05 517.56L311.95 516.44M321.05 517.56L329.95 516.44M339.05 516.50L347.95 516.50M358.05 516.50L365.95 516.50M376.05 516.50L383.95 516.50M393.05 516.50L401.95 516.50M412.05 516.50L419.95 516.50M430.05 515.44L437.95 516.56M448.05 515.50L455.95 515.50M466.05 514.44L474.95 515.56M485.05 514.44L492.95 515.56M503.05 513.44L510.95 514.56M522.05 513.44L529.95 514.56M560.06 512.41L565.94 513.59M578.06 512.43L584.94 513.57M609.95 509.50L596.05 509.50M627.95 509.50L615.05 509.50M645.95 509.50L633.05 509.50M663.95 509.50L652.05 509.50M681.95 509.54L671.05 508.46M700.95 509.54L689.05 508.46M718.94 509.59L708.06 507.41M736.94 509.60L727.06 507.40M765.05 506.50L769.95 506.50M784.05 505.50L787.95 505.50M267.05 536.56L275.95 535.44M286.05 536.56L293.95 535.44M304.05 535.50L311.95 535.50M322.05 535.56L329.95 534.44M341.05 534.50L347.95 534.50M359.05 534.50L366.95 534.50M377.05 534.50L384.95 534.50M394.05 534.50L401.95 534.50M413.05 534.50L420.95 534.50M431.05 533.44L438.95 534.56M449.05 533.50L456.95 533.50M467.05 532.44L474.95 533.56M486.06 532.43L492.94 533.57M505.06 531.43L511.94 532.57M524.06 531.41L529.94 532.59M542.06 530.43L548.94 531.57M561.06 530.41L566.94 531.59M580.06 530.41L585.94 531.59M609.95 527.46L598.05 528.54M627.95 527.46L617.05 528.54M645.95 527.45L636.05 528.55M663.95 527.44L655.05 528.56M681.95 527.44L674.05 528.56M700.95 527.50L692.05 527.50M718.95 527.56L711.05 526.44M736.95 527.56L729.05 526.44M766.05 524.50L769.95 524.50M785.05 523.50L788.95 523.50M253.06 553.59L258.94 552.41M269.05 554.56L276.95 553.44M286.05 554.56L293.95 553.44M304.05 554.56L311.95 553.44M323.05 553.56L330.95 552.44M341.05 553.56L348.95 552.44M360.06 552.57L366.94 551.43M378.05 551.50L384.95 551.50M396.05 552.50L402.95 552.50M414.05 552.50L420.95 552.50M432.06 551.43L438.94 552.57M450.05 551.50L457.95 551.50M468.05 551.50L475.95 551.50M487.06 550.43L493.94 551.57M506.06 549.43L512.94 550.57M525.06 549.41L530.94 550.59M543.05 549.50L548.95 549.50M562.06 548.41L567.94 549.59M599.05 548.50L604.95 548.50M627.94 545.40L618.06 547.60M681.95 545.44L674.05 546.56M700.95 545.50L692.05 545.50M718.95 545.56L710.05 544.44M729.05 543.50L732.95 543.50M748.05 542.50L751.95 542.50M767.05 542.50L770.95 542.50M786.05 542.50L788.95 542.50M234.06 572.57L240.94 571.43M250.05 573.56L257.95 572.44M268.05 573.56L275.95 572.44M286.05 572.56L294.95 571.44M305.05 572.56L312.95 571.44M323.05 571.50L330.95 571.50M342.06 571.57L348.94 570.43M361.06 570.57L367.94 569.43M380.05 569.50L385.95 569.50M397.05 569.50L403.95 569.50M415.05 569.50L421.95 569.50M433.06 570.57L439.94 569.43M451.05 569.50L457.95 569.50M470.05 569.50L476.95 569.50M488.05 569.50L494.95 569.50M507.05 568.50L512.95 568.50M526.05 568.50L531.95 568.50M544.06 567.41L549.94 568.59M563.05 567.50L567.95 567.50M582.05 567.50L586.95 567.50M600.05 567.50L604.95 567.50M619.05 567.50L623.95 567.50M637.05 566.50L641.95 566.50M700.95 563.45L691.05 564.55M718.95 563.55L709.05 562.45M768.05 561.50L770.95 561.50M212.06 594.60L221.94 592.40M268.05 591.56L276.95 590.44M287.05 591.56L294.95 590.44M305.05 590.56L312.95 589.44M324.05 589.50L330.95 589.50M342.05 589.56L349.95 588.44M361.05 588.50L367.95 588.50M380.06 588.59L385.94 587.41M399.06 588.59L404.94 587.41M417.06 588.59L422.94 587.41M435.05 588.50L440.95 588.50M453.06 589.57L459.94 588.43M472.06 589.59L477.94 588.41M490.06 588.59L495.94 587.41M509.06 588.59L514.94 587.41M527.05 587.50L532.95 587.50M583.05 586.50L587.95 586.50M601.05 585.50L605.95 585.50M619.05 585.50L623.95 585.50M655.05 584.50L659.95 584.50M681.95 581.44L673.05 582.56M700.95 581.50L691.05 581.50M718.95 581.55L709.05 580.45M754.94 581.57L748.06 580.43M768.05 579.50L770.95 579.50M787.05 580.50L788.95 580.50M193.06 613.60L202.94 611.40M250.05 610.56L257.95 609.44M287.05 609.56L294.95 608.44M306.06 608.57L312.94 607.43M324.05 608.56L331.95 607.44M343.06 607.57L349.94 606.43M362.05 606.50L367.95 606.50M381.06 606.59L386.94 605.41M400.06 607.59L405.94 606.41M419.06 607.59L424.94 606.41M438.41 608.94L439.59 603.06M528.06 606.59L533.94 605.41M583.05 603.50L587.95 603.50M645.95 600.44L637.05 601.56M663.95 600.50L656.05 600.50M681.95 600.50L674.05 600.50M700.95 600.50L692.05 600.50M718.95 600.56L710.05 599.44M736.95 600.56L729.05 599.44M749.05 598.50L751.95 598.50M768.05 598.50L770.95 598.50M787.05 598.50L789.95 598.50M29.06 632.60L38.94 630.40M138.06 632.60L147.94 630.40M156.06 632.59L166.94 630.41M175.06 631.60L184.94 629.40M194.06 630.60L203.94 628.40M250.05 628.56L258.95 627.44M287.05 627.56L294.95 626.44M306.05 626.56L313.95 625.44M325.06 626.57L331.94 625.43M344.06 625.59L349.94 624.41M362.05 624.50L368.95 624.50M381.06 624.59L386.94 623.41M438.41 626.94L439.59 621.06M456.41 626.94L457.59 621.06M474.41 627.94L475.59 622.06M492.41 627.94L493.59 622.06M510.06 625.59L515.94 624.41M547.05 623.50L551.95 623.50M565.05 622.50L569.95 622.50M584.05 621.50L587.95 621.50M645.95 618.44L638.05 619.56M663.95 618.50L656.05 618.50M681.95 618.50L674.05 618.50M700.95 618.50L692.05 618.50M718.95 618.56L710.05 617.44M736.94 618.57L730.06 617.43M749.05 616.50L752.95 616.50M768.05 616.50L770.95 616.50M787.05 616.50L789.95 616.50M10.06 651.59L20.94 649.41M138.06 650.59L148.94 648.41M157.06 649.60L166.94 647.40M251.05 646.56L258.95 645.44M288.06 645.57L294.94 644.43M307.06 644.57L313.94 643.43M325.06 643.57L331.94 642.43M344.05 642.50L349.95 642.50M362.06 642.57L368.94 641.43M382.05 641.50L386.95 641.50M419.05 640.50L423.95 640.50M438.05 641.50L442.95 641.50M474.41 644.94L475.59 639.06M492.41 644.94L493.59 639.06M547.05 641.50L551.95 641.50M565.05 640.50L569.95 640.50M584.05 639.50L587.95 639.50M602.05 638.50L605.95 638.50M627.95 636.44L620.05 637.56M645.95 636.44L638.05 637.56M663.95 636.50L657.05 636.50M681.95 636.50L675.05 636.50M700.95 636.50L694.05 636.50M718.95 636.50L712.05 636.50M736.94 636.59L731.06 635.41M751.05 634.50L752.95 634.50M751.50 634.05L751.50 635.95M769.05 634.50L771.95 634.50M788.05 634.50L789.95 634.50M788.50 634.05L788.50 635.95M64.06 669.59L74.94 667.41M83.06 669.59L93.94 667.41M101.06 669.59L111.94 667.41M139.06 668.60L148.94 666.40M251.05 664.56L258.95 663.44M269.05 663.56L276.95 662.44M288.06 663.57L294.94 662.43M307.05 661.50L313.95 661.50M325.05 660.50L331.95 660.50M344.05 659.50L349.95 659.50M362.06 658.41L367.94 659.59M409.95 654.46L399.05 655.54M427.95 654.50L419.05 654.50M492.41 662.94L493.59 657.06M511.41 662.94L512.59 657.06M565.05 658.50L569.95 658.50M584.05 657.50L587.95 657.50M603.05 656.50L605.95 656.50M621.05 656.50L624.95 656.50M645.95 654.50L639.05 654.50M663.95 654.50L657.05 654.50M681.95 654.50L676.05 654.50M700.95 654.50L694.05 654.50M718.95 654.50L713.05 654.50M736.94 654.59L731.06 653.41M731.05 653.50L733.95 653.50M751.05 652.50L753.95 652.50M769.05 652.50L771.95 652.50M788.05 652.50L789.95 652.50M788.50 652.05L788.50 654.95M83.06 687.59L93.94 685.41M101.06 687.59L111.94 685.41M139.06 686.60L148.94 684.40M251.05 682.56L258.95 681.44M269.05 681.56L276.95 680.44M288.06 681.57L294.94 680.43M307.05 679.50L312.95 679.50M325.05 678.50L330.95 678.50M343.05 677.50L349.95 677.50M362.06 675.41L367.94 676.59M390.94 672.40L381.06 674.60M409.95 672.50L399.05 672.50M427.95 672.50L419.05 672.50M477.50 681.95L477.50 677.05M493.41 681.94L494.59 676.06M511.41 681.94L512.59 676.06M566.05 677.50L570.95 677.50M585.05 676.50L588.95 676.50M603.05 675.50L606.95 675.50M621.05 674.50L624.95 674.50M639.05 674.50L642.95 674.50M663.94 672.41L658.06 673.59M681.95 672.50L676.05 672.50M700.95 672.50L695.05 672.50M718.95 672.50L713.05 672.50M736.95 672.50L731.05 672.50M770.05 671.50L771.95 671.50M770.50 671.05L770.50 672.95M788.05 671.50L789.95 671.50M101.06 705.59L111.94 703.41M120.06 705.60L129.94 703.40M139.06 704.60L148.94 702.40M251.05 700.56L258.95 699.44M269.05 699.56L276.95 698.44M288.05 698.50L294.95 698.50M306.05 697.50L312.95 697.50M325.06 695.41L330.94 696.59M344.06 694.41L349.94 695.59M362.06 693.41L367.94 694.59M390.94 690.40L381.06 692.60M409.95 690.50L399.05 690.50M427.95 690.50L418.05 690.50M445.95 690.44L437.05 691.56M457.05 695.50L461.95 695.50M511.41 699.94L512.59 694.06M585.05 694.50L588.95 694.50M603.05 693.50L606.95 693.50M622.05 693.50L624.95 693.50M640.05 693.50L642.95 693.50M658.05 692.50L661.95 692.50M700.94 690.41L695.06 691.59M695.05 691.50L697.95 691.50M718.95 690.50L714.05 690.50M732.05 689.50L734.95 689.50M752.05 689.50L753.95 689.50M752.50 689.05L752.50 690.95M770.05 689.50L771.95 689.50M788.05 689.50L789.95 689.50M46.06 724.59L56.94 722.41M120.06 723.60L129.94 721.40M139.06 722.60L148.94 720.40M251.05 718.56L258.95 717.44M288.06 717.57L294.94 716.43M307.05 715.50L313.95 715.50M326.05 714.50L331.95 714.50M345.05 713.50L349.95 713.50M390.95 709.46L380.05 710.54M380.06 710.41L385.94 711.59M409.95 709.50L398.05 709.50M427.95 709.50L417.05 709.50M445.95 709.50L436.05 709.50M604.05 712.50L607.95 712.50M623.50 712.95L623.50 710.05M623.05 712.50L625.95 712.50M640.05 711.50L643.95 711.50M659.05 711.50L661.95 711.50M681.95 709.50L678.05 709.50M700.95 709.50L696.05 709.50M714.05 708.50L716.95 708.50M733.05 707.50L734.95 707.50M752.05 707.50L753.95 707.50M770.05 708.50L771.95 708.50M770.05 708.50L771.95 708.50M789.05 708.50L790.95 708.50M789.0 708.5h.9M46.06 742.59L56.94 740.41M120.06 741.60L129.94 739.40M139.06 740.60L148.94 738.40M270.06 736.57L276.94 735.43M289.06 735.57L295.94 734.43M308.06 734.59L313.94 733.41M327.06 733.59L332.94 732.41M345.05 732.50L350.95 732.50M363.05 731.50L368.95 731.50M380.06 730.41L385.94 731.59M398.06 730.41L403.94 731.59M427.94 727.41L417.06 729.59M445.95 727.45L436.05 728.55M474.05 731.50L478.95 731.50M550.50 734.95L550.50 730.05M568.50 733.95L568.50 729.05M623.05 730.50L625.95 730.50M641.05 730.50L643.95 730.50M660.05 729.50L661.95 729.50M681.95 727.50L678.05 727.50M700.95 727.50L696.05 727.50M714.05 726.50L716.95 726.50M733.05 725.50L735.95 725.50M752.05 726.50L753.95 726.50M770.05 726.50L771.95 726.50M789.05 726.50L790.95 726.50M789.50 726.05L789.50 727.95M-8.94 760.59L1.94 758.41M28.06 760.59L38.94 758.41M46.06 760.59L56.94 758.41M120.06 759.60L129.94 757.40M139.06 758.60L148.94 756.40M233.05 755.56L240.95 754.44M270.06 754.57L276.94 753.43M289.06 753.57L295.94 752.43M308.06 752.59L313.94 751.41M327.06 752.59L332.94 751.41M346.05 751.50L350.95 751.50M381.05 750.50L386.95 750.50M399.05 750.50L404.95 750.50M417.06 749.41L422.94 750.59M436.05 749.50L440.95 749.50M474.05 748.50L477.95 748.50M493.05 749.50L496.95 749.50M513.50 751.95L513.50 748.05M532.50 752.95L532.50 748.05M569.50 751.95L569.50 748.05M587.50 750.95L587.50 747.05M624.50 749.95L624.50 747.05M641.05 748.50L643.95 748.50M660.05 747.50L662.95 747.50M678.05 746.50L680.95 746.50M700.95 745.50L696.05 745.50M696.05 745.50L698.95 745.50M715.05 744.50L716.95 744.50M733.05 744.50L735.95 744.50M752.05 744.50L753.95 744.50M771.0 744.5h.9M771.50 744.05L771.50 745.95M789.05 744.50L790.95 744.50M789.50 744.05L789.50 745.95M-7.94 778.59L2.94 776.41M28.06 778.59L38.94 776.41M46.06 778.59L56.94 776.41M65.06 778.60L74.94 776.40M120.06 777.60L129.94 775.40M270.05 772.56L277.95 771.44M290.06 771.59L295.94 770.41M328.06 770.59L333.94 769.41M365.41 771.94L366.59 766.06M400.06 770.59L405.94 769.41M418.06 769.59L423.94 768.41M437.05 768.50L441.95 768.50M455.05 767.50L459.95 767.50M475.05 767.50L478.95 767.50M493.05 767.50L497.95 767.50M532.50 769.95L532.50 766.05M551.50 769.95L551.50 766.05M569.50 768.95L569.50 766.05M587.50 768.95L587.50 765.05M606.50 767.95L606.50 765.05M624.50 767.95L624.50 765.05M641.05 766.50L643.95 766.50M660.05 765.50L662.95 765.50M678.05 764.50L680.95 764.50M700.95 763.50L696.05 763.50M696.05 763.50L698.95 763.50M718.95 763.50L715.05 763.50M715.05 763.50L716.95 763.50M733.05 762.50L735.95 762.50M752.05 762.50L753.95 762.50M771.0 762.5h.9M771.50 762.05L771.50 763.95M789.05 762.50L790.95 762.50M789.50 762.05L789.50 763.95"/>
</g>
<g fill="none" stroke="#000" clip-path="url(#cp)" shape-rendering="crispEdges">
<path stroke-width="0.727" d="M214.82 99.18L212.18 101.82M191.18 286.18L196.82 291.82M316.18 422.18L320.82 426.82M217.18 266.18L225.82 274.82M225.18 274.18L232.82 281.82M236.18 286.18L239.82 289.82M420.18 312.18L426.82 318.82M510.18 299.82L517.82 292.18M535.18 275.82L540.82 270.18M540.18 270.82L549.82 261.18M600.18 210.82L610.82 200.18M410.18 30.18L417.82 37.82M537.18 121.18L542.82 126.82M660.18 75.18L662.82 77.82M650.82 102.18L645.18 107.82M650.18 115.82L654.82 111.18M737.18 44.82L739.82 42.18M703.82 81.82L700.18 78.18M700.82 78.18L695.18 83.82M695.82 83.18L690.18 88.82M677.82 96.82L675.18 94.18M675.18 94.18L677.82 96.82"/>
<path stroke-width="0.776" d="M195.21 256.15L200.79 262.85M196.21 291.15L201.79 297.85M277.20 340.16L285.80 349.84M289.84 361.21L282.16 367.79M280.17 410.20L290.83 419.80M317.80 474.16L310.20 482.84M280.83 517.20L270.17 526.80M270.80 526.16L263.20 534.84M200.21 247.16L206.79 254.84M211.15 261.21L217.85 266.79M294.15 291.21L300.85 296.79M590.17 219.80L600.83 210.20M644.21 132.84L650.79 125.16M720.15 75.79L737.85 61.21M737.21 61.85L752.79 43.15M752.22 43.85L765.78 27.15M583.84 162.20L575.16 169.80M575.85 169.21L569.15 174.79M560.85 183.21L554.15 188.79M722.79 65.15L717.21 71.85"/>
<path stroke-width="0.825" d="M232.76 55.13L227.24 62.87M224.23 70.14L227.77 74.86M216.77 116.14L213.23 120.86M213.24 120.13L220.76 130.87M215.76 182.13L210.24 189.87M199.85 270.22L194.15 274.78M191.23 277.14L194.77 281.86M201.14 297.22L210.86 304.78M267.15 332.22L277.85 340.78M285.24 349.13L290.76 356.87M282.77 367.14L276.23 375.86M273.24 400.13L280.76 410.87M323.77 466.14L317.23 474.86M310.78 482.15L302.22 492.85M296.77 502.14L290.23 510.86M290.87 510.24L280.13 517.76M261.78 550.15L257.22 555.85M218.24 167.13L223.76 174.87M222.76 182.13L217.24 189.87M206.24 254.13L211.76 261.87M232.22 281.15L236.78 286.85M344.15 315.22L349.85 319.78M445.22 320.15L449.78 325.85M580.13 226.76L590.87 219.24M610.22 200.86L617.78 191.14M650.13 125.76L657.87 120.24M667.15 115.78L677.85 107.22M677.13 107.76L690.87 98.24M690.14 98.77L705.86 87.23M705.15 87.78L720.85 75.22M390.15 35.78L395.85 31.22M475.13 72.24L482.87 77.76M482.24 77.14L490.76 88.86M490.15 88.22L500.85 96.78M500.13 96.24L507.87 101.76M525.22 106.15L529.78 111.85M544.23 134.14L550.77 142.86M550.13 142.24L560.87 149.76M580.23 158.14L583.77 162.86M556.15 232.22L561.85 236.78M695.86 44.23L691.14 47.77M654.23 111.14L657.77 115.86M705.77 71.14L702.23 75.86"/>
<path stroke-width="0.873" d="M212.25 101.13L216.75 107.87M220.75 130.13L216.25 136.87M216.75 136.13L212.25 142.87M197.72 197.11L192.28 206.89M194.73 281.11L191.27 286.89M210.13 304.25L219.87 310.75M276.72 375.11L272.28 382.89M290.11 419.27L300.89 425.73M302.73 492.11L296.27 502.89M257.89 555.27L247.11 561.73M247.89 561.27L237.11 567.73M237.89 567.27L225.11 574.73M202.74 202.12L197.26 210.88M196.28 240.11L200.72 247.89M286.12 286.26L294.88 291.74M300.11 296.27L310.89 302.73M355.11 319.27L360.89 322.73M485.11 311.72L492.89 307.28M494.13 301.75L497.87 299.25M497.75 299.87L495.25 296.13M505.11 302.73L510.89 299.27M517.11 292.73L527.89 286.27M556.26 244.88L561.74 236.12M570.11 232.73L580.89 226.27M617.28 191.89L622.72 182.11M382.12 40.74L390.88 35.26M417.28 37.11L421.72 44.89M421.25 44.13L427.75 53.87M444.12 59.26L452.88 64.74M572.12 153.26L580.88 158.74M668.75 59.13L664.25 65.87M658.75 81.87L656.25 78.13M664.87 82.25L655.13 88.75M690.87 88.25L684.13 92.75M684.89 92.28L677.11 96.72M667.89 99.73L662.11 96.27"/>
<path stroke-width="0.922" d="M241.90 28.30L235.10 31.70M222.90 95.30L214.10 99.70M214.30 170.10L217.70 176.90M204.91 190.68L197.09 187.32M219.09 310.31L230.91 315.69M240.10 319.30L250.90 324.70M250.10 324.30L260.90 329.70M260.09 329.32L267.91 332.68M310.10 425.70L316.90 422.30M365.10 320.70L371.90 317.30M371.10 317.70L377.90 314.30M449.10 325.70L455.90 322.30M492.10 307.70L496.90 305.30M496.70 305.90L494.30 301.10M527.10 286.70L535.90 282.30M535.70 282.90L534.30 280.10M549.30 261.90L552.70 255.10M561.09 236.68L570.91 232.32M622.30 182.90L627.70 172.10M639.30 142.90L644.70 132.10M657.10 120.70L667.90 115.30M519.10 103.30L525.90 106.70M568.90 179.30L560.10 183.70M552.10 230.30L556.90 232.70M700.30 34.10L702.70 38.90M656.30 78.90L657.70 76.10M647.30 96.10L650.70 102.90M739.70 42.90L738.30 40.10M738.90 40.70L736.10 39.30M736.90 39.30L732.10 41.70M717.91 71.32L710.09 74.68M664.68 104.09L661.32 111.91"/>
<path stroke-width="0.971" d="M227.66 62.08L224.34 70.92M225.63 85.07L222.37 95.93M217.64 176.07L215.36 182.93M197.64 187.07L196.36 190.93M192.61 206.06L190.39 214.94M189.62 220.07L187.38 227.93M187.37 227.07L191.63 240.93M191.33 240.08L195.67 250.92M185.07 275.36L191.93 277.64M230.08 315.33L240.92 319.67M300.08 425.33L305.92 427.67M305.08 427.67L310.92 425.33M263.66 534.08L260.34 542.92M225.93 574.37L215.07 577.63M215.93 577.38L204.07 580.62M204.93 580.38L186.07 585.62M168.93 589.36L150.07 595.64M111.93 601.38L96.07 605.62M212.36 142.07L217.64 157.93M202.64 189.07L201.36 192.93M197.62 224.07L195.38 231.93M239.07 289.64L245.93 287.36M310.08 302.33L320.92 306.67M320.07 306.37L330.93 309.63M330.07 309.36L336.93 311.64M342.07 310.36L345.93 311.64M345.61 311.06L344.39 315.94M360.08 322.67L365.92 320.33M377.08 314.66L385.92 311.34M455.07 322.63L465.93 319.37M465.08 319.67L475.92 315.33M475.08 315.67L485.92 311.33M495.06 296.61L499.94 295.39M499.39 295.06L500.61 299.94M500.64 299.07L499.36 302.93M552.35 255.92L556.65 244.08M627.33 172.92L631.67 162.08M631.33 162.92L635.67 152.08M635.33 152.92L639.67 142.08M395.08 31.67L400.92 29.33M405.08 28.33L410.92 30.67M427.08 53.33L437.92 57.67M437.07 57.38L444.93 59.62M452.08 64.33L462.92 68.67M462.07 68.37L475.93 72.63M507.06 101.61L511.94 100.39M511.08 100.34L519.92 103.66M529.07 111.38L536.93 113.62M542.39 126.06L544.61 134.94M560.07 149.36L572.93 153.64M554.64 188.07L551.36 197.93M690.93 53.36L684.07 55.64M677.93 56.36L668.07 59.64M657.07 76.64L660.93 75.36M662.64 77.07L661.36 80.93M661.93 80.36L658.07 81.64M649.62 89.07L647.38 96.93M646.06 114.39L650.94 115.61M727.93 42.36L724.07 43.64M724.62 58.07L722.38 65.93M706.64 74.93L705.36 71.07M677.93 96.37L667.07 99.63M658.64 96.07L657.36 99.93M663.39 100.06L664.61 104.94M661.66 111.08L658.34 119.92"/>
<path stroke-width="1.020" d="M235.53 31.05L234.47 45.95M234.59 45.06L232.41 55.94M227.58 74.06L225.42 85.94M216.50 107.05L216.50 116.95M212.50 142.05L212.50 160.95M212.41 160.06L214.59 170.94M210.94 189.43L204.06 190.57M196.44 190.05L197.56 197.95M190.57 214.06L189.43 220.94M195.50 250.05L195.50 256.95M200.56 262.05L199.44 270.95M194.95 274.45L185.05 275.55M290.59 356.06L289.41 361.94M272.56 382.05L271.44 390.95M271.41 390.06L273.59 400.94M320.45 426.05L321.55 435.95M321.43 435.06L323.57 447.94M323.46 447.05L324.54 457.95M324.55 457.05L323.45 466.95M260.44 542.05L261.56 550.95M186.94 585.40L168.06 589.60M150.95 595.44L129.05 598.56M129.94 598.43L111.06 601.57M96.95 605.44L81.05 607.56M81.95 607.45L31.05 613.55M31.94 613.43L18.06 615.57M18.95 615.45L0.05 617.55M217.46 157.05L218.54 167.95M223.56 174.05L222.44 182.95M217.94 189.43L211.06 190.57M211.95 190.55L202.05 189.45M201.46 192.05L202.54 202.95M197.56 210.05L196.44 217.95M196.44 217.05L197.56 224.95M195.45 231.05L196.55 240.95M245.05 287.54L255.95 286.46M255.05 286.54L265.95 285.46M265.05 285.46L275.95 286.54M275.05 286.50L286.95 286.50M336.06 311.57L342.94 310.43M349.05 319.50L355.95 319.50M385.05 311.55L394.95 310.45M394.05 310.44L402.95 311.56M402.05 311.46L412.95 312.54M412.05 312.50L420.95 312.50M426.06 318.41L431.94 319.59M431.05 319.50L439.95 319.50M439.06 319.43L445.94 320.57M499.05 302.50L505.95 302.50M534.41 280.94L535.59 275.06M372.06 42.59L382.94 40.41M400.06 29.59L405.94 28.41M536.44 113.05L537.56 121.95M569.59 174.06L568.41 179.94M551.44 197.05L553.56 212.95M553.54 212.05L552.46 222.95M552.50 222.05L552.50 230.95M701.56 27.05L700.44 34.95M702.41 38.06L703.59 43.94M703.95 43.44L695.05 44.56M691.57 47.06L690.43 53.94M684.95 55.44L677.05 56.56M655.94 88.43L649.06 89.57M645.44 107.05L646.56 114.95M657.41 115.06L658.59 120.94M737.50 28.05L737.50 44.95M732.94 41.41L727.06 42.59M724.57 43.06L723.43 49.94M723.45 49.05L724.55 58.95M710.95 74.50L706.05 74.50M702.43 75.06L703.57 81.94M662.95 96.50L658.05 96.50M657.06 99.43L663.94 100.57"/>
</g>
<g fill="#808080" font-family="'Liberation Sans',sans-serif" font-size="11"><text x="771.5" y="104.5">32S</text><text x="771.5" y="176.5">33S</text><text x="771.5" y="249.5">34S</text><text x="771.5" y="322.5">35S</text><text x="771.5" y="395.5">36S</text><text x="771.5" y="467.5">37S</text><text x="771.5" y="540.5">38S</text><text x="771.5" y="613.5">39S</text><text x="771.5" y="685.5">40S</text><text x="771.5" y="758.5">41S</text><text transform="translate(14.5,745) rotate(90)">61W</text><text transform="translate(86.5,745) rotate(90)">60W</text><text transform="translate(159.5,744.7) rotate(90)">59W</text><text transform="translate(232.5,744.7) rotate(90)">58W</text><text transform="translate(304.5,744.7) rotate(90)">57W</text><text transform="translate(377.5,744.7) rotate(90)">56W</text><text transform="translate(450.5,744.7) rotate(90)">55W</text><text transform="translate(523.5,744.7) rotate(90)">54W</text><text transform="translate(595.5,744.7) rotate(90)">53W</text><text transform="translate(668.5,744.7) rotate(90)">52W</text><text transform="translate(741.5,744.7) rotate(90)">51W</text><g clip-path="url(#cp)"><text x="771.5" y="31.5">31S</text></g></g>
<g fill="#000" shape-rendering="crispEdges"><rect x="0" y="27" width="800" height="1"/><rect x="0" y="27" width="1" height="746"/><rect x="0" y="768" width="2" height="5"/><rect x="1" y="27" width="1" height="5"/><rect x="1" y="768" width="1" height="5"/><rect x="9" y="27" width="1" height="17"/><rect x="9" y="756" width="1" height="17"/><rect x="16" y="27" width="1" height="5"/><rect x="16" y="768" width="1" height="5"/><rect x="23" y="27" width="1" height="5"/><rect x="23" y="768" width="1" height="5"/><rect x="30" y="27" width="1" height="5"/><rect x="30" y="768" width="1" height="5"/><rect x="38" y="27" width="1" height="5"/><rect x="38" y="768" width="1" height="5"/><rect x="45" y="27" width="1" height="9"/><rect x="45" y="764" width="1" height="9"/><rect x="52" y="27" width="1" height="5"/><rect x="52" y="768" width="1" height="5"/><rect x="59" y="27" width="1" height="5"/><rect x="59" y="768" width="1" height="5"/><rect x="67" y="27" width="1" height="5"/><rect x="67" y="768" width="1" height="5"/><rect x="74" y="27" width="1" height="5"/><rect x="74" y="768" width="1" height="5"/><rect x="81" y="27" width="1" height="17"/><rect x="81" y="756" width="1" height="17"/><rect x="89" y="27" width="1" height="5"/><rect x="89" y="768" width="1" height="5"/><rect x="96" y="27" width="1" height="5"/><rect x="96" y="768" width="1" height="5"/><rect x="103" y="27" width="1" height="5"/><rect x="103" y="768" width="1" height="5"/><rect x="110" y="27" width="1" height="5"/><rect x="110" y="768" width="1" height="5"/><rect x="118" y="27" width="1" height="9"/><rect x="118" y="764" width="1" height="9"/><rect x="125" y="27" width="1" height="5"/><rect x="125" y="768" width="1" height="5"/><rect x="132" y="27" width="1" height="5"/><rect x="132" y="768" width="1" height="5"/><rect x="139" y="27" width="1" height="5"/><rect x="139" y="768" width="1" height="5"/><rect x="147" y="27" width="1" height="5"/><rect x="147" y="768" width="1" height="5"/><rect x="154" y="27" width="1" height="17"/><rect x="154" y="756" width="1" height="17"/><rect x="161" y="27" width="1" height="5"/><rect x="161" y="768" width="1" height="5"/><rect x="169" y="27" width="1" height="5"/><rect x="169" y="768" width="1" height="5"/><rect x="176" y="27" width="1" height="5"/><rect x="176" y="768" width="1" height="5"/><rect x="183" y="27" width="1" height="5"/><rect x="183" y="768" width="1" height="5"/><rect x="190" y="27" width="1" height="9"/><rect x="190" y="764" width="1" height="9"/><rect x="198" y="27" width="1" height="5"/><rect x="198" y="768" width="1" height="5"/><rect x="205" y="27" width="1" height="5"/><rect x="205" y="768" width="1" height="5"/><rect x="212" y="27" width="1" height="5"/><rect x="212" y="768" width="1" height="5"/><rect x="219" y="27" width="1" height="5"/><rect x="219" y="768" width="1" height="5"/><rect x="227" y="27" width="1" height="17"/><rect x="227" y="756" width="1" height="17"/><rect x="234" y="27" width="1" height="5"/><rect x="234" y="768" width="1" height="5"/><rect x="241" y="27" width="1" height="5"/><rect x="241" y="768" width="1" height="5"/><rect x="249" y="27" width="1" height="5"/><rect x="249" y="768" width="1" height="5"/><rect x="256" y="27" width="1" height="5"/><rect x="256" y="768" width="1" height="5"/><rect x="263" y="27" width="1" height="9"/><rect x="263" y="764" width="1" height="9"/><rect x="270" y="27" width="1" height="5"/><rect x="270" y="768" width="1" height="5"/><rect x="278" y="27" width="1" height="5"/><rect x="278" y="768" width="1" height="5"/><rect x="285" y="27" width="1" height="5"/><rect x="285" y="768" width="1" height="5"/><rect x="292" y="27" width="1" height="5"/><rect x="292" y="768" width="1" height="5"/><rect x="299" y="27" width="1" height="17"/><rect x="299" y="756" width="1" height="17"/><rect x="307" y="27" width="1" height="5"/><rect x="307" y="768" width="1" height="5"/><rect x="314" y="27" width="1" height="5"/><rect x="314" y="768" width="1" height="5"/><rect x="321" y="27" width="1" height="5"/><rect x="321" y="768" width="1" height="5"/><rect x="329" y="27" width="1" height="5"/><rect x="329" y="768" width="1" height="5"/><rect x="336" y="27" width="1" height="9"/><rect x="336" y="764" width="1" height="9"/><rect x="343" y="27" width="1" height="5"/><rect x="343" y="768" width="1" height="5"/><rect x="350" y="27" width="1" height="5"/><rect x="350" y="768" width="1" height="5"/><rect x="358" y="27" width="1" height="5"/><rect x="358" y="768" width="1" height="5"/><rect x="365" y="27" width="1" height="5"/><rect x="365" y="768" width="1" height="5"/><rect x="372" y="27" width="1" height="17"/><rect x="372" y="756" width="1" height="17"/><rect x="379" y="27" width="1" height="5"/><rect x="379" y="768" width="1" height="5"/><rect x="387" y="27" width="1" height="5"/><rect x="387" y="768" width="1" height="5"/><rect x="394" y="27" width="1" height="5"/><rect x="394" y="768" width="1" height="5"/><rect x="401" y="27" width="1" height="5"/><rect x="401" y="768" width="1" height="5"/><rect x="409" y="27" width="1" height="9"/><rect x="409" y="764" width="1" height="9"/><rect x="416" y="27" width="1" height="5"/><rect x="416" y="768" width="1" height="5"/><rect x="423" y="27" width="1" height="5"/><rect x="423" y="768" width="1" height="5"/><rect x="430" y="27" width="1" height="5"/><rect x="430" y="768" width="1" height="5"/><rect x="438" y="27" width="1" height="5"/><rect x="438" y="768" width="1" height="5"/><rect x="445" y="27" width="1" height="17"/><rect x="445" y="756" width="1" height="17"/><rect x="452" y="27" width="1" height="5"/><rect x="452" y="768" width="1" height="5"/><rect x="459" y="27" width="1" height="5"/><rect x="459" y="768" width="1" height="5"/><rect x="467" y="27" width="1" height="5"/><rect x="467" y="768" width="1" height="5"/><rect x="474" y="27" width="1" height="5"/><rect x="474" y="768" width="1" height="5"/><rect x="481" y="27" width="1" height="9"/><rect x="481" y="764" width="1" height="9"/><rect x="489" y="27" width="1" height="5"/><rect x="489" y="768" width="1" height="5"/><rect x="496" y="27" width="1" height="5"/><rect x="496" y="768" width="1" height="5"/><rect x="503" y="27" width="1" height="5"/><rect x="503" y="768" width="1" height="5"/><rect x="510" y="27" width="1" height="5"/><rect x="510" y="768" width="1" height="5"/><rect x="518" y="27" width="1" height="17"/><rect x="518" y="756" width="1" height="17"/><rect x="525" y="27" width="1" height="5"/><rect x="525" y="768" width="1" height="5"/><rect x="532" y="27" width="1" height="5"/><rect x="532" y="768" width="1" height="5"/><rect x="539" y="27" width="1" height="5"/><rect x="539" y="768" width="1" height="5"/><rect x="547" y="27" width="1" height="5"/><rect x="547" y="768" width="1" height="5"/><rect x="554" y="27" width="1" height="9"/><rect x="554" y="764" width="1" height="9"/><rect x="561" y="27" width="1" height="5"/><rect x="561" y="768" width="1" height="5"/><rect x="569" y="27" width="1" height="5"/><rect x="569" y="768" width="1" height="5"/><rect x="576" y="27" width="1" height="5"/><rect x="576" y="768" width="1" height="5"/><rect x="583" y="27" width="1" height="5"/><rect x="583" y="768" width="1" height="5"/><rect x="590" y="27" width="1" height="17"/><rect x="590" y="756" width="1" height="17"/><rect x="598" y="27" width="1" height="5"/><rect x="598" y="768" width="1" height="5"/><rect x="605" y="27" width="1" height="5"/><rect x="605" y="768" width="1" height="5"/><rect x="612" y="27" width="1" height="5"/><rect x="612" y="768" width="1" height="5"/><rect x="619" y="27" width="1" height="5"/><rect x="619" y="768" width="1" height="5"/><rect x="627" y="27" width="1" height="9"/><rect x="627" y="764" width="1" height="9"/><rect x="634" y="27" width="1" height="5"/><rect x="634" y="768" width="1" height="5"/><rect x="641" y="27" width="1" height="5"/><rect x="641" y="768" width="1" height="5"/><rect x="649" y="27" width="1" height="5"/><rect x="649" y="768" width="1" height="5"/><rect x="656" y="27" width="1" height="5"/><rect x="656" y="768" width="1" height="5"/><rect x="663" y="27" width="1" height="17"/><rect x="663" y="756" width="1" height="17"/><rect x="670" y="27" width="1" height="5"/><rect x="670" y="768" width="1" height="5"/><rect x="678" y="27" width="1" height="5"/><rect x="678" y="768" width="1" height="5"/><rect x="685" y="27" width="1" height="5"/><rect x="685" y="768" width="1" height="5"/><rect x="692" y="27" width="1" height="5"/><rect x="692" y="768" width="1" height="5"/><rect x="699" y="27" width="1" height="9"/><rect x="699" y="764" width="1" height="9"/><rect x="707" y="27" width="1" height="5"/><rect x="707" y="768" width="1" height="5"/><rect x="714" y="27" width="1" height="5"/><rect x="714" y="768" width="1" height="5"/><rect x="721" y="27" width="1" height="5"/><rect x="721" y="768" width="1" height="5"/><rect x="729" y="27" width="1" height="5"/><rect x="729" y="768" width="1" height="5"/><rect x="736" y="27" width="1" height="17"/><rect x="736" y="756" width="1" height="17"/><rect x="743" y="27" width="1" height="5"/><rect x="743" y="768" width="1" height="5"/><rect x="750" y="27" width="1" height="5"/><rect x="750" y="768" width="1" height="5"/><rect x="758" y="27" width="1" height="5"/><rect x="758" y="768" width="1" height="5"/><rect x="765" y="27" width="1" height="5"/><rect x="765" y="768" width="1" height="5"/><rect x="772" y="27" width="1" height="9"/><rect x="772" y="764" width="1" height="9"/><rect x="779" y="27" width="1" height="5"/><rect x="779" y="768" width="1" height="5"/><rect x="787" y="27" width="1" height="5"/><rect x="787" y="768" width="1" height="5"/><rect x="794" y="27" width="1" height="5"/><rect x="794" y="768" width="1" height="5"/><rect x="0" y="29" width="4" height="1"/><rect x="795" y="29" width="5" height="1"/><rect x="0" y="36" width="17" height="1"/><rect x="782" y="36" width="18" height="1"/><rect x="0" y="43" width="4" height="1"/><rect x="795" y="43" width="5" height="1"/><rect x="0" y="50" width="4" height="1"/><rect x="795" y="50" width="5" height="1"/><rect x="0" y="58" width="4" height="1"/><rect x="795" y="58" width="5" height="1"/><rect x="0" y="65" width="4" height="1"/><rect x="795" y="65" width="5" height="1"/><rect x="0" y="72" width="8" height="1"/><rect x="790" y="72" width="10" height="1"/><rect x="0" y="80" width="4" height="1"/><rect x="795" y="80" width="5" height="1"/><rect x="0" y="87" width="4" height="1"/><rect x="795" y="87" width="5" height="1"/><rect x="0" y="94" width="4" height="1"/><rect x="795" y="94" width="5" height="1"/><rect x="0" y="101" width="4" height="1"/><rect x="795" y="101" width="5" height="1"/><rect x="0" y="109" width="17" height="1"/><rect x="782" y="109" width="18" height="1"/><rect x="0" y="116" width="4" height="1"/><rect x="795" y="116" width="5" height="1"/><rect x="0" y="123" width="4" height="1"/><rect x="795" y="123" width="5" height="1"/><rect x="0" y="130" width="4" height="1"/><rect x="795" y="130" width="5" height="1"/><rect x="0" y="138" width="4" height="1"/><rect x="795" y="138" width="5" height="1"/><rect x="0" y="145" width="8" height="1"/><rect x="790" y="145" width="10" height="1"/><rect x="0" y="152" width="4" height="1"/><rect x="795" y="152" width="5" height="1"/><rect x="0" y="160" width="4" height="1"/><rect x="795" y="160" width="5" height="1"/><rect x="0" y="167" width="4" height="1"/><rect x="795" y="167" width="5" height="1"/><rect x="0" y="174" width="4" height="1"/><rect x="795" y="174" width="5" height="1"/><rect x="0" y="181" width="17" height="1"/><rect x="782" y="181" width="18" height="1"/><rect x="0" y="189" width="4" height="1"/><rect x="795" y="189" width="5" height="1"/><rect x="0" y="196" width="4" height="1"/><rect x="795" y="196" width="5" height="1"/><rect x="0" y="203" width="4" height="1"/><rect x="795" y="203" width="5" height="1"/><rect x="0" y="210" width="4" height="1"/><rect x="795" y="210" width="5" height="1"/><rect x="0" y="218" width="8" height="1"/><rect x="790" y="218" width="10" height="1"/><rect x="0" y="225" width="4" height="1"/><rect x="795" y="225" width="5" height="1"/><rect x="0" y="232" width="4" height="1"/><rect x="795" y="232" width="5" height="1"/><rect x="0" y="240" width="4" height="1"/><rect x="795" y="240" width="5" height="1"/><rect x="0" y="247" width="4" height="1"/><rect x="795" y="247" width="5" height="1"/><rect x="0" y="254" width="17" height="1"/><rect x="782" y="254" width="18" height="1"/><rect x="0" y="261" width="4" height="1"/><rect x="795" y="261" width="5" height="1"/><rect x="0" y="269" width="4" height="1"/><rect x="795" y="269" width="5" height="1"/><rect x="0" y="276" width="4" height="1"/><rect x="795" y="276" width="5" height="1"/><rect x="0" y="283" width="4" height="1"/><rect x="795" y="283" width="5" height="1"/><rect x="0" y="290" width="8" height="1"/><rect x="790" y="290" width="10" height="1"/><rect x="0" y="298" width="4" height="1"/><rect x="795" y="298" width="5" height="1"/><rect x="0" y="305" width="4" height="1"/><rect x="795" y="305" width="5" height="1"/><rect x="0" y="312" width="4" height="1"/><rect x="795" y="312" width="5" height="1"/><rect x="0" y="320" width="4" height="1"/><rect x="795" y="320" width="5" height="1"/><rect x="0" y="327" width="17" height="1"/><rect x="782" y="327" width="18" height="1"/><rect x="0" y="334" width="4" height="1"/><rect x="795" y="334" width="5" height="1"/><rect x="0" y="341" width="4" height="1"/><rect x="795" y="341" width="5" height="1"/><rect x="0" y="349" width="4" height="1"/><rect x="795" y="349" width="5" height="1"/><rect x="0" y="356" width="4" height="1"/><rect x="795" y="356" width="5" height="1"/><rect x="0" y="363" width="8" height="1"/><rect x="790" y="363" width="10" height="1"/><rect x="0" y="370" width="4" height="1"/><rect x="795" y="370" width="5" height="1"/><rect x="0" y="378" width="4" height="1"/><rect x="795" y="378" width="5" height="1"/><rect x="0" y="385" width="4" height="1"/><rect x="795" y="385" width="5" height="1"/><rect x="0" y="392" width="4" height="1"/><rect x="795" y="392" width="5" height="1"/><rect x="0" y="400" width="17" height="1"/><rect x="782" y="400" width="18" height="1"/><rect x="0" y="407" width="4" height="1"/><rect x="795" y="407" width="5" height="1"/><rect x="0" y="414" width="4" height="1"/><rect x="795" y="414" width="5" height="1"/><rect x="0" y="421" width="4" height="1"/><rect x="795" y="421" width="5" height="1"/><rect x="0" y="429" width="4" height="1"/><rect x="795" y="429" width="5" height="1"/><rect x="0" y="436" width="8" height="1"/><rect x="790" y="436" width="10" height="1"/><rect x="0" y="443" width="4" height="1"/><rect x="795" y="443" width="5" height="1"/><rect x="0" y="450" width="4" height="1"/><rect x="795" y="450" width="5" height="1"/><rect x="0" y="458" width="4" height="1"/><rect x="795" y="458" width="5" height="1"/><rect x="0" y="465" width="4" height="1"/><rect x="795" y="465" width="5" height="1"/><rect x="0" y="472" width="17" height="1"/><rect x="782" y="472" width="18" height="1"/><rect x="0" y="480" width="4" height="1"/><rect x="795" y="480" width="5" height="1"/><rect x="0" y="487" width="4" height="1"/><rect x="795" y="487" width="5" height="1"/><rect x="0" y="494" width="4" height="1"/><rect x="795" y="494" width="5" height="1"/><rect x="0" y="501" width="4" height="1"/><rect x="795" y="501" width="5" height="1"/><rect x="0" y="509" width="8" height="1"/><rect x="790" y="509" width="10" height="1"/><rect x="0" y="516" width="4" height="1"/><rect x="795" y="516" width="5" height="1"/><rect x="0" y="523" width="4" height="1"/><rect x="795" y="523" width="5" height="1"/><rect x="0" y="530" width="4" height="1"/><rect x="795" y="530" width="5" height="1"/><rect x="0" y="538" width="4" height="1"/><rect x="795" y="538" width="5" height="1"/><rect x="0" y="545" width="17" height="1"/><rect x="782" y="545" width="18" height="1"/><rect x="0" y="552" width="4" height="1"/><rect x="795" y="552" width="5" height="1"/><rect x="0" y="560" width="4" height="1"/><rect x="795" y="560" width="5" height="1"/><rect x="0" y="567" width="4" height="1"/><rect x="795" y="567" width="5" height="1"/><rect x="0" y="574" width="4" height="1"/><rect x="795" y="574" width="5" height="1"/><rect x="0" y="581" width="8" height="1"/><rect x="790" y="581" width="10" height="1"/><rect x="0" y="589" width="4" height="1"/><rect x="795" y="589" width="5" height="1"/><rect x="0" y="596" width="4" height="1"/><rect x="795" y="596" width="5" height="1"/><rect x="0" y="603" width="4" height="1"/><rect x="795" y="603" width="5" height="1"/><rect x="0" y="610" width="4" height="1"/><rect x="795" y="610" width="5" height="1"/><rect x="0" y="618" width="17" height="1"/><rect x="782" y="618" width="18" height="1"/><rect x="0" y="625" width="4" height="1"/><rect x="795" y="625" width="5" height="1"/><rect x="0" y="632" width="4" height="1"/><rect x="795" y="632" width="5" height="1"/><rect x="0" y="640" width="4" height="1"/><rect x="795" y="640" width="5" height="1"/><rect x="0" y="647" width="4" height="1"/><rect x="795" y="647" width="5" height="1"/><rect x="0" y="654" width="8" height="1"/><rect x="790" y="654" width="10" height="1"/><rect x="0" y="661" width="4" height="1"/><rect x="795" y="661" width="5" height="1"/><rect x="0" y="669" width="4" height="1"/><rect x="795" y="669" width="5" height="1"/><rect x="0" y="676" width="4" height="1"/><rect x="795" y="676" width="5" height="1"/><rect x="0" y="683" width="4" height="1"/><rect x="795" y="683" width="5" height="1"/><rect x="0" y="690" width="17" height="1"/><rect x="782" y="690" width="18" height="1"/><rect x="0" y="698" width="4" height="1"/><rect x="795" y="698" width="5" height="1"/><rect x="0" y="705" width="4" height="1"/><rect x="795" y="705" width="5" height="1"/><rect x="0" y="712" width="4" height="1"/><rect x="795" y="712" width="5" height="1"/><rect x="0" y="720" width="4" height="1"/><rect x="795" y="720" width="5" height="1"/><rect x="0" y="727" width="8" height="1"/><rect x="790" y="727" width="10" height="1"/><rect x="0" y="734" width="4" height="1"/><rect x="795" y="734" width="5" height="1"/><rect x="0" y="741" width="4" height="1"/><rect x="795" y="741" width="5" height="1"/><rect x="0" y="749" width="4" height="1"/><rect x="795" y="749" width="5" height="1"/><rect x="0" y="756" width="4" height="1"/><rect x="795" y="756" width="5" height="1"/><rect x="0" y="763" width="17" height="1"/><rect x="782" y="763" width="18" height="1"/><rect x="0" y="770" width="4" height="1"/><rect x="795" y="770" width="5" height="1"/></g>
<g shape-rendering="crispEdges"><rect x="32" y="160" width="49" height="608" fill="#000"/><rect x="33" y="161" width="47" height="606" fill="#fff"/><rect x="34" y="162" width="45" height="604" fill="url(#cb)"/></g>
<g fill="#000" font-family="'Liberation Sans',sans-serif" font-size="14"><text x="87" y="165">30</text><text x="87" y="317">22</text><text x="87" y="469">15</text><text x="87" y="621">8</text><text x="87" y="772.5">0</text><text x="35" y="147.2">[m/s]</text></g>
<g fill="#808080" font-family="'DejaVu Sans','Liberation Sans',sans-serif" font-weight="bold" font-size="24.84"><text x="4.6" y="49.8">modelo GEFS-WAVE (NCEP)</text><text x="4.6" y="72.4">forecast date: 2024-02-25 06:00:00</text><text x="41" y="95">valid date: 2024-02-26 03:00:00</text></g>
</svg>
</body></html>
